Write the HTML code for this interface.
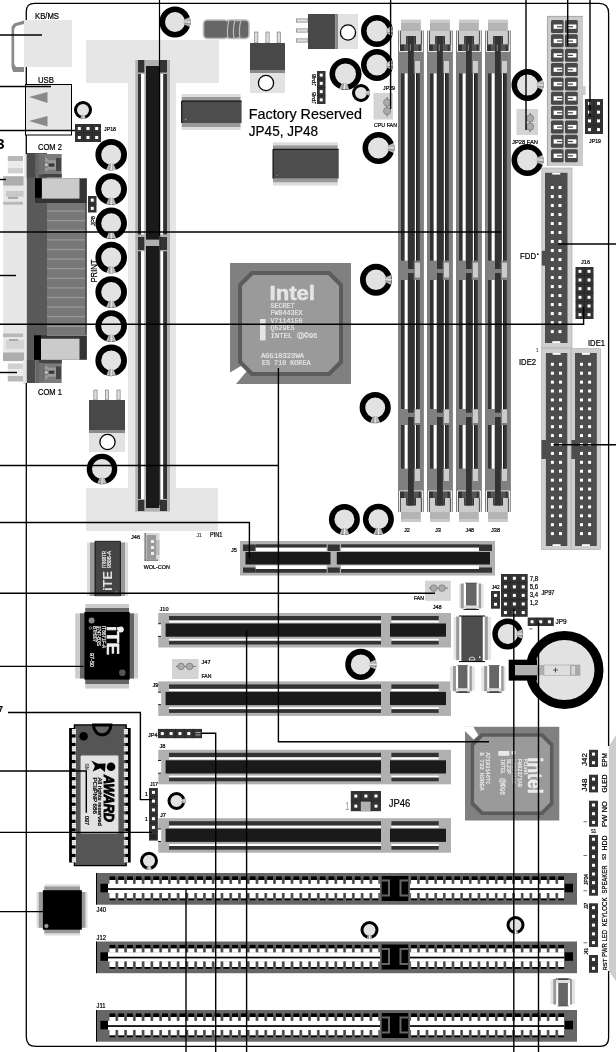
<!DOCTYPE html>
<html><head><meta charset="utf-8"><title>Mainboard layout</title>
<style>html,body{margin:0;padding:0;background:#fff}svg{display:block;filter:grayscale(1)}text{white-space:pre}</style></head>
<body><svg width="616" height="1052" viewBox="0 0 616 1052" shape-rendering="auto">
<rect width="616" height="1052" fill="#fff"/>
<rect x="86.00" y="40.00" width="133.00" height="43.00" fill="#e6e6e6" />
<rect x="128.00" y="40.00" width="48.00" height="491.00" fill="#e6e6e6" />
<rect x="86.00" y="488.00" width="132.00" height="43.00" fill="#e6e6e6" />
<rect x="135.30" y="60.00" width="34.70" height="451.60" fill="#b0b0b0" />
<rect x="138.00" y="74.00" width="3.00" height="160.40" fill="#333" />
<rect x="141.00" y="74.00" width="3.30" height="160.40" fill="#fff" />
<rect x="160.50" y="74.00" width="2.70" height="160.40" fill="#fff" />
<rect x="163.20" y="74.00" width="3.80" height="160.40" fill="#333" />
<rect x="138.00" y="251.30" width="3.00" height="247.70" fill="#333" />
<rect x="141.00" y="251.30" width="3.30" height="247.70" fill="#fff" />
<rect x="160.50" y="251.30" width="2.70" height="247.70" fill="#fff" />
<rect x="163.20" y="251.30" width="3.80" height="247.70" fill="#333" />
<rect x="138.00" y="60.00" width="6.30" height="12.50" fill="#333" />
<rect x="160.00" y="60.00" width="7.00" height="12.50" fill="#333" />
<rect x="138.00" y="237.00" width="6.30" height="13.00" fill="#333" />
<rect x="160.00" y="237.00" width="7.00" height="13.00" fill="#333" />
<rect x="138.00" y="500.00" width="6.30" height="11.00" fill="#333" />
<rect x="160.00" y="500.00" width="7.00" height="11.00" fill="#333" />
<rect x="146.00" y="66.00" width="13.30" height="173.60" fill="#1a1a1a" />
<rect x="146.00" y="246.00" width="13.30" height="262.00" fill="#1a1a1a" />
<rect x="24.00" y="20.00" width="48.00" height="47.00" fill="#e6e6e6" />
<polygon points="24,20.5 14,23.5 11.5,27 11.5,67 13,72 24,72 24,67 16,67 14.2,64 14.2,29 16,26 24,24" fill="#8a8a8a"/>
<text x="35.00" y="18.50" font-size="8.5" fill="#000" text-anchor="start" font-family="'Liberation Sans', sans-serif" textLength="24" lengthAdjust="spacingAndGlyphs" stroke="#000" stroke-width="0.22">KB/MS</text>
<rect x="26.00" y="85.00" width="45.00" height="45.50" fill="#e6e6e6" />
<rect x="25.5" y="84.5" width="46" height="50.5" fill="none" stroke="#000" stroke-width="1"/>
<polygon points="29,97 47.5,92 47.5,103" fill="#8a8a8a"/>
<polygon points="29,121 47.5,116 47.5,126.5" fill="#8a8a8a"/>
<text x="38.00" y="83.00" font-size="8.5" fill="#000" text-anchor="start" font-family="'Liberation Sans', sans-serif" textLength="16" lengthAdjust="spacingAndGlyphs" stroke="#000" stroke-width="0.22">USB</text>
<rect x="75.00" y="124.00" width="26.00" height="18.00" fill="#333" />
<rect x="77.83" y="127.00" width="3.00" height="3.00" fill="#fff" />
<rect x="77.83" y="136.00" width="3.00" height="3.00" fill="#fff" />
<rect x="86.50" y="127.00" width="3.00" height="3.00" fill="#fff" />
<rect x="86.50" y="136.00" width="3.00" height="3.00" fill="#fff" />
<rect x="95.17" y="127.00" width="3.00" height="3.00" fill="#fff" />
<rect x="95.17" y="136.00" width="3.00" height="3.00" fill="#fff" />
<path d="M83.67 124 V142" stroke="#222" stroke-width="0.6"/>
<path d="M92.33 124 V142" stroke="#222" stroke-width="0.6"/>
<path d="M75 133.00 H101" stroke="#222" stroke-width="0.6"/>
<text x="104.00" y="130.50" font-size="6" fill="#000" text-anchor="start" font-family="'Liberation Sans', sans-serif" textLength="12" lengthAdjust="spacingAndGlyphs" stroke="#000" stroke-width="0.22">JP18</text>
<text x="-3.80" y="148.50" font-size="15" fill="#000" text-anchor="start" font-family="'Liberation Sans', sans-serif" font-weight="bold">3</text>
<text x="38.00" y="150.00" font-size="8.5" fill="#000" text-anchor="start" font-family="'Liberation Sans', sans-serif" textLength="24" lengthAdjust="spacingAndGlyphs" stroke="#000" stroke-width="0.22">COM 2</text>
<text x="38.00" y="395.00" font-size="8.5" fill="#000" text-anchor="start" font-family="'Liberation Sans', sans-serif" textLength="24" lengthAdjust="spacingAndGlyphs" stroke="#000" stroke-width="0.22">COM 1</text>
<rect x="3.20" y="176.00" width="23.60" height="185.40" fill="#e7e7e7" />
<rect x="7.80" y="156.00" width="15.20" height="5.00" fill="#b8b8b8" />
<rect x="7.80" y="161.00" width="15.20" height="7.00" fill="#ececec" />
<rect x="7.80" y="168.00" width="15.20" height="5.40" fill="#d0d0d0" />
<rect x="24.30" y="154.00" width="2.70" height="24.00" fill="#e4e4e4" />
<rect x="3.20" y="176.30" width="20.30" height="9.30" fill="#adadad" />
<rect x="6.00" y="191.00" width="17.50" height="5.60" fill="#c8c8c8" />
<rect x="8.00" y="196.60" width="10.00" height="2.40" fill="#aaa" />
<rect x="3.20" y="201.80" width="19.80" height="2.90" fill="#b8b8b8" />
<rect x="3.00" y="333.50" width="20.00" height="3.50" fill="#b8b8b8" />
<rect x="6.00" y="340.00" width="18.00" height="9.00" fill="#d4d4d4" />
<rect x="9.00" y="339.00" width="9.00" height="2.00" fill="#aaa" />
<rect x="3.00" y="352.50" width="21.00" height="8.50" fill="#adadad" />
<rect x="7.80" y="363.50" width="15.20" height="5.50" fill="#d0d0d0" />
<rect x="7.80" y="369.00" width="15.20" height="7.00" fill="#ececec" />
<rect x="7.80" y="376.00" width="15.20" height="5.50" fill="#b8b8b8" />
<rect x="23.00" y="360.00" width="4.00" height="24.00" fill="#e4e4e4" />
<rect x="26.80" y="153.00" width="20.20" height="207.00" fill="#595959" />
<rect x="26.80" y="153.00" width="8.90" height="24.50" fill="#4a4a4a" />
<rect x="47.00" y="203.00" width="39.00" height="132.00" fill="#777" />
<rect x="47.00" y="210.50" width="38.50" height="1.20" fill="#999" />
<rect x="47.00" y="220.10" width="38.50" height="1.20" fill="#999" />
<rect x="47.00" y="229.70" width="38.50" height="1.20" fill="#999" />
<rect x="47.00" y="239.30" width="38.50" height="1.20" fill="#999" />
<rect x="47.00" y="248.90" width="38.50" height="1.20" fill="#999" />
<rect x="47.00" y="258.50" width="38.50" height="1.20" fill="#999" />
<rect x="47.00" y="268.10" width="38.50" height="1.20" fill="#999" />
<rect x="47.00" y="277.70" width="38.50" height="1.20" fill="#999" />
<rect x="47.00" y="287.30" width="38.50" height="1.20" fill="#999" />
<rect x="47.00" y="296.90" width="38.50" height="1.20" fill="#999" />
<rect x="47.00" y="306.50" width="38.50" height="1.20" fill="#999" />
<rect x="47.00" y="316.10" width="38.50" height="1.20" fill="#999" />
<rect x="47.00" y="325.70" width="38.50" height="1.20" fill="#999" />
<rect x="85.30" y="203.00" width="1.50" height="132.00" fill="#444" />
<rect x="35.70" y="154.00" width="26.00" height="23.50" fill="#7c7c7c" />
<rect x="35.70" y="154.00" width="3.30" height="23.50" fill="#666" />
<rect x="56.00" y="158.00" width="5.00" height="12.92" fill="#444" />
<rect x="39.00" y="173.97" width="22.70" height="3.53" fill="#444" />
<polygon points="39,154.47 43,154.47 48.7,160.34 56,160.34 56,169.51 48.7,169.51 42.5,174.21 39,174.21" fill="#9a9a9a"/>
<polygon points="39,154.47 43,154.47 45,156.35 45,172.80 42.5,174.21 39,174.21" fill="#707070"/>
<rect x="49.00" y="163.40" width="5.40" height="3.29" fill="#3a3a3a" />
<circle cx="46.3" cy="164.81" r="2.3" fill="#bbb" stroke="#444" stroke-width="0.6"/>
<rect x="26.80" y="360.00" width="8.90" height="23.00" fill="#4a4a4a" />
<rect x="35.70" y="360.00" width="26.00" height="23.00" fill="#7c7c7c" />
<rect x="35.70" y="360.00" width="3.30" height="23.00" fill="#666" />
<rect x="56.00" y="366.44" width="5.00" height="12.65" fill="#444" />
<rect x="39.00" y="360.00" width="22.70" height="3.45" fill="#444" />
<polygon points="39,382.54 43,382.54 48.7,376.79 56,376.79 56,367.82 48.7,367.82 42.5,363.22 39,363.22" fill="#9a9a9a"/>
<polygon points="39,382.54 43,382.54 45,380.70 45,364.60 42.5,363.22 39,363.22" fill="#707070"/>
<rect x="49.00" y="370.58" width="5.40" height="3.22" fill="#3a3a3a" />
<circle cx="46.3" cy="372.42" r="2.3" fill="#bbb" stroke="#444" stroke-width="0.6"/>
<rect x="35.00" y="178.30" width="51.90" height="24.70" fill="#333" />
<rect x="35.00" y="178.30" width="6.90" height="19.50" fill="#000" />
<rect x="41.90" y="178.30" width="37.60" height="20.30" fill="#cbcbcb" />
<rect x="34.00" y="335.40" width="52.90" height="24.40" fill="#333" />
<rect x="34.00" y="335.40" width="7.00" height="24.40" fill="#000" />
<rect x="41.00" y="338.70" width="38.50" height="21.10" fill="#cbcbcb" />
<rect x="88.00" y="196.00" width="8.50" height="16.50" fill="#333" />
<rect x="90.75" y="198.62" width="3.00" height="3.00" fill="#fff" />
<rect x="90.75" y="206.88" width="3.00" height="3.00" fill="#fff" />
<path d="M88 204.25 H96.5" stroke="#222" stroke-width="0.6"/>
<text x="0.00" y="0.00" font-size="6" fill="#000" text-anchor="start" font-family="'Liberation Sans', sans-serif" transform="translate(95,226) rotate(-90)" textLength="10" lengthAdjust="spacingAndGlyphs" stroke="#000" stroke-width="0.22">JP8</text>
<text x="0.00" y="0.00" font-size="8.5" fill="#000" text-anchor="start" font-family="'Liberation Sans', sans-serif" transform="translate(96.5,282.5) rotate(-90)" textLength="23" lengthAdjust="spacingAndGlyphs" stroke="#000" stroke-width="0.22">PRINT</text>
<circle cx="111.20" cy="154.70" r="12.90" fill="#e2e2e2" stroke="#000" stroke-width="5.80"/>
<polygon points="113.43,163.42 116.26,169.98 106.14,169.98 108.97,163.42" fill="#b8b8b8"/>
<path d="M111.20 163.70 L111.20 170.80" stroke="#fff" stroke-width="0.8"/>
<path d="M110.30 163.66 L108.95 170.64" stroke="#777" stroke-width="0.6"/>
<circle cx="111.20" cy="189.10" r="12.90" fill="#e2e2e2" stroke="#000" stroke-width="5.80"/>
<polygon points="113.43,197.82 116.26,204.38 106.14,204.38 108.97,197.82" fill="#b8b8b8"/>
<path d="M111.20 198.10 L111.20 205.20" stroke="#fff" stroke-width="0.8"/>
<path d="M110.30 198.06 L108.95 205.04" stroke="#777" stroke-width="0.6"/>
<circle cx="111.20" cy="223.30" r="12.90" fill="#e2e2e2" stroke="#000" stroke-width="5.80"/>
<polygon points="113.43,232.02 116.26,238.58 106.14,238.58 108.97,232.02" fill="#b8b8b8"/>
<path d="M111.20 232.30 L111.20 239.40" stroke="#fff" stroke-width="0.8"/>
<path d="M110.30 232.26 L108.95 239.24" stroke="#777" stroke-width="0.6"/>
<circle cx="111.20" cy="257.60" r="12.90" fill="#e2e2e2" stroke="#000" stroke-width="5.80"/>
<polygon points="113.43,266.32 116.26,272.88 106.14,272.88 108.97,266.32" fill="#b8b8b8"/>
<path d="M111.20 266.60 L111.20 273.70" stroke="#fff" stroke-width="0.8"/>
<path d="M110.30 266.56 L108.95 273.54" stroke="#777" stroke-width="0.6"/>
<circle cx="111.20" cy="292.00" r="12.90" fill="#e2e2e2" stroke="#000" stroke-width="5.80"/>
<polygon points="113.43,300.72 116.26,307.28 106.14,307.28 108.97,300.72" fill="#b8b8b8"/>
<path d="M111.20 301.00 L111.20 308.10" stroke="#fff" stroke-width="0.8"/>
<path d="M110.30 300.96 L108.95 307.94" stroke="#777" stroke-width="0.6"/>
<circle cx="111.20" cy="326.00" r="12.90" fill="#e2e2e2" stroke="#000" stroke-width="5.80"/>
<polygon points="113.43,334.72 116.26,341.28 106.14,341.28 108.97,334.72" fill="#b8b8b8"/>
<path d="M111.20 335.00 L111.20 342.10" stroke="#fff" stroke-width="0.8"/>
<path d="M110.30 334.96 L108.95 341.94" stroke="#777" stroke-width="0.6"/>
<circle cx="111.20" cy="360.40" r="12.90" fill="#e2e2e2" stroke="#000" stroke-width="5.80"/>
<polygon points="113.43,369.12 116.26,375.68 106.14,375.68 108.97,369.12" fill="#b8b8b8"/>
<path d="M111.20 369.40 L111.20 376.50" stroke="#fff" stroke-width="0.8"/>
<path d="M110.30 369.36 L108.95 376.34" stroke="#777" stroke-width="0.6"/>
<circle cx="175.00" cy="22.00" r="12.75" fill="#e2e2e2" stroke="#000" stroke-width="5.50"/>
<polygon points="183.72,19.77 190.00,17.03 190.00,26.97 183.72,24.23" fill="#b8b8b8"/>
<path d="M184.00 22.00 L190.80 22.00" stroke="#fff" stroke-width="0.8"/>
<path d="M183.96 22.90 L190.65 24.20" stroke="#777" stroke-width="0.6"/>
<circle cx="83.00" cy="110.00" r="7.50" fill="#e2e2e2" stroke="#000" stroke-width="3.00"/>
<polygon points="84.24,114.84 85.93,118.83 80.07,118.83 81.76,114.84" fill="#b8b8b8"/>
<path d="M83.00 115.00 L83.00 119.30" stroke="#fff" stroke-width="0.8"/>
<path d="M82.50 114.98 L81.70 119.21" stroke="#777" stroke-width="0.6"/>
<circle cx="377.00" cy="31.00" r="13.25" fill="#e2e2e2" stroke="#000" stroke-width="5.50"/>
<polygon points="386.20,28.65 392.47,25.87 392.47,36.13 386.20,33.35" fill="#b8b8b8"/>
<path d="M386.50 31.00 L393.30 31.00" stroke="#fff" stroke-width="0.8"/>
<path d="M386.45 31.95 L393.14 33.27" stroke="#777" stroke-width="0.6"/>
<circle cx="377.00" cy="65.00" r="13.25" fill="#e2e2e2" stroke="#000" stroke-width="5.50"/>
<polygon points="386.20,62.65 392.47,59.87 392.47,70.13 386.20,67.35" fill="#b8b8b8"/>
<path d="M386.50 65.00 L393.30 65.00" stroke="#fff" stroke-width="0.8"/>
<path d="M386.45 65.95 L393.14 67.27" stroke="#777" stroke-width="0.6"/>
<circle cx="345.50" cy="74.00" r="13.25" fill="#e2e2e2" stroke="#000" stroke-width="5.50"/>
<polygon points="347.04,83.37 349.26,89.86 339.04,88.97 342.36,82.96" fill="#b8b8b8"/>
<path d="M344.67 83.46 L344.08 90.24" stroke="#fff" stroke-width="0.8"/>
<path d="M343.73 83.33 L341.83 89.88" stroke="#777" stroke-width="0.6"/>
<circle cx="361.00" cy="93.00" r="7.50" fill="#e2e2e2" stroke="#000" stroke-width="3.00"/>
<polygon points="365.84,91.76 369.83,90.07 369.83,95.93 365.84,94.24" fill="#b8b8b8"/>
<path d="M366.00 93.00 L370.30 93.00" stroke="#fff" stroke-width="0.8"/>
<path d="M365.98 93.50 L370.21 94.30" stroke="#777" stroke-width="0.6"/>
<circle cx="378.50" cy="148.00" r="13.25" fill="#e2e2e2" stroke="#000" stroke-width="5.50"/>
<polygon points="387.70,145.65 393.97,142.87 393.97,153.13 387.70,150.35" fill="#b8b8b8"/>
<path d="M388.00 148.00 L394.80 148.00" stroke="#fff" stroke-width="0.8"/>
<path d="M387.95 148.95 L394.64 150.27" stroke="#777" stroke-width="0.6"/>
<circle cx="527.50" cy="85.00" r="13.25" fill="#e2e2e2" stroke="#000" stroke-width="5.50"/>
<polygon points="536.70,82.65 542.97,79.87 542.97,90.13 536.70,87.35" fill="#b8b8b8"/>
<path d="M537.00 85.00 L543.80 85.00" stroke="#fff" stroke-width="0.8"/>
<path d="M536.95 85.95 L543.64 87.27" stroke="#777" stroke-width="0.6"/>
<circle cx="527.50" cy="160.00" r="13.25" fill="#e2e2e2" stroke="#000" stroke-width="5.50"/>
<polygon points="536.70,157.65 542.97,154.87 542.97,165.13 536.70,162.35" fill="#b8b8b8"/>
<path d="M537.00 160.00 L543.80 160.00" stroke="#fff" stroke-width="0.8"/>
<path d="M536.95 160.95 L543.64 162.27" stroke="#777" stroke-width="0.6"/>
<circle cx="102.00" cy="469.00" r="12.65" fill="#e2e2e2" stroke="#000" stroke-width="5.30"/>
<polygon points="104.23,477.72 106.91,483.81 97.09,483.81 99.77,477.72" fill="#b8b8b8"/>
<path d="M102.00 478.00 L102.00 484.60" stroke="#fff" stroke-width="0.8"/>
<path d="M101.10 477.96 L99.82 484.45" stroke="#777" stroke-width="0.6"/>
<circle cx="376.00" cy="279.80" r="13.15" fill="#e2e2e2" stroke="#000" stroke-width="5.70"/>
<polygon points="385.01,277.50 391.47,274.67 391.47,284.93 385.01,282.10" fill="#b8b8b8"/>
<path d="M385.30 279.80 L392.30 279.80" stroke="#fff" stroke-width="0.8"/>
<path d="M385.25 280.73 L392.14 282.07" stroke="#777" stroke-width="0.6"/>
<circle cx="375.20" cy="407.60" r="12.80" fill="#e2e2e2" stroke="#000" stroke-width="5.60"/>
<polygon points="377.43,416.32 380.20,422.69 370.20,422.69 372.97,416.32" fill="#b8b8b8"/>
<path d="M375.20 416.60 L375.20 423.50" stroke="#fff" stroke-width="0.8"/>
<path d="M374.30 416.56 L372.98 423.34" stroke="#777" stroke-width="0.6"/>
<circle cx="344.40" cy="519.40" r="12.75" fill="#e2e2e2" stroke="#000" stroke-width="5.50"/>
<polygon points="346.63,528.12 349.37,534.40 339.43,534.40 342.17,528.12" fill="#b8b8b8"/>
<path d="M344.40 528.40 L344.40 535.20" stroke="#fff" stroke-width="0.8"/>
<path d="M343.50 528.36 L342.20 535.05" stroke="#777" stroke-width="0.6"/>
<circle cx="378.40" cy="519.20" r="12.75" fill="#e2e2e2" stroke="#000" stroke-width="5.50"/>
<polygon points="380.63,527.92 383.37,534.20 373.43,534.20 376.17,527.92" fill="#b8b8b8"/>
<path d="M378.40 528.20 L378.40 535.00" stroke="#fff" stroke-width="0.8"/>
<path d="M377.50 528.16 L376.20 534.85" stroke="#777" stroke-width="0.6"/>
<circle cx="360.80" cy="664.40" r="12.80" fill="#e2e2e2" stroke="#000" stroke-width="5.60"/>
<polygon points="369.52,662.17 375.89,659.40 375.89,669.40 369.52,666.63" fill="#b8b8b8"/>
<path d="M369.80 664.40 L376.70 664.40" stroke="#fff" stroke-width="0.8"/>
<path d="M369.76 665.30 L376.54 666.62" stroke="#777" stroke-width="0.6"/>
<circle cx="507.70" cy="634.00" r="12.70" fill="#e2e2e2" stroke="#000" stroke-width="5.40"/>
<polygon points="516.42,631.77 522.60,629.06 522.60,638.94 516.42,636.23" fill="#b8b8b8"/>
<path d="M516.70 634.00 L523.40 634.00" stroke="#fff" stroke-width="0.8"/>
<path d="M516.66 634.90 L523.25 636.19" stroke="#777" stroke-width="0.6"/>
<circle cx="149.00" cy="860.80" r="7.50" fill="#e2e2e2" stroke="#000" stroke-width="3.00"/>
<polygon points="150.24,865.64 151.93,869.63 146.07,869.63 147.76,865.64" fill="#b8b8b8"/>
<path d="M149.00 865.80 L149.00 870.10" stroke="#fff" stroke-width="0.8"/>
<path d="M148.50 865.78 L147.70 870.01" stroke="#777" stroke-width="0.6"/>
<circle cx="176.50" cy="801.00" r="7.50" fill="#e2e2e2" stroke="#000" stroke-width="3.00"/>
<polygon points="181.34,799.76 185.33,798.07 185.33,803.93 181.34,802.24" fill="#b8b8b8"/>
<path d="M181.50 801.00 L185.80 801.00" stroke="#fff" stroke-width="0.8"/>
<path d="M181.48 801.50 L185.71 802.30" stroke="#777" stroke-width="0.6"/>
<circle cx="369.50" cy="930.00" r="7.50" fill="#e2e2e2" stroke="#000" stroke-width="3.00"/>
<polygon points="370.74,934.84 372.43,938.83 366.57,938.83 368.26,934.84" fill="#b8b8b8"/>
<path d="M369.50 935.00 L369.50 939.30" stroke="#fff" stroke-width="0.8"/>
<path d="M369.00 934.98 L368.20 939.21" stroke="#777" stroke-width="0.6"/>
<circle cx="515.50" cy="925.00" r="7.50" fill="#e2e2e2" stroke="#000" stroke-width="3.00"/>
<polygon points="516.74,929.84 518.43,933.83 512.57,933.83 514.26,929.84" fill="#b8b8b8"/>
<path d="M515.50 930.00 L515.50 934.30" stroke="#fff" stroke-width="0.8"/>
<path d="M515.00 929.98 L514.20 934.21" stroke="#777" stroke-width="0.6"/>
<rect x="254.70" y="32.00" width="3.20" height="11.00" fill="#ddd" stroke="#555" stroke-width="0.5"/>
<rect x="265.90" y="32.00" width="3.20" height="11.00" fill="#ddd" stroke="#555" stroke-width="0.5"/>
<rect x="277.10" y="32.00" width="3.20" height="11.00" fill="#ddd" stroke="#555" stroke-width="0.5"/>
<rect x="250.00" y="43.00" width="35.00" height="27.00" fill="#484848" />
<rect x="250.00" y="70.00" width="35.00" height="3.00" fill="#8a8a8a" />
<rect x="250.00" y="73.00" width="35.00" height="20.00" fill="#e2e2e2" />
<circle cx="266" cy="83" r="7.6" fill="#fff" stroke="#000" stroke-width="1.3"/>
<rect x="93.88" y="390.00" width="3.20" height="10.00" fill="#ddd" stroke="#555" stroke-width="0.5"/>
<rect x="105.40" y="390.00" width="3.20" height="10.00" fill="#ddd" stroke="#555" stroke-width="0.5"/>
<rect x="116.92" y="390.00" width="3.20" height="10.00" fill="#ddd" stroke="#555" stroke-width="0.5"/>
<rect x="89.00" y="400.00" width="36.00" height="30.00" fill="#484848" />
<rect x="89.00" y="430.00" width="36.00" height="3.00" fill="#8a8a8a" />
<rect x="89.00" y="433.00" width="36.00" height="19.00" fill="#e2e2e2" />
<circle cx="107.5" cy="442" r="7.6" fill="#fff" stroke="#000" stroke-width="1.3"/>
<rect x="296.50" y="18.90" width="11.50" height="3.20" fill="#ddd" stroke="#555" stroke-width="0.5"/>
<rect x="296.50" y="28.90" width="11.50" height="3.20" fill="#ddd" stroke="#555" stroke-width="0.5"/>
<rect x="296.50" y="38.90" width="11.50" height="3.20" fill="#ddd" stroke="#555" stroke-width="0.5"/>
<rect x="308.00" y="14.00" width="27.50" height="35.00" fill="#484848" />
<rect x="335.50" y="14.00" width="2.50" height="35.00" fill="#8a8a8a" />
<rect x="338.00" y="14.00" width="20.00" height="35.00" fill="#e2e2e2" />
<circle cx="348" cy="32.5" r="7.6" fill="#fff" stroke="#000" stroke-width="1.3"/>
<rect x="203.5" y="20" width="24.5" height="18.5" rx="4" fill="#6a6a6a" stroke="#bbb" stroke-width="1.6"/>
<rect x="226" y="20" width="17" height="18.5" rx="4" fill="#6a6a6a" stroke="#bbb" stroke-width="1.6"/>
<rect x="237" y="20" width="12" height="18.5" rx="4" fill="#6a6a6a" stroke="#bbb" stroke-width="1.6"/>
<rect x="205" y="21.5" width="42.5" height="15.5" rx="3.5" fill="#666"/>
<path d="M229 20 Q226.5 29 228 38.5" stroke="#bbb" stroke-width="1.2" fill="none"/>
<path d="M235 20 Q232.5 29 234 38.5" stroke="#bbb" stroke-width="1.2" fill="none"/>
<path d="M241 20 Q238.5 29 240 38.5" stroke="#bbb" stroke-width="1.2" fill="none"/>
<rect x="181.70" y="94.00" width="58.90" height="3.00" fill="#ddd" />
<rect x="181.70" y="97.00" width="58.90" height="4.00" fill="#999" />
<rect x="181.70" y="123.00" width="58.90" height="4.00" fill="#999" />
<rect x="181.70" y="127.00" width="58.90" height="3.00" fill="#ddd" />
<rect x="181.70" y="101.00" width="59.90" height="22.00" fill="#4d4d4d" />
<path d="M181.7 123 V101 H241.6" stroke="#000" stroke-width="1" fill="none"/>
<circle cx="185.7" cy="119.5" r="1.2" fill="#999" stroke="#222" stroke-width="0.5"/>
<rect x="273.00" y="142.30" width="64.70" height="3.00" fill="#ddd" />
<rect x="273.00" y="145.30" width="64.70" height="4.00" fill="#999" />
<rect x="273.00" y="178.60" width="64.70" height="4.00" fill="#999" />
<rect x="273.00" y="182.60" width="64.70" height="3.00" fill="#ddd" />
<rect x="273.00" y="149.30" width="65.70" height="29.30" fill="#4d4d4d" />
<path d="M273 178.6 V149.3 H338.7" stroke="#000" stroke-width="1" fill="none"/>
<circle cx="277" cy="175.1" r="1.2" fill="#999" stroke="#222" stroke-width="0.5"/>
<text x="248.80" y="118.50" font-size="14.5" fill="#000" text-anchor="start" font-family="'Liberation Sans', sans-serif" stroke="#000" stroke-width="0.2" textLength="113.2" lengthAdjust="spacingAndGlyphs">Factory Reserved</text>
<text x="248.80" y="136.20" font-size="14.5" fill="#000" text-anchor="start" font-family="'Liberation Sans', sans-serif" stroke="#000" stroke-width="0.2" textLength="69.3" lengthAdjust="spacingAndGlyphs">JP45, JP48</text>
<rect x="317.00" y="71.00" width="8.50" height="33.00" fill="#333" />
<rect x="319.75" y="73.62" width="3.00" height="3.00" fill="#fff" />
<rect x="319.75" y="81.88" width="3.00" height="3.00" fill="#fff" />
<rect x="319.75" y="90.12" width="3.00" height="3.00" fill="#fff" />
<rect x="319.75" y="98.38" width="3.00" height="3.00" fill="#fff" />
<path d="M317 79.25 H325.5" stroke="#222" stroke-width="0.6"/>
<path d="M317 87.50 H325.5" stroke="#222" stroke-width="0.6"/>
<path d="M317 95.75 H325.5" stroke="#222" stroke-width="0.6"/>
<text x="0.00" y="0.00" font-size="5.5" fill="#000" text-anchor="start" font-family="'Liberation Sans', sans-serif" transform="translate(315.5,104) rotate(-90)" textLength="12" lengthAdjust="spacingAndGlyphs" stroke="#000" stroke-width="0.22">JP45</text>
<text x="0.00" y="0.00" font-size="5.5" fill="#000" text-anchor="start" font-family="'Liberation Sans', sans-serif" transform="translate(315.5,86) rotate(-90)" textLength="12" lengthAdjust="spacingAndGlyphs" stroke="#000" stroke-width="0.22">JP48</text>
<rect x="373.50" y="93.00" width="19.50" height="26.50" fill="#d4d4d4" />
<path d="M387.1 97 V116.5" stroke="#666" stroke-width="1"/>
<circle cx="387.1" cy="102.54" r="3.6" fill="#aaa" stroke="#777" stroke-width="0.7"/>
<circle cx="387.1" cy="111.02" r="3.6" fill="#aaa" stroke="#777" stroke-width="0.7"/>
<text x="383.00" y="90.00" font-size="6" fill="#000" text-anchor="start" font-family="'Liberation Sans', sans-serif" textLength="12" lengthAdjust="spacingAndGlyphs" stroke="#000" stroke-width="0.22">JP29</text>
<text x="374.00" y="126.50" font-size="6" fill="#000" text-anchor="start" font-family="'Liberation Sans', sans-serif" textLength="23" lengthAdjust="spacingAndGlyphs" stroke="#000" stroke-width="0.22">CPU FAN</text>
<rect x="516.50" y="109.00" width="21.50" height="26.00" fill="#d4d4d4" />
<path d="M530.1 113 V132" stroke="#666" stroke-width="1"/>
<circle cx="530.1" cy="118.36" r="3.6" fill="#aaa" stroke="#777" stroke-width="0.7"/>
<circle cx="530.1" cy="126.68" r="3.6" fill="#aaa" stroke="#777" stroke-width="0.7"/>
<text x="512.00" y="143.50" font-size="6" fill="#000" text-anchor="start" font-family="'Liberation Sans', sans-serif" textLength="26" lengthAdjust="spacingAndGlyphs" stroke="#000" stroke-width="0.22">JP28 FAN</text>
<rect x="401.00" y="19.80" width="19.80" height="11.20" fill="#b4b4b4" />
<rect x="401.00" y="19.80" width="19.80" height="3.20" fill="#cacaca" />
<rect x="401.00" y="511.00" width="19.80" height="11.00" fill="#b4b4b4" />
<rect x="401.00" y="519.00" width="19.80" height="3.00" fill="#cacaca" />
<rect x="398.00" y="30.50" width="25.90" height="481.50" fill="#808080" />
<rect x="401.00" y="30.50" width="19.80" height="14.00" fill="#ccc" />
<rect x="401.00" y="498.00" width="19.80" height="14.00" fill="#ccc" />
<path d="M399.5 30.5 V51.4 H422.6 V30.5" stroke="#fff" stroke-width="0.9" fill="none"/>
<path d="M399.5 512 V491 H422.6 V512" stroke="#fff" stroke-width="0.9" fill="none"/>
<path d="M400.4 31 V44.5 M421.6 31 V44.5 M400.4 498 V511.5 M421.6 498 V511.5" stroke="#444" stroke-width="0.7" fill="none"/>
<rect x="400.00" y="44.50" width="4.20" height="6.50" fill="#333" />
<rect x="404.20" y="44.50" width="4.30" height="6.50" fill="#555" />
<rect x="412.20" y="44.50" width="6.20" height="6.50" fill="#555" />
<rect x="418.40" y="44.50" width="2.40" height="6.50" fill="#333" />
<rect x="400.00" y="491.50" width="4.20" height="6.50" fill="#333" />
<rect x="404.20" y="491.50" width="4.30" height="6.50" fill="#555" />
<rect x="412.20" y="491.50" width="6.20" height="6.50" fill="#555" />
<rect x="418.40" y="491.50" width="2.40" height="6.50" fill="#333" />
<rect x="406.10" y="36.10" width="9.90" height="8.40" fill="#333" />
<rect x="406.10" y="498.00" width="9.90" height="7.50" fill="#333" />
<path d="M407.6 37 V44.5 M414.4 37 V44.5 M407.6 498 V504.5 M414.4 498 V504.5" stroke="#777" stroke-width="0.5"/>
<rect x="408.00" y="36.10" width="5.80" height="232.90" fill="#333" />
<rect x="408.00" y="273.00" width="5.80" height="139.70" fill="#333" />
<rect x="408.00" y="417.00" width="5.80" height="88.50" fill="#333" />
<path d="M410.3 44.5 V51" stroke="#ddd" stroke-width="0.5"/>
<rect x="401.00" y="73.40" width="3.70" height="187.20" fill="#333" />
<rect x="404.70" y="73.40" width="3.10" height="187.20" fill="#fff" />
<rect x="407.80" y="73.40" width="7.10" height="187.20" fill="#333" />
<rect x="414.90" y="73.40" width="1.20" height="187.20" fill="#fff" />
<rect x="416.10" y="73.40" width="0.80" height="187.20" fill="#000" />
<rect x="416.90" y="73.40" width="2.90" height="187.20" fill="#333" />
<rect x="401.00" y="280.00" width="3.70" height="129.00" fill="#333" />
<rect x="404.70" y="280.00" width="3.10" height="129.00" fill="#fff" />
<rect x="407.80" y="280.00" width="7.10" height="129.00" fill="#333" />
<rect x="414.90" y="280.00" width="1.20" height="129.00" fill="#fff" />
<rect x="416.10" y="280.00" width="0.80" height="129.00" fill="#000" />
<rect x="416.90" y="280.00" width="2.90" height="129.00" fill="#333" />
<rect x="401.00" y="425.00" width="3.70" height="43.60" fill="#333" />
<rect x="404.70" y="425.00" width="3.10" height="43.60" fill="#fff" />
<rect x="407.80" y="425.00" width="7.10" height="43.60" fill="#333" />
<rect x="414.90" y="425.00" width="1.20" height="43.60" fill="#fff" />
<rect x="416.10" y="425.00" width="0.80" height="43.60" fill="#000" />
<rect x="416.90" y="425.00" width="2.90" height="43.60" fill="#333" />
<rect x="415.00" y="61.00" width="5.00" height="11.90" fill="#ccc" />
<rect x="415.00" y="262.70" width="5.00" height="14.80" fill="#ccc" />
<rect x="415.00" y="409.50" width="5.00" height="13.50" fill="#ccc" />
<rect x="415.00" y="469.00" width="5.00" height="12.00" fill="#ccc" />
<rect x="430.00" y="19.80" width="19.80" height="11.20" fill="#b4b4b4" />
<rect x="430.00" y="19.80" width="19.80" height="3.20" fill="#cacaca" />
<rect x="430.00" y="511.00" width="19.80" height="11.00" fill="#b4b4b4" />
<rect x="430.00" y="519.00" width="19.80" height="3.00" fill="#cacaca" />
<rect x="427.00" y="30.50" width="25.90" height="481.50" fill="#808080" />
<rect x="430.00" y="30.50" width="19.80" height="14.00" fill="#ccc" />
<rect x="430.00" y="498.00" width="19.80" height="14.00" fill="#ccc" />
<path d="M428.5 30.5 V51.4 H451.6 V30.5" stroke="#fff" stroke-width="0.9" fill="none"/>
<path d="M428.5 512 V491 H451.6 V512" stroke="#fff" stroke-width="0.9" fill="none"/>
<path d="M429.4 31 V44.5 M450.6 31 V44.5 M429.4 498 V511.5 M450.6 498 V511.5" stroke="#444" stroke-width="0.7" fill="none"/>
<rect x="429.00" y="44.50" width="4.20" height="6.50" fill="#333" />
<rect x="433.20" y="44.50" width="4.30" height="6.50" fill="#555" />
<rect x="441.20" y="44.50" width="6.20" height="6.50" fill="#555" />
<rect x="447.40" y="44.50" width="2.40" height="6.50" fill="#333" />
<rect x="429.00" y="491.50" width="4.20" height="6.50" fill="#333" />
<rect x="433.20" y="491.50" width="4.30" height="6.50" fill="#555" />
<rect x="441.20" y="491.50" width="6.20" height="6.50" fill="#555" />
<rect x="447.40" y="491.50" width="2.40" height="6.50" fill="#333" />
<rect x="435.10" y="36.10" width="9.90" height="8.40" fill="#333" />
<rect x="435.10" y="498.00" width="9.90" height="7.50" fill="#333" />
<path d="M436.6 37 V44.5 M443.4 37 V44.5 M436.6 498 V504.5 M443.4 498 V504.5" stroke="#777" stroke-width="0.5"/>
<rect x="437.00" y="36.10" width="5.80" height="232.90" fill="#333" />
<rect x="437.00" y="273.00" width="5.80" height="139.70" fill="#333" />
<rect x="437.00" y="417.00" width="5.80" height="88.50" fill="#333" />
<path d="M439.3 44.5 V51" stroke="#ddd" stroke-width="0.5"/>
<rect x="430.00" y="73.40" width="3.70" height="187.20" fill="#333" />
<rect x="433.70" y="73.40" width="3.10" height="187.20" fill="#fff" />
<rect x="436.80" y="73.40" width="7.10" height="187.20" fill="#333" />
<rect x="443.90" y="73.40" width="1.20" height="187.20" fill="#fff" />
<rect x="445.10" y="73.40" width="0.80" height="187.20" fill="#000" />
<rect x="445.90" y="73.40" width="2.90" height="187.20" fill="#333" />
<rect x="430.00" y="280.00" width="3.70" height="129.00" fill="#333" />
<rect x="433.70" y="280.00" width="3.10" height="129.00" fill="#fff" />
<rect x="436.80" y="280.00" width="7.10" height="129.00" fill="#333" />
<rect x="443.90" y="280.00" width="1.20" height="129.00" fill="#fff" />
<rect x="445.10" y="280.00" width="0.80" height="129.00" fill="#000" />
<rect x="445.90" y="280.00" width="2.90" height="129.00" fill="#333" />
<rect x="430.00" y="425.00" width="3.70" height="43.60" fill="#333" />
<rect x="433.70" y="425.00" width="3.10" height="43.60" fill="#fff" />
<rect x="436.80" y="425.00" width="7.10" height="43.60" fill="#333" />
<rect x="443.90" y="425.00" width="1.20" height="43.60" fill="#fff" />
<rect x="445.10" y="425.00" width="0.80" height="43.60" fill="#000" />
<rect x="445.90" y="425.00" width="2.90" height="43.60" fill="#333" />
<rect x="444.00" y="61.00" width="5.00" height="11.90" fill="#ccc" />
<rect x="444.00" y="262.70" width="5.00" height="14.80" fill="#ccc" />
<rect x="444.00" y="409.50" width="5.00" height="13.50" fill="#ccc" />
<rect x="444.00" y="469.00" width="5.00" height="12.00" fill="#ccc" />
<rect x="459.00" y="19.80" width="19.80" height="11.20" fill="#b4b4b4" />
<rect x="459.00" y="19.80" width="19.80" height="3.20" fill="#cacaca" />
<rect x="459.00" y="511.00" width="19.80" height="11.00" fill="#b4b4b4" />
<rect x="459.00" y="519.00" width="19.80" height="3.00" fill="#cacaca" />
<rect x="456.00" y="30.50" width="25.90" height="481.50" fill="#808080" />
<rect x="459.00" y="30.50" width="19.80" height="14.00" fill="#ccc" />
<rect x="459.00" y="498.00" width="19.80" height="14.00" fill="#ccc" />
<path d="M457.5 30.5 V51.4 H480.6 V30.5" stroke="#fff" stroke-width="0.9" fill="none"/>
<path d="M457.5 512 V491 H480.6 V512" stroke="#fff" stroke-width="0.9" fill="none"/>
<path d="M458.4 31 V44.5 M479.6 31 V44.5 M458.4 498 V511.5 M479.6 498 V511.5" stroke="#444" stroke-width="0.7" fill="none"/>
<rect x="458.00" y="44.50" width="4.20" height="6.50" fill="#333" />
<rect x="462.20" y="44.50" width="4.30" height="6.50" fill="#555" />
<rect x="470.20" y="44.50" width="6.20" height="6.50" fill="#555" />
<rect x="476.40" y="44.50" width="2.40" height="6.50" fill="#333" />
<rect x="458.00" y="491.50" width="4.20" height="6.50" fill="#333" />
<rect x="462.20" y="491.50" width="4.30" height="6.50" fill="#555" />
<rect x="470.20" y="491.50" width="6.20" height="6.50" fill="#555" />
<rect x="476.40" y="491.50" width="2.40" height="6.50" fill="#333" />
<rect x="464.10" y="36.10" width="9.90" height="8.40" fill="#333" />
<rect x="464.10" y="498.00" width="9.90" height="7.50" fill="#333" />
<path d="M465.6 37 V44.5 M472.4 37 V44.5 M465.6 498 V504.5 M472.4 498 V504.5" stroke="#777" stroke-width="0.5"/>
<rect x="466.00" y="36.10" width="5.80" height="232.90" fill="#333" />
<rect x="466.00" y="273.00" width="5.80" height="139.70" fill="#333" />
<rect x="466.00" y="417.00" width="5.80" height="88.50" fill="#333" />
<path d="M468.3 44.5 V51" stroke="#ddd" stroke-width="0.5"/>
<rect x="459.00" y="73.40" width="3.70" height="187.20" fill="#333" />
<rect x="462.70" y="73.40" width="3.10" height="187.20" fill="#fff" />
<rect x="465.80" y="73.40" width="7.10" height="187.20" fill="#333" />
<rect x="472.90" y="73.40" width="1.20" height="187.20" fill="#fff" />
<rect x="474.10" y="73.40" width="0.80" height="187.20" fill="#000" />
<rect x="474.90" y="73.40" width="2.90" height="187.20" fill="#333" />
<rect x="459.00" y="280.00" width="3.70" height="129.00" fill="#333" />
<rect x="462.70" y="280.00" width="3.10" height="129.00" fill="#fff" />
<rect x="465.80" y="280.00" width="7.10" height="129.00" fill="#333" />
<rect x="472.90" y="280.00" width="1.20" height="129.00" fill="#fff" />
<rect x="474.10" y="280.00" width="0.80" height="129.00" fill="#000" />
<rect x="474.90" y="280.00" width="2.90" height="129.00" fill="#333" />
<rect x="459.00" y="425.00" width="3.70" height="43.60" fill="#333" />
<rect x="462.70" y="425.00" width="3.10" height="43.60" fill="#fff" />
<rect x="465.80" y="425.00" width="7.10" height="43.60" fill="#333" />
<rect x="472.90" y="425.00" width="1.20" height="43.60" fill="#fff" />
<rect x="474.10" y="425.00" width="0.80" height="43.60" fill="#000" />
<rect x="474.90" y="425.00" width="2.90" height="43.60" fill="#333" />
<rect x="473.00" y="61.00" width="5.00" height="11.90" fill="#ccc" />
<rect x="473.00" y="262.70" width="5.00" height="14.80" fill="#ccc" />
<rect x="473.00" y="409.50" width="5.00" height="13.50" fill="#ccc" />
<rect x="473.00" y="469.00" width="5.00" height="12.00" fill="#ccc" />
<rect x="488.00" y="19.80" width="19.80" height="11.20" fill="#b4b4b4" />
<rect x="488.00" y="19.80" width="19.80" height="3.20" fill="#cacaca" />
<rect x="488.00" y="511.00" width="19.80" height="11.00" fill="#b4b4b4" />
<rect x="488.00" y="519.00" width="19.80" height="3.00" fill="#cacaca" />
<rect x="485.00" y="30.50" width="25.90" height="481.50" fill="#808080" />
<rect x="488.00" y="30.50" width="19.80" height="14.00" fill="#ccc" />
<rect x="488.00" y="498.00" width="19.80" height="14.00" fill="#ccc" />
<path d="M486.5 30.5 V51.4 H509.6 V30.5" stroke="#fff" stroke-width="0.9" fill="none"/>
<path d="M486.5 512 V491 H509.6 V512" stroke="#fff" stroke-width="0.9" fill="none"/>
<path d="M487.4 31 V44.5 M508.6 31 V44.5 M487.4 498 V511.5 M508.6 498 V511.5" stroke="#444" stroke-width="0.7" fill="none"/>
<rect x="487.00" y="44.50" width="4.20" height="6.50" fill="#333" />
<rect x="491.20" y="44.50" width="4.30" height="6.50" fill="#555" />
<rect x="499.20" y="44.50" width="6.20" height="6.50" fill="#555" />
<rect x="505.40" y="44.50" width="2.40" height="6.50" fill="#333" />
<rect x="487.00" y="491.50" width="4.20" height="6.50" fill="#333" />
<rect x="491.20" y="491.50" width="4.30" height="6.50" fill="#555" />
<rect x="499.20" y="491.50" width="6.20" height="6.50" fill="#555" />
<rect x="505.40" y="491.50" width="2.40" height="6.50" fill="#333" />
<rect x="493.10" y="36.10" width="9.90" height="8.40" fill="#333" />
<rect x="493.10" y="498.00" width="9.90" height="7.50" fill="#333" />
<path d="M494.6 37 V44.5 M501.4 37 V44.5 M494.6 498 V504.5 M501.4 498 V504.5" stroke="#777" stroke-width="0.5"/>
<rect x="495.00" y="36.10" width="5.80" height="232.90" fill="#333" />
<rect x="495.00" y="273.00" width="5.80" height="139.70" fill="#333" />
<rect x="495.00" y="417.00" width="5.80" height="88.50" fill="#333" />
<path d="M497.3 44.5 V51" stroke="#ddd" stroke-width="0.5"/>
<rect x="488.00" y="73.40" width="3.70" height="187.20" fill="#333" />
<rect x="491.70" y="73.40" width="3.10" height="187.20" fill="#fff" />
<rect x="494.80" y="73.40" width="7.10" height="187.20" fill="#333" />
<rect x="501.90" y="73.40" width="1.20" height="187.20" fill="#fff" />
<rect x="503.10" y="73.40" width="0.80" height="187.20" fill="#000" />
<rect x="503.90" y="73.40" width="2.90" height="187.20" fill="#333" />
<rect x="488.00" y="280.00" width="3.70" height="129.00" fill="#333" />
<rect x="491.70" y="280.00" width="3.10" height="129.00" fill="#fff" />
<rect x="494.80" y="280.00" width="7.10" height="129.00" fill="#333" />
<rect x="501.90" y="280.00" width="1.20" height="129.00" fill="#fff" />
<rect x="503.10" y="280.00" width="0.80" height="129.00" fill="#000" />
<rect x="503.90" y="280.00" width="2.90" height="129.00" fill="#333" />
<rect x="488.00" y="425.00" width="3.70" height="43.60" fill="#333" />
<rect x="491.70" y="425.00" width="3.10" height="43.60" fill="#fff" />
<rect x="494.80" y="425.00" width="7.10" height="43.60" fill="#333" />
<rect x="501.90" y="425.00" width="1.20" height="43.60" fill="#fff" />
<rect x="503.10" y="425.00" width="0.80" height="43.60" fill="#000" />
<rect x="503.90" y="425.00" width="2.90" height="43.60" fill="#333" />
<rect x="502.00" y="61.00" width="5.00" height="11.90" fill="#ccc" />
<rect x="502.00" y="262.70" width="5.00" height="14.80" fill="#ccc" />
<rect x="502.00" y="409.50" width="5.00" height="13.50" fill="#ccc" />
<rect x="502.00" y="469.00" width="5.00" height="12.00" fill="#ccc" />
<text x="404.00" y="532.00" font-size="6" fill="#000" text-anchor="start" font-family="'Liberation Sans', sans-serif" textLength="6" lengthAdjust="spacingAndGlyphs" stroke="#000" stroke-width="0.22">J2</text>
<text x="435.00" y="532.00" font-size="6" fill="#000" text-anchor="start" font-family="'Liberation Sans', sans-serif" textLength="6" lengthAdjust="spacingAndGlyphs" stroke="#000" stroke-width="0.22">J3</text>
<text x="465.50" y="532.00" font-size="6" fill="#000" text-anchor="start" font-family="'Liberation Sans', sans-serif" textLength="8.5" lengthAdjust="spacingAndGlyphs" stroke="#000" stroke-width="0.22">J48</text>
<text x="491.00" y="532.00" font-size="6" fill="#000" text-anchor="start" font-family="'Liberation Sans', sans-serif" textLength="9" lengthAdjust="spacingAndGlyphs" stroke="#000" stroke-width="0.22">J38</text>
<rect x="547.00" y="16.00" width="36.00" height="150.00" fill="#cbcbcb" />
<rect x="583.00" y="86.00" width="2.50" height="9.00" fill="#cbcbcb" />
<path d="M547.4 166 V16.4 H583" fill="none" stroke="#a0a0a0" stroke-width="0.8"/>
<rect x="551" y="20.00" width="12.600000000000023" height="13" rx="1.5" fill="#484848"/>
<rect x="553.60" y="24.50" width="8.60" height="4.30" fill="#fff" />
<rect x="557.00" y="26.10" width="5.20" height="1.20" fill="#484848" />
<rect x="565" y="20.00" width="12.799999999999955" height="13" rx="1.5" fill="#484848"/>
<rect x="567.80" y="24.50" width="8.60" height="4.30" fill="#fff" />
<rect x="567.80" y="26.10" width="5.20" height="1.20" fill="#484848" />
<rect x="551" y="34.35" width="12.600000000000023" height="13" rx="1.5" fill="#484848"/>
<rect x="553.60" y="38.85" width="8.60" height="4.30" fill="#fff" />
<rect x="557.00" y="40.45" width="5.20" height="1.20" fill="#484848" />
<rect x="565" y="34.35" width="12.799999999999955" height="13" rx="1.5" fill="#484848"/>
<rect x="567.80" y="38.85" width="8.60" height="4.30" fill="#fff" />
<rect x="567.80" y="40.45" width="5.20" height="1.20" fill="#484848" />
<rect x="551" y="48.70" width="12.600000000000023" height="13" rx="1.5" fill="#484848"/>
<rect x="553.60" y="53.20" width="8.60" height="4.30" fill="#fff" />
<rect x="557.00" y="54.80" width="5.20" height="1.20" fill="#484848" />
<rect x="565" y="48.70" width="12.799999999999955" height="13" rx="1.5" fill="#484848"/>
<rect x="567.80" y="53.20" width="8.60" height="4.30" fill="#fff" />
<rect x="567.80" y="54.80" width="5.20" height="1.20" fill="#484848" />
<rect x="551" y="63.05" width="12.600000000000023" height="13" rx="1.5" fill="#484848"/>
<rect x="553.60" y="67.55" width="8.60" height="4.30" fill="#fff" />
<rect x="557.00" y="69.15" width="5.20" height="1.20" fill="#484848" />
<rect x="565" y="63.05" width="12.799999999999955" height="13" rx="1.5" fill="#484848"/>
<rect x="567.80" y="67.55" width="8.60" height="4.30" fill="#fff" />
<rect x="567.80" y="69.15" width="5.20" height="1.20" fill="#484848" />
<rect x="551" y="77.40" width="12.600000000000023" height="13" rx="1.5" fill="#484848"/>
<rect x="553.60" y="81.90" width="8.60" height="4.30" fill="#fff" />
<rect x="557.00" y="83.50" width="5.20" height="1.20" fill="#484848" />
<rect x="565" y="77.40" width="12.799999999999955" height="13" rx="1.5" fill="#484848"/>
<rect x="567.80" y="81.90" width="8.60" height="4.30" fill="#fff" />
<rect x="567.80" y="83.50" width="5.20" height="1.20" fill="#484848" />
<rect x="551" y="91.75" width="12.600000000000023" height="13" rx="1.5" fill="#484848"/>
<rect x="553.60" y="96.25" width="8.60" height="4.30" fill="#fff" />
<rect x="557.00" y="97.85" width="5.20" height="1.20" fill="#484848" />
<rect x="565" y="91.75" width="12.799999999999955" height="13" rx="1.5" fill="#484848"/>
<rect x="567.80" y="96.25" width="8.60" height="4.30" fill="#fff" />
<rect x="567.80" y="97.85" width="5.20" height="1.20" fill="#484848" />
<rect x="551" y="106.10" width="12.600000000000023" height="13" rx="1.5" fill="#484848"/>
<rect x="553.60" y="110.60" width="8.60" height="4.30" fill="#fff" />
<rect x="557.00" y="112.20" width="5.20" height="1.20" fill="#484848" />
<rect x="565" y="106.10" width="12.799999999999955" height="13" rx="1.5" fill="#484848"/>
<rect x="567.80" y="110.60" width="8.60" height="4.30" fill="#fff" />
<rect x="567.80" y="112.20" width="5.20" height="1.20" fill="#484848" />
<rect x="551" y="120.45" width="12.600000000000023" height="13" rx="1.5" fill="#484848"/>
<rect x="553.60" y="124.95" width="8.60" height="4.30" fill="#fff" />
<rect x="557.00" y="126.55" width="5.20" height="1.20" fill="#484848" />
<rect x="565" y="120.45" width="12.799999999999955" height="13" rx="1.5" fill="#484848"/>
<rect x="567.80" y="124.95" width="8.60" height="4.30" fill="#fff" />
<rect x="567.80" y="126.55" width="5.20" height="1.20" fill="#484848" />
<rect x="551" y="134.80" width="12.600000000000023" height="13" rx="1.5" fill="#484848"/>
<rect x="553.60" y="139.30" width="8.60" height="4.30" fill="#fff" />
<rect x="557.00" y="140.90" width="5.20" height="1.20" fill="#484848" />
<rect x="565" y="134.80" width="12.799999999999955" height="13" rx="1.5" fill="#484848"/>
<rect x="567.80" y="139.30" width="8.60" height="4.30" fill="#fff" />
<rect x="567.80" y="140.90" width="5.20" height="1.20" fill="#484848" />
<rect x="551" y="149.15" width="12.600000000000023" height="13" rx="1.5" fill="#484848"/>
<rect x="553.60" y="153.65" width="8.60" height="4.30" fill="#fff" />
<rect x="557.00" y="155.25" width="5.20" height="1.20" fill="#484848" />
<rect x="565" y="149.15" width="12.799999999999955" height="13" rx="1.5" fill="#484848"/>
<rect x="567.80" y="153.65" width="8.60" height="4.30" fill="#fff" />
<rect x="567.80" y="155.25" width="5.20" height="1.20" fill="#484848" />
<rect x="585.00" y="99.00" width="18.00" height="35.00" fill="#333" />
<rect x="588.00" y="101.88" width="3.00" height="3.00" fill="#fff" />
<rect x="588.00" y="110.62" width="3.00" height="3.00" fill="#fff" />
<rect x="588.00" y="119.38" width="3.00" height="3.00" fill="#fff" />
<rect x="588.00" y="128.12" width="3.00" height="3.00" fill="#fff" />
<rect x="597.00" y="101.88" width="3.00" height="3.00" fill="#fff" />
<rect x="597.00" y="110.62" width="3.00" height="3.00" fill="#fff" />
<rect x="597.00" y="119.38" width="3.00" height="3.00" fill="#fff" />
<rect x="597.00" y="128.12" width="3.00" height="3.00" fill="#fff" />
<path d="M594.00 99 V134" stroke="#222" stroke-width="0.6"/>
<path d="M585 107.75 H603" stroke="#222" stroke-width="0.6"/>
<path d="M585 116.50 H603" stroke="#222" stroke-width="0.6"/>
<path d="M585 125.25 H603" stroke="#222" stroke-width="0.6"/>
<text x="589.00" y="143.00" font-size="6" fill="#000" text-anchor="start" font-family="'Liberation Sans', sans-serif" textLength="12" lengthAdjust="spacingAndGlyphs" stroke="#000" stroke-width="0.22">JP19</text>
<rect x="541.80" y="168.00" width="30.20" height="179.70" fill="#cfcfcf" />
<rect x="541.8" y="168" width="30.200000000000045" height="179.7" fill="none" stroke="#b0b0b0" stroke-width="0.7"/>
<rect x="545.00" y="172.80" width="22.50" height="170.20" fill="#4d4d4d" />
<rect x="541.80" y="250.80" width="3.70" height="14.80" fill="#4d4d4d" />
<rect x="552.25" y="172.80" width="8.00" height="1.80" fill="#fff" />
<rect x="552.25" y="341.20" width="8.00" height="1.80" fill="#fff" />
<rect x="550.80" y="186.00" width="3.00" height="3.00" fill="#fff" />
<rect x="558.50" y="186.00" width="3.00" height="3.00" fill="#fff" />
<rect x="550.80" y="195.01" width="3.00" height="3.00" fill="#fff" />
<rect x="558.50" y="195.01" width="3.00" height="3.00" fill="#fff" />
<rect x="550.80" y="204.01" width="3.00" height="3.00" fill="#fff" />
<rect x="558.50" y="204.01" width="3.00" height="3.00" fill="#fff" />
<rect x="550.80" y="213.02" width="3.00" height="3.00" fill="#fff" />
<rect x="558.50" y="213.02" width="3.00" height="3.00" fill="#fff" />
<rect x="550.80" y="222.03" width="3.00" height="3.00" fill="#fff" />
<rect x="558.50" y="222.03" width="3.00" height="3.00" fill="#fff" />
<rect x="550.80" y="231.03" width="3.00" height="3.00" fill="#fff" />
<rect x="558.50" y="231.03" width="3.00" height="3.00" fill="#fff" />
<rect x="550.80" y="240.04" width="3.00" height="3.00" fill="#fff" />
<rect x="558.50" y="240.04" width="3.00" height="3.00" fill="#fff" />
<rect x="550.80" y="249.04" width="3.00" height="3.00" fill="#fff" />
<rect x="558.50" y="249.04" width="3.00" height="3.00" fill="#fff" />
<rect x="550.80" y="258.05" width="3.00" height="3.00" fill="#fff" />
<rect x="558.50" y="258.05" width="3.00" height="3.00" fill="#fff" />
<rect x="550.80" y="267.06" width="3.00" height="3.00" fill="#fff" />
<rect x="558.50" y="267.06" width="3.00" height="3.00" fill="#fff" />
<rect x="550.80" y="276.06" width="3.00" height="3.00" fill="#fff" />
<rect x="558.50" y="276.06" width="3.00" height="3.00" fill="#fff" />
<rect x="550.80" y="285.07" width="3.00" height="3.00" fill="#fff" />
<rect x="558.50" y="285.07" width="3.00" height="3.00" fill="#fff" />
<rect x="550.80" y="294.08" width="3.00" height="3.00" fill="#fff" />
<rect x="558.50" y="294.08" width="3.00" height="3.00" fill="#fff" />
<rect x="550.80" y="303.08" width="3.00" height="3.00" fill="#fff" />
<rect x="558.50" y="303.08" width="3.00" height="3.00" fill="#fff" />
<rect x="550.80" y="312.09" width="3.00" height="3.00" fill="#fff" />
<rect x="558.50" y="312.09" width="3.00" height="3.00" fill="#fff" />
<rect x="550.80" y="321.09" width="3.00" height="3.00" fill="#fff" />
<rect x="558.50" y="321.09" width="3.00" height="3.00" fill="#fff" />
<rect x="550.80" y="330.10" width="3.00" height="3.00" fill="#fff" />
<rect x="558.50" y="330.10" width="3.00" height="3.00" fill="#fff" />
<rect x="541.50" y="348.60" width="29.50" height="200.90" fill="#cfcfcf" />
<rect x="541.5" y="348.6" width="29.5" height="200.89999999999998" fill="none" stroke="#b0b0b0" stroke-width="0.7"/>
<rect x="545.90" y="353.00" width="21.40" height="193.00" fill="#4d4d4d" />
<rect x="541.50" y="440.00" width="4.90" height="19.00" fill="#4d4d4d" />
<rect x="552.60" y="353.00" width="8.00" height="1.80" fill="#fff" />
<rect x="552.60" y="544.20" width="8.00" height="1.80" fill="#fff" />
<rect x="550.90" y="362.80" width="3.00" height="3.00" fill="#fff" />
<rect x="559.00" y="362.80" width="3.00" height="3.00" fill="#fff" />
<rect x="550.90" y="371.71" width="3.00" height="3.00" fill="#fff" />
<rect x="559.00" y="371.71" width="3.00" height="3.00" fill="#fff" />
<rect x="550.90" y="380.62" width="3.00" height="3.00" fill="#fff" />
<rect x="559.00" y="380.62" width="3.00" height="3.00" fill="#fff" />
<rect x="550.90" y="389.53" width="3.00" height="3.00" fill="#fff" />
<rect x="559.00" y="389.53" width="3.00" height="3.00" fill="#fff" />
<rect x="550.90" y="398.44" width="3.00" height="3.00" fill="#fff" />
<rect x="559.00" y="398.44" width="3.00" height="3.00" fill="#fff" />
<rect x="550.90" y="407.35" width="3.00" height="3.00" fill="#fff" />
<rect x="559.00" y="407.35" width="3.00" height="3.00" fill="#fff" />
<rect x="550.90" y="416.26" width="3.00" height="3.00" fill="#fff" />
<rect x="559.00" y="416.26" width="3.00" height="3.00" fill="#fff" />
<rect x="550.90" y="425.17" width="3.00" height="3.00" fill="#fff" />
<rect x="559.00" y="425.17" width="3.00" height="3.00" fill="#fff" />
<rect x="550.90" y="434.08" width="3.00" height="3.00" fill="#fff" />
<rect x="559.00" y="434.08" width="3.00" height="3.00" fill="#fff" />
<rect x="550.90" y="442.99" width="3.00" height="3.00" fill="#fff" />
<rect x="559.00" y="442.99" width="3.00" height="3.00" fill="#fff" />
<rect x="550.90" y="451.91" width="3.00" height="3.00" fill="#fff" />
<rect x="559.00" y="451.91" width="3.00" height="3.00" fill="#fff" />
<rect x="550.90" y="460.82" width="3.00" height="3.00" fill="#fff" />
<rect x="559.00" y="460.82" width="3.00" height="3.00" fill="#fff" />
<rect x="550.90" y="469.73" width="3.00" height="3.00" fill="#fff" />
<rect x="559.00" y="469.73" width="3.00" height="3.00" fill="#fff" />
<rect x="550.90" y="478.64" width="3.00" height="3.00" fill="#fff" />
<rect x="559.00" y="478.64" width="3.00" height="3.00" fill="#fff" />
<rect x="550.90" y="487.55" width="3.00" height="3.00" fill="#fff" />
<rect x="559.00" y="487.55" width="3.00" height="3.00" fill="#fff" />
<rect x="550.90" y="496.46" width="3.00" height="3.00" fill="#fff" />
<rect x="559.00" y="496.46" width="3.00" height="3.00" fill="#fff" />
<rect x="550.90" y="505.37" width="3.00" height="3.00" fill="#fff" />
<rect x="559.00" y="505.37" width="3.00" height="3.00" fill="#fff" />
<rect x="550.90" y="514.28" width="3.00" height="3.00" fill="#fff" />
<rect x="559.00" y="514.28" width="3.00" height="3.00" fill="#fff" />
<rect x="550.90" y="523.19" width="3.00" height="3.00" fill="#fff" />
<rect x="559.00" y="523.19" width="3.00" height="3.00" fill="#fff" />
<rect x="550.90" y="532.10" width="3.00" height="3.00" fill="#fff" />
<rect x="559.00" y="532.10" width="3.00" height="3.00" fill="#fff" />
<rect x="571.40" y="348.60" width="29.10" height="200.90" fill="#cfcfcf" />
<rect x="571.4" y="348.6" width="29.100000000000023" height="200.89999999999998" fill="none" stroke="#b0b0b0" stroke-width="0.7"/>
<rect x="575.00" y="353.00" width="21.80" height="193.00" fill="#4d4d4d" />
<rect x="571.40" y="440.00" width="4.10" height="19.00" fill="#4d4d4d" />
<rect x="581.90" y="353.00" width="8.00" height="1.80" fill="#fff" />
<rect x="581.90" y="544.20" width="8.00" height="1.80" fill="#fff" />
<rect x="580.00" y="362.80" width="3.00" height="3.00" fill="#fff" />
<rect x="588.10" y="362.80" width="3.00" height="3.00" fill="#fff" />
<rect x="580.00" y="371.71" width="3.00" height="3.00" fill="#fff" />
<rect x="588.10" y="371.71" width="3.00" height="3.00" fill="#fff" />
<rect x="580.00" y="380.62" width="3.00" height="3.00" fill="#fff" />
<rect x="588.10" y="380.62" width="3.00" height="3.00" fill="#fff" />
<rect x="580.00" y="389.53" width="3.00" height="3.00" fill="#fff" />
<rect x="588.10" y="389.53" width="3.00" height="3.00" fill="#fff" />
<rect x="580.00" y="398.44" width="3.00" height="3.00" fill="#fff" />
<rect x="588.10" y="398.44" width="3.00" height="3.00" fill="#fff" />
<rect x="580.00" y="407.35" width="3.00" height="3.00" fill="#fff" />
<rect x="588.10" y="407.35" width="3.00" height="3.00" fill="#fff" />
<rect x="580.00" y="416.26" width="3.00" height="3.00" fill="#fff" />
<rect x="588.10" y="416.26" width="3.00" height="3.00" fill="#fff" />
<rect x="580.00" y="425.17" width="3.00" height="3.00" fill="#fff" />
<rect x="588.10" y="425.17" width="3.00" height="3.00" fill="#fff" />
<rect x="580.00" y="434.08" width="3.00" height="3.00" fill="#fff" />
<rect x="588.10" y="434.08" width="3.00" height="3.00" fill="#fff" />
<rect x="580.00" y="442.99" width="3.00" height="3.00" fill="#fff" />
<rect x="588.10" y="442.99" width="3.00" height="3.00" fill="#fff" />
<rect x="580.00" y="451.91" width="3.00" height="3.00" fill="#fff" />
<rect x="588.10" y="451.91" width="3.00" height="3.00" fill="#fff" />
<rect x="580.00" y="460.82" width="3.00" height="3.00" fill="#fff" />
<rect x="588.10" y="460.82" width="3.00" height="3.00" fill="#fff" />
<rect x="580.00" y="469.73" width="3.00" height="3.00" fill="#fff" />
<rect x="588.10" y="469.73" width="3.00" height="3.00" fill="#fff" />
<rect x="580.00" y="478.64" width="3.00" height="3.00" fill="#fff" />
<rect x="588.10" y="478.64" width="3.00" height="3.00" fill="#fff" />
<rect x="580.00" y="487.55" width="3.00" height="3.00" fill="#fff" />
<rect x="588.10" y="487.55" width="3.00" height="3.00" fill="#fff" />
<rect x="580.00" y="496.46" width="3.00" height="3.00" fill="#fff" />
<rect x="588.10" y="496.46" width="3.00" height="3.00" fill="#fff" />
<rect x="580.00" y="505.37" width="3.00" height="3.00" fill="#fff" />
<rect x="588.10" y="505.37" width="3.00" height="3.00" fill="#fff" />
<rect x="580.00" y="514.28" width="3.00" height="3.00" fill="#fff" />
<rect x="588.10" y="514.28" width="3.00" height="3.00" fill="#fff" />
<rect x="580.00" y="523.19" width="3.00" height="3.00" fill="#fff" />
<rect x="588.10" y="523.19" width="3.00" height="3.00" fill="#fff" />
<rect x="580.00" y="532.10" width="3.00" height="3.00" fill="#fff" />
<rect x="588.10" y="532.10" width="3.00" height="3.00" fill="#fff" />
<text x="520.00" y="258.70" font-size="9" fill="#000" text-anchor="start" font-family="'Liberation Sans', sans-serif" textLength="16" lengthAdjust="spacingAndGlyphs" stroke="#000" stroke-width="0.22">FDD</text>
<rect x="537.00" y="253.50" width="1.50" height="1.50" fill="#000" />
<text x="588.00" y="346.40" font-size="9" fill="#000" text-anchor="start" font-family="'Liberation Sans', sans-serif" textLength="17" lengthAdjust="spacingAndGlyphs" stroke="#000" stroke-width="0.22">IDE1</text>
<text x="519.00" y="365.40" font-size="9" fill="#000" text-anchor="start" font-family="'Liberation Sans', sans-serif" textLength="17" lengthAdjust="spacingAndGlyphs" stroke="#000" stroke-width="0.22">IDE2</text>
<text x="536.00" y="352.00" font-size="4.5" fill="#666" text-anchor="start" font-family="'Liberation Sans', sans-serif"  stroke="#666" stroke-width="0.22">1</text>
<rect x="575.50" y="267.00" width="18.00" height="52.00" fill="#333" />
<rect x="578.50" y="269.83" width="3.00" height="3.00" fill="#fff" />
<rect x="578.50" y="278.50" width="3.00" height="3.00" fill="#fff" />
<rect x="578.50" y="287.17" width="3.00" height="3.00" fill="#fff" />
<rect x="578.50" y="295.83" width="3.00" height="3.00" fill="#fff" />
<rect x="578.50" y="304.50" width="3.00" height="3.00" fill="#fff" />
<rect x="578.50" y="313.17" width="3.00" height="3.00" fill="#fff" />
<rect x="587.50" y="269.83" width="3.00" height="3.00" fill="#fff" />
<rect x="587.50" y="278.50" width="3.00" height="3.00" fill="#fff" />
<rect x="587.50" y="287.17" width="3.00" height="3.00" fill="#fff" />
<rect x="587.50" y="295.83" width="3.00" height="3.00" fill="#fff" />
<rect x="587.50" y="304.50" width="3.00" height="3.00" fill="#fff" />
<rect x="587.50" y="313.17" width="3.00" height="3.00" fill="#fff" />
<path d="M584.50 267 V319" stroke="#222" stroke-width="0.6"/>
<path d="M575.5 275.67 H593.5" stroke="#222" stroke-width="0.6"/>
<path d="M575.5 284.33 H593.5" stroke="#222" stroke-width="0.6"/>
<path d="M575.5 293.00 H593.5" stroke="#222" stroke-width="0.6"/>
<path d="M575.5 301.67 H593.5" stroke="#222" stroke-width="0.6"/>
<path d="M575.5 310.33 H593.5" stroke="#222" stroke-width="0.6"/>
<text x="581.00" y="264.00" font-size="6" fill="#000" text-anchor="start" font-family="'Liberation Sans', sans-serif" textLength="9" lengthAdjust="spacingAndGlyphs" stroke="#000" stroke-width="0.22">J16</text>
<rect x="230.00" y="263.00" width="121.00" height="121.00" fill="#808080" />
<polygon points="251,271 330,271 343,284 343,363 330,376 251,376 238,363 238,284" fill="#5c5c5c"/>
<polygon points="253,275 328,275 339,286 339,361 328,372 253,372 242,361 242,286" fill="#9a9a9a"/>
<polygon points="230,372.5 241,366 246.5,371.5 236,384 230,384" fill="#fff"/>
<text x="269.50" y="300.00" font-size="21" fill="#e4e4e4" text-anchor="start" font-family="'Liberation Sans', sans-serif" font-weight="bold" stroke="#e4e4e4" stroke-width="0.6" textLength="45.5" lengthAdjust="spacingAndGlyphs">Intel</text>
<text x="270.50" y="307.70" font-size="7" fill="#e4e4e4" text-anchor="start" font-family="'Liberation Mono', sans-serif" textLength="24" lengthAdjust="spacingAndGlyphs" stroke="#e4e4e4" stroke-width="0.22">SECRET</text>
<text x="270.50" y="315.25" font-size="7" fill="#e4e4e4" text-anchor="start" font-family="'Liberation Mono', sans-serif" textLength="32" lengthAdjust="spacingAndGlyphs" stroke="#e4e4e4" stroke-width="0.22">FW8443EX</text>
<text x="270.50" y="322.80" font-size="7" fill="#e4e4e4" text-anchor="start" font-family="'Liberation Mono', sans-serif" textLength="32" lengthAdjust="spacingAndGlyphs" stroke="#e4e4e4" stroke-width="0.22">V7114150</text>
<text x="270.50" y="330.35" font-size="7" fill="#e4e4e4" text-anchor="start" font-family="'Liberation Mono', sans-serif" textLength="24" lengthAdjust="spacingAndGlyphs" stroke="#e4e4e4" stroke-width="0.22">Q529ES</text>
<text x="270.50" y="337.90" font-size="7" fill="#e4e4e4" text-anchor="start" font-family="'Liberation Mono', sans-serif" textLength="47" lengthAdjust="spacingAndGlyphs" stroke="#e4e4e4" stroke-width="0.22">INTEL &#9412;&#169;96</text>
<rect x="260.00" y="319.00" width="5.60" height="21.40" fill="#e4e4e4" />
<text x="261.00" y="358.00" font-size="7" fill="#e4e4e4" text-anchor="start" font-family="'Liberation Mono', sans-serif" textLength="43" lengthAdjust="spacingAndGlyphs" stroke="#e4e4e4" stroke-width="0.22">AG510323WA</text>
<text x="262.00" y="365.00" font-size="7" fill="#e4e4e4" text-anchor="start" font-family="'Liberation Mono', sans-serif" textLength="48.5" lengthAdjust="spacingAndGlyphs" stroke="#e4e4e4" stroke-width="0.22">ES 710 KOREA</text>
<circle cx="256" cy="356" r="1.2" fill="#ddd" stroke="#555" stroke-width="0.5"/>
<rect x="240.00" y="541.00" width="255.00" height="34.50" fill="#b0b0b0" />
<rect x="243.00" y="544.50" width="12.70" height="6.50" fill="#333" />
<rect x="243.00" y="567.50" width="12.70" height="5.20" fill="#333" />
<rect x="327.70" y="544.50" width="12.10" height="6.50" fill="#333" />
<rect x="327.70" y="567.50" width="12.10" height="5.20" fill="#333" />
<rect x="479.00" y="544.50" width="13.00" height="6.50" fill="#333" />
<rect x="479.00" y="567.50" width="13.00" height="5.20" fill="#333" />
<rect x="255.70" y="544.30" width="70.90" height="3.40" fill="#333" />
<rect x="255.70" y="547.70" width="70.90" height="3.30" fill="#fff" />
<rect x="255.70" y="565.50" width="70.90" height="3.50" fill="#fff" />
<rect x="255.70" y="569.00" width="70.90" height="3.70" fill="#333" />
<rect x="341.00" y="544.30" width="138.00" height="3.40" fill="#333" />
<rect x="341.00" y="547.70" width="138.00" height="3.30" fill="#fff" />
<rect x="341.00" y="565.50" width="138.00" height="3.50" fill="#fff" />
<rect x="341.00" y="569.00" width="138.00" height="3.70" fill="#333" />
<rect x="245.50" y="552.00" width="85.00" height="12.50" fill="#1a1a1a" />
<rect x="336.80" y="552.00" width="153.20" height="12.50" fill="#1a1a1a" />
<text x="231.00" y="551.50" font-size="6" fill="#000" text-anchor="start" font-family="'Liberation Sans', sans-serif" textLength="6" lengthAdjust="spacingAndGlyphs" stroke="#000" stroke-width="0.22">J5</text>
<rect x="158.30" y="613.00" width="292.70" height="34.50" fill="#b0b0b0" />
<rect x="158.00" y="623.30" width="3.20" height="13.50" fill="#fff" />
<rect x="158.00" y="623.30" width="3.00" height="0.90" fill="#000" />
<rect x="158.00" y="635.90" width="3.00" height="0.90" fill="#000" />
<rect x="169.00" y="616.00" width="212.00" height="4.50" fill="#333" />
<rect x="169.00" y="620.50" width="212.00" height="2.10" fill="#fff" />
<rect x="165.60" y="623.50" width="215.40" height="13.20" fill="#1a1a1a" />
<rect x="169.00" y="638.80" width="212.00" height="2.00" fill="#fff" />
<rect x="169.00" y="640.80" width="212.00" height="3.70" fill="#333" />
<rect x="391.40" y="616.00" width="47.30" height="4.50" fill="#333" />
<rect x="391.40" y="620.50" width="47.30" height="2.10" fill="#fff" />
<rect x="390.00" y="623.50" width="56.00" height="13.20" fill="#1a1a1a" />
<rect x="391.40" y="638.80" width="47.30" height="2.00" fill="#fff" />
<rect x="391.40" y="640.80" width="47.30" height="3.70" fill="#333" />
<rect x="158.30" y="681.40" width="292.70" height="34.50" fill="#b0b0b0" />
<rect x="158.00" y="691.70" width="3.20" height="13.50" fill="#fff" />
<rect x="158.00" y="691.70" width="3.00" height="0.90" fill="#000" />
<rect x="158.00" y="704.30" width="3.00" height="0.90" fill="#000" />
<rect x="169.00" y="684.40" width="212.00" height="4.50" fill="#333" />
<rect x="169.00" y="688.90" width="212.00" height="2.10" fill="#fff" />
<rect x="165.60" y="691.90" width="215.40" height="13.20" fill="#1a1a1a" />
<rect x="169.00" y="707.20" width="212.00" height="2.00" fill="#fff" />
<rect x="169.00" y="709.20" width="212.00" height="3.70" fill="#333" />
<rect x="391.40" y="684.40" width="47.30" height="4.50" fill="#333" />
<rect x="391.40" y="688.90" width="47.30" height="2.10" fill="#fff" />
<rect x="390.00" y="691.90" width="56.00" height="13.20" fill="#1a1a1a" />
<rect x="391.40" y="707.20" width="47.30" height="2.00" fill="#fff" />
<rect x="391.40" y="709.20" width="47.30" height="3.70" fill="#333" />
<rect x="158.30" y="749.80" width="292.70" height="34.50" fill="#b0b0b0" />
<rect x="158.00" y="760.10" width="3.20" height="13.50" fill="#fff" />
<rect x="158.00" y="760.10" width="3.00" height="0.90" fill="#000" />
<rect x="158.00" y="772.70" width="3.00" height="0.90" fill="#000" />
<rect x="169.00" y="752.80" width="212.00" height="4.50" fill="#333" />
<rect x="169.00" y="757.30" width="212.00" height="2.10" fill="#fff" />
<rect x="165.60" y="760.30" width="215.40" height="13.20" fill="#1a1a1a" />
<rect x="169.00" y="775.60" width="212.00" height="2.00" fill="#fff" />
<rect x="169.00" y="777.60" width="212.00" height="3.70" fill="#333" />
<rect x="391.40" y="752.80" width="47.30" height="4.50" fill="#333" />
<rect x="391.40" y="757.30" width="47.30" height="2.10" fill="#fff" />
<rect x="390.00" y="760.30" width="56.00" height="13.20" fill="#1a1a1a" />
<rect x="391.40" y="775.60" width="47.30" height="2.00" fill="#fff" />
<rect x="391.40" y="777.60" width="47.30" height="3.70" fill="#333" />
<rect x="158.30" y="818.20" width="292.70" height="34.50" fill="#b0b0b0" />
<rect x="158.00" y="828.50" width="3.20" height="13.50" fill="#fff" />
<rect x="158.00" y="828.50" width="3.00" height="0.90" fill="#000" />
<rect x="158.00" y="841.10" width="3.00" height="0.90" fill="#000" />
<rect x="169.00" y="821.20" width="212.00" height="4.50" fill="#333" />
<rect x="169.00" y="825.70" width="212.00" height="2.10" fill="#fff" />
<rect x="165.60" y="828.70" width="215.40" height="13.20" fill="#1a1a1a" />
<rect x="169.00" y="844.00" width="212.00" height="2.00" fill="#fff" />
<rect x="169.00" y="846.00" width="212.00" height="3.70" fill="#333" />
<rect x="391.40" y="821.20" width="47.30" height="4.50" fill="#333" />
<rect x="391.40" y="825.70" width="47.30" height="2.10" fill="#fff" />
<rect x="390.00" y="828.70" width="56.00" height="13.20" fill="#1a1a1a" />
<rect x="391.40" y="844.00" width="47.30" height="2.00" fill="#fff" />
<rect x="391.40" y="846.00" width="47.30" height="3.70" fill="#333" />
<text x="159.50" y="610.80" font-size="6" fill="#000" text-anchor="start" font-family="'Liberation Sans', sans-serif" textLength="9" lengthAdjust="spacingAndGlyphs" stroke="#000" stroke-width="0.22">J10</text>
<text x="152.50" y="687.40" font-size="6" fill="#000" text-anchor="start" font-family="'Liberation Sans', sans-serif" textLength="6" lengthAdjust="spacingAndGlyphs" stroke="#000" stroke-width="0.22">J9</text>
<text x="159.50" y="748.40" font-size="6" fill="#000" text-anchor="start" font-family="'Liberation Sans', sans-serif" textLength="6" lengthAdjust="spacingAndGlyphs" stroke="#000" stroke-width="0.22">J8</text>
<text x="160.00" y="816.60" font-size="6" fill="#000" text-anchor="start" font-family="'Liberation Sans', sans-serif" textLength="6" lengthAdjust="spacingAndGlyphs" stroke="#000" stroke-width="0.22">J7</text>
<rect x="96.50" y="873.00" width="480.50" height="31.70" fill="#666" />
<path d="M96.5 873.0 V904.7" stroke="#000" stroke-width="1"/>
<rect x="100.40" y="883.80" width="7.60" height="8.50" fill="#000" />
<rect x="564.00" y="883.80" width="9.00" height="8.50" fill="#000" />
<rect x="108.00" y="883.80" width="272.00" height="9.20" fill="#fff" />
<rect x="108.00" y="888.20" width="272.00" height="1.70" fill="#000" />
<rect x="109.50" y="876.40" width="5.90" height="3.60" fill="#000" />
<rect x="109.50" y="880.00" width="5.90" height="4.00" fill="#fff" />
<rect x="109.50" y="892.80" width="5.90" height="5.70" fill="#fff" />
<rect x="109.50" y="898.50" width="5.90" height="1.80" fill="#000" />
<rect x="116.10" y="878.00" width="1.40" height="5.80" fill="#444" />
<rect x="116.10" y="893.00" width="1.40" height="5.80" fill="#444" />
<rect x="118.26" y="876.40" width="5.90" height="3.60" fill="#000" />
<rect x="118.26" y="880.00" width="5.90" height="4.00" fill="#fff" />
<rect x="118.26" y="892.80" width="5.90" height="5.70" fill="#fff" />
<rect x="118.26" y="898.50" width="5.90" height="1.80" fill="#000" />
<rect x="124.86" y="878.00" width="1.40" height="5.80" fill="#444" />
<rect x="124.86" y="893.00" width="1.40" height="5.80" fill="#444" />
<rect x="127.02" y="876.40" width="5.90" height="3.60" fill="#000" />
<rect x="127.02" y="880.00" width="5.90" height="4.00" fill="#fff" />
<rect x="127.02" y="892.80" width="5.90" height="5.70" fill="#fff" />
<rect x="127.02" y="898.50" width="5.90" height="1.80" fill="#000" />
<rect x="133.62" y="878.00" width="1.40" height="5.80" fill="#444" />
<rect x="133.62" y="893.00" width="1.40" height="5.80" fill="#444" />
<rect x="135.78" y="876.40" width="5.90" height="3.60" fill="#000" />
<rect x="135.78" y="880.00" width="5.90" height="4.00" fill="#fff" />
<rect x="135.78" y="892.80" width="5.90" height="5.70" fill="#fff" />
<rect x="135.78" y="898.50" width="5.90" height="1.80" fill="#000" />
<rect x="142.38" y="878.00" width="1.40" height="5.80" fill="#444" />
<rect x="142.38" y="893.00" width="1.40" height="5.80" fill="#444" />
<rect x="144.54" y="876.40" width="5.90" height="3.60" fill="#000" />
<rect x="144.54" y="880.00" width="5.90" height="4.00" fill="#fff" />
<rect x="144.54" y="892.80" width="5.90" height="5.70" fill="#fff" />
<rect x="144.54" y="898.50" width="5.90" height="1.80" fill="#000" />
<rect x="151.14" y="878.00" width="1.40" height="5.80" fill="#444" />
<rect x="151.14" y="893.00" width="1.40" height="5.80" fill="#444" />
<rect x="153.30" y="876.40" width="5.90" height="3.60" fill="#000" />
<rect x="153.30" y="880.00" width="5.90" height="4.00" fill="#fff" />
<rect x="153.30" y="892.80" width="5.90" height="5.70" fill="#fff" />
<rect x="153.30" y="898.50" width="5.90" height="1.80" fill="#000" />
<rect x="159.90" y="878.00" width="1.40" height="5.80" fill="#444" />
<rect x="159.90" y="893.00" width="1.40" height="5.80" fill="#444" />
<rect x="162.06" y="876.40" width="5.90" height="3.60" fill="#000" />
<rect x="162.06" y="880.00" width="5.90" height="4.00" fill="#fff" />
<rect x="162.06" y="892.80" width="5.90" height="5.70" fill="#fff" />
<rect x="162.06" y="898.50" width="5.90" height="1.80" fill="#000" />
<rect x="168.66" y="878.00" width="1.40" height="5.80" fill="#444" />
<rect x="168.66" y="893.00" width="1.40" height="5.80" fill="#444" />
<rect x="170.82" y="876.40" width="5.90" height="3.60" fill="#000" />
<rect x="170.82" y="880.00" width="5.90" height="4.00" fill="#fff" />
<rect x="170.82" y="892.80" width="5.90" height="5.70" fill="#fff" />
<rect x="170.82" y="898.50" width="5.90" height="1.80" fill="#000" />
<rect x="177.42" y="878.00" width="1.40" height="5.80" fill="#444" />
<rect x="177.42" y="893.00" width="1.40" height="5.80" fill="#444" />
<rect x="179.58" y="876.40" width="5.90" height="3.60" fill="#000" />
<rect x="179.58" y="880.00" width="5.90" height="4.00" fill="#fff" />
<rect x="179.58" y="892.80" width="5.90" height="5.70" fill="#fff" />
<rect x="179.58" y="898.50" width="5.90" height="1.80" fill="#000" />
<rect x="186.18" y="878.00" width="1.40" height="5.80" fill="#444" />
<rect x="186.18" y="893.00" width="1.40" height="5.80" fill="#444" />
<rect x="188.34" y="876.40" width="5.90" height="3.60" fill="#000" />
<rect x="188.34" y="880.00" width="5.90" height="4.00" fill="#fff" />
<rect x="188.34" y="892.80" width="5.90" height="5.70" fill="#fff" />
<rect x="188.34" y="898.50" width="5.90" height="1.80" fill="#000" />
<rect x="194.94" y="878.00" width="1.40" height="5.80" fill="#444" />
<rect x="194.94" y="893.00" width="1.40" height="5.80" fill="#444" />
<rect x="197.10" y="876.40" width="5.90" height="3.60" fill="#000" />
<rect x="197.10" y="880.00" width="5.90" height="4.00" fill="#fff" />
<rect x="197.10" y="892.80" width="5.90" height="5.70" fill="#fff" />
<rect x="197.10" y="898.50" width="5.90" height="1.80" fill="#000" />
<rect x="203.70" y="878.00" width="1.40" height="5.80" fill="#444" />
<rect x="203.70" y="893.00" width="1.40" height="5.80" fill="#444" />
<rect x="205.86" y="876.40" width="5.90" height="3.60" fill="#000" />
<rect x="205.86" y="880.00" width="5.90" height="4.00" fill="#fff" />
<rect x="205.86" y="892.80" width="5.90" height="5.70" fill="#fff" />
<rect x="205.86" y="898.50" width="5.90" height="1.80" fill="#000" />
<rect x="212.46" y="878.00" width="1.40" height="5.80" fill="#444" />
<rect x="212.46" y="893.00" width="1.40" height="5.80" fill="#444" />
<rect x="214.62" y="876.40" width="5.90" height="3.60" fill="#000" />
<rect x="214.62" y="880.00" width="5.90" height="4.00" fill="#fff" />
<rect x="214.62" y="892.80" width="5.90" height="5.70" fill="#fff" />
<rect x="214.62" y="898.50" width="5.90" height="1.80" fill="#000" />
<rect x="221.22" y="878.00" width="1.40" height="5.80" fill="#444" />
<rect x="221.22" y="893.00" width="1.40" height="5.80" fill="#444" />
<rect x="223.38" y="876.40" width="5.90" height="3.60" fill="#000" />
<rect x="223.38" y="880.00" width="5.90" height="4.00" fill="#fff" />
<rect x="223.38" y="892.80" width="5.90" height="5.70" fill="#fff" />
<rect x="223.38" y="898.50" width="5.90" height="1.80" fill="#000" />
<rect x="229.98" y="878.00" width="1.40" height="5.80" fill="#444" />
<rect x="229.98" y="893.00" width="1.40" height="5.80" fill="#444" />
<rect x="232.14" y="876.40" width="5.90" height="3.60" fill="#000" />
<rect x="232.14" y="880.00" width="5.90" height="4.00" fill="#fff" />
<rect x="232.14" y="892.80" width="5.90" height="5.70" fill="#fff" />
<rect x="232.14" y="898.50" width="5.90" height="1.80" fill="#000" />
<rect x="238.74" y="878.00" width="1.40" height="5.80" fill="#444" />
<rect x="238.74" y="893.00" width="1.40" height="5.80" fill="#444" />
<rect x="240.90" y="876.40" width="5.90" height="3.60" fill="#000" />
<rect x="240.90" y="880.00" width="5.90" height="4.00" fill="#fff" />
<rect x="240.90" y="892.80" width="5.90" height="5.70" fill="#fff" />
<rect x="240.90" y="898.50" width="5.90" height="1.80" fill="#000" />
<rect x="247.50" y="878.00" width="1.40" height="5.80" fill="#444" />
<rect x="247.50" y="893.00" width="1.40" height="5.80" fill="#444" />
<rect x="249.66" y="876.40" width="5.90" height="3.60" fill="#000" />
<rect x="249.66" y="880.00" width="5.90" height="4.00" fill="#fff" />
<rect x="249.66" y="892.80" width="5.90" height="5.70" fill="#fff" />
<rect x="249.66" y="898.50" width="5.90" height="1.80" fill="#000" />
<rect x="256.26" y="878.00" width="1.40" height="5.80" fill="#444" />
<rect x="256.26" y="893.00" width="1.40" height="5.80" fill="#444" />
<rect x="258.42" y="876.40" width="5.90" height="3.60" fill="#000" />
<rect x="258.42" y="880.00" width="5.90" height="4.00" fill="#fff" />
<rect x="258.42" y="892.80" width="5.90" height="5.70" fill="#fff" />
<rect x="258.42" y="898.50" width="5.90" height="1.80" fill="#000" />
<rect x="265.02" y="878.00" width="1.40" height="5.80" fill="#444" />
<rect x="265.02" y="893.00" width="1.40" height="5.80" fill="#444" />
<rect x="267.18" y="876.40" width="5.90" height="3.60" fill="#000" />
<rect x="267.18" y="880.00" width="5.90" height="4.00" fill="#fff" />
<rect x="267.18" y="892.80" width="5.90" height="5.70" fill="#fff" />
<rect x="267.18" y="898.50" width="5.90" height="1.80" fill="#000" />
<rect x="273.78" y="878.00" width="1.40" height="5.80" fill="#444" />
<rect x="273.78" y="893.00" width="1.40" height="5.80" fill="#444" />
<rect x="275.94" y="876.40" width="5.90" height="3.60" fill="#000" />
<rect x="275.94" y="880.00" width="5.90" height="4.00" fill="#fff" />
<rect x="275.94" y="892.80" width="5.90" height="5.70" fill="#fff" />
<rect x="275.94" y="898.50" width="5.90" height="1.80" fill="#000" />
<rect x="282.54" y="878.00" width="1.40" height="5.80" fill="#444" />
<rect x="282.54" y="893.00" width="1.40" height="5.80" fill="#444" />
<rect x="284.70" y="876.40" width="5.90" height="3.60" fill="#000" />
<rect x="284.70" y="880.00" width="5.90" height="4.00" fill="#fff" />
<rect x="284.70" y="892.80" width="5.90" height="5.70" fill="#fff" />
<rect x="284.70" y="898.50" width="5.90" height="1.80" fill="#000" />
<rect x="291.30" y="878.00" width="1.40" height="5.80" fill="#444" />
<rect x="291.30" y="893.00" width="1.40" height="5.80" fill="#444" />
<rect x="293.46" y="876.40" width="5.90" height="3.60" fill="#000" />
<rect x="293.46" y="880.00" width="5.90" height="4.00" fill="#fff" />
<rect x="293.46" y="892.80" width="5.90" height="5.70" fill="#fff" />
<rect x="293.46" y="898.50" width="5.90" height="1.80" fill="#000" />
<rect x="300.06" y="878.00" width="1.40" height="5.80" fill="#444" />
<rect x="300.06" y="893.00" width="1.40" height="5.80" fill="#444" />
<rect x="302.22" y="876.40" width="5.90" height="3.60" fill="#000" />
<rect x="302.22" y="880.00" width="5.90" height="4.00" fill="#fff" />
<rect x="302.22" y="892.80" width="5.90" height="5.70" fill="#fff" />
<rect x="302.22" y="898.50" width="5.90" height="1.80" fill="#000" />
<rect x="308.82" y="878.00" width="1.40" height="5.80" fill="#444" />
<rect x="308.82" y="893.00" width="1.40" height="5.80" fill="#444" />
<rect x="310.98" y="876.40" width="5.90" height="3.60" fill="#000" />
<rect x="310.98" y="880.00" width="5.90" height="4.00" fill="#fff" />
<rect x="310.98" y="892.80" width="5.90" height="5.70" fill="#fff" />
<rect x="310.98" y="898.50" width="5.90" height="1.80" fill="#000" />
<rect x="317.58" y="878.00" width="1.40" height="5.80" fill="#444" />
<rect x="317.58" y="893.00" width="1.40" height="5.80" fill="#444" />
<rect x="319.74" y="876.40" width="5.90" height="3.60" fill="#000" />
<rect x="319.74" y="880.00" width="5.90" height="4.00" fill="#fff" />
<rect x="319.74" y="892.80" width="5.90" height="5.70" fill="#fff" />
<rect x="319.74" y="898.50" width="5.90" height="1.80" fill="#000" />
<rect x="326.34" y="878.00" width="1.40" height="5.80" fill="#444" />
<rect x="326.34" y="893.00" width="1.40" height="5.80" fill="#444" />
<rect x="328.50" y="876.40" width="5.90" height="3.60" fill="#000" />
<rect x="328.50" y="880.00" width="5.90" height="4.00" fill="#fff" />
<rect x="328.50" y="892.80" width="5.90" height="5.70" fill="#fff" />
<rect x="328.50" y="898.50" width="5.90" height="1.80" fill="#000" />
<rect x="335.10" y="878.00" width="1.40" height="5.80" fill="#444" />
<rect x="335.10" y="893.00" width="1.40" height="5.80" fill="#444" />
<rect x="337.26" y="876.40" width="5.90" height="3.60" fill="#000" />
<rect x="337.26" y="880.00" width="5.90" height="4.00" fill="#fff" />
<rect x="337.26" y="892.80" width="5.90" height="5.70" fill="#fff" />
<rect x="337.26" y="898.50" width="5.90" height="1.80" fill="#000" />
<rect x="343.86" y="878.00" width="1.40" height="5.80" fill="#444" />
<rect x="343.86" y="893.00" width="1.40" height="5.80" fill="#444" />
<rect x="346.02" y="876.40" width="5.90" height="3.60" fill="#000" />
<rect x="346.02" y="880.00" width="5.90" height="4.00" fill="#fff" />
<rect x="346.02" y="892.80" width="5.90" height="5.70" fill="#fff" />
<rect x="346.02" y="898.50" width="5.90" height="1.80" fill="#000" />
<rect x="352.62" y="878.00" width="1.40" height="5.80" fill="#444" />
<rect x="352.62" y="893.00" width="1.40" height="5.80" fill="#444" />
<rect x="354.78" y="876.40" width="5.90" height="3.60" fill="#000" />
<rect x="354.78" y="880.00" width="5.90" height="4.00" fill="#fff" />
<rect x="354.78" y="892.80" width="5.90" height="5.70" fill="#fff" />
<rect x="354.78" y="898.50" width="5.90" height="1.80" fill="#000" />
<rect x="361.38" y="878.00" width="1.40" height="5.80" fill="#444" />
<rect x="361.38" y="893.00" width="1.40" height="5.80" fill="#444" />
<rect x="363.54" y="876.40" width="5.90" height="3.60" fill="#000" />
<rect x="363.54" y="880.00" width="5.90" height="4.00" fill="#fff" />
<rect x="363.54" y="892.80" width="5.90" height="5.70" fill="#fff" />
<rect x="363.54" y="898.50" width="5.90" height="1.80" fill="#000" />
<rect x="370.14" y="878.00" width="1.40" height="5.80" fill="#444" />
<rect x="370.14" y="893.00" width="1.40" height="5.80" fill="#444" />
<rect x="372.30" y="876.40" width="5.90" height="3.60" fill="#000" />
<rect x="372.30" y="880.00" width="5.90" height="4.00" fill="#fff" />
<rect x="372.30" y="892.80" width="5.90" height="5.70" fill="#fff" />
<rect x="372.30" y="898.50" width="5.90" height="1.80" fill="#000" />
<rect x="410.00" y="883.80" width="154.30" height="9.20" fill="#fff" />
<rect x="410.00" y="888.20" width="154.30" height="1.70" fill="#000" />
<rect x="411.10" y="876.40" width="5.90" height="3.60" fill="#000" />
<rect x="411.10" y="880.00" width="5.90" height="4.00" fill="#fff" />
<rect x="411.10" y="892.80" width="5.90" height="5.70" fill="#fff" />
<rect x="411.10" y="898.50" width="5.90" height="1.80" fill="#000" />
<rect x="417.70" y="878.00" width="1.40" height="5.80" fill="#444" />
<rect x="417.70" y="893.00" width="1.40" height="5.80" fill="#444" />
<rect x="419.75" y="876.40" width="5.90" height="3.60" fill="#000" />
<rect x="419.75" y="880.00" width="5.90" height="4.00" fill="#fff" />
<rect x="419.75" y="892.80" width="5.90" height="5.70" fill="#fff" />
<rect x="419.75" y="898.50" width="5.90" height="1.80" fill="#000" />
<rect x="426.35" y="878.00" width="1.40" height="5.80" fill="#444" />
<rect x="426.35" y="893.00" width="1.40" height="5.80" fill="#444" />
<rect x="428.40" y="876.40" width="5.90" height="3.60" fill="#000" />
<rect x="428.40" y="880.00" width="5.90" height="4.00" fill="#fff" />
<rect x="428.40" y="892.80" width="5.90" height="5.70" fill="#fff" />
<rect x="428.40" y="898.50" width="5.90" height="1.80" fill="#000" />
<rect x="435.00" y="878.00" width="1.40" height="5.80" fill="#444" />
<rect x="435.00" y="893.00" width="1.40" height="5.80" fill="#444" />
<rect x="437.05" y="876.40" width="5.90" height="3.60" fill="#000" />
<rect x="437.05" y="880.00" width="5.90" height="4.00" fill="#fff" />
<rect x="437.05" y="892.80" width="5.90" height="5.70" fill="#fff" />
<rect x="437.05" y="898.50" width="5.90" height="1.80" fill="#000" />
<rect x="443.65" y="878.00" width="1.40" height="5.80" fill="#444" />
<rect x="443.65" y="893.00" width="1.40" height="5.80" fill="#444" />
<rect x="445.70" y="876.40" width="5.90" height="3.60" fill="#000" />
<rect x="445.70" y="880.00" width="5.90" height="4.00" fill="#fff" />
<rect x="445.70" y="892.80" width="5.90" height="5.70" fill="#fff" />
<rect x="445.70" y="898.50" width="5.90" height="1.80" fill="#000" />
<rect x="452.30" y="878.00" width="1.40" height="5.80" fill="#444" />
<rect x="452.30" y="893.00" width="1.40" height="5.80" fill="#444" />
<rect x="454.35" y="876.40" width="5.90" height="3.60" fill="#000" />
<rect x="454.35" y="880.00" width="5.90" height="4.00" fill="#fff" />
<rect x="454.35" y="892.80" width="5.90" height="5.70" fill="#fff" />
<rect x="454.35" y="898.50" width="5.90" height="1.80" fill="#000" />
<rect x="460.95" y="878.00" width="1.40" height="5.80" fill="#444" />
<rect x="460.95" y="893.00" width="1.40" height="5.80" fill="#444" />
<rect x="463.00" y="876.40" width="5.90" height="3.60" fill="#000" />
<rect x="463.00" y="880.00" width="5.90" height="4.00" fill="#fff" />
<rect x="463.00" y="892.80" width="5.90" height="5.70" fill="#fff" />
<rect x="463.00" y="898.50" width="5.90" height="1.80" fill="#000" />
<rect x="469.60" y="878.00" width="1.40" height="5.80" fill="#444" />
<rect x="469.60" y="893.00" width="1.40" height="5.80" fill="#444" />
<rect x="471.65" y="876.40" width="5.90" height="3.60" fill="#000" />
<rect x="471.65" y="880.00" width="5.90" height="4.00" fill="#fff" />
<rect x="471.65" y="892.80" width="5.90" height="5.70" fill="#fff" />
<rect x="471.65" y="898.50" width="5.90" height="1.80" fill="#000" />
<rect x="478.25" y="878.00" width="1.40" height="5.80" fill="#444" />
<rect x="478.25" y="893.00" width="1.40" height="5.80" fill="#444" />
<rect x="480.30" y="876.40" width="5.90" height="3.60" fill="#000" />
<rect x="480.30" y="880.00" width="5.90" height="4.00" fill="#fff" />
<rect x="480.30" y="892.80" width="5.90" height="5.70" fill="#fff" />
<rect x="480.30" y="898.50" width="5.90" height="1.80" fill="#000" />
<rect x="486.90" y="878.00" width="1.40" height="5.80" fill="#444" />
<rect x="486.90" y="893.00" width="1.40" height="5.80" fill="#444" />
<rect x="488.95" y="876.40" width="5.90" height="3.60" fill="#000" />
<rect x="488.95" y="880.00" width="5.90" height="4.00" fill="#fff" />
<rect x="488.95" y="892.80" width="5.90" height="5.70" fill="#fff" />
<rect x="488.95" y="898.50" width="5.90" height="1.80" fill="#000" />
<rect x="495.55" y="878.00" width="1.40" height="5.80" fill="#444" />
<rect x="495.55" y="893.00" width="1.40" height="5.80" fill="#444" />
<rect x="497.60" y="876.40" width="5.90" height="3.60" fill="#000" />
<rect x="497.60" y="880.00" width="5.90" height="4.00" fill="#fff" />
<rect x="497.60" y="892.80" width="5.90" height="5.70" fill="#fff" />
<rect x="497.60" y="898.50" width="5.90" height="1.80" fill="#000" />
<rect x="504.20" y="878.00" width="1.40" height="5.80" fill="#444" />
<rect x="504.20" y="893.00" width="1.40" height="5.80" fill="#444" />
<rect x="506.25" y="876.40" width="5.90" height="3.60" fill="#000" />
<rect x="506.25" y="880.00" width="5.90" height="4.00" fill="#fff" />
<rect x="506.25" y="892.80" width="5.90" height="5.70" fill="#fff" />
<rect x="506.25" y="898.50" width="5.90" height="1.80" fill="#000" />
<rect x="512.85" y="878.00" width="1.40" height="5.80" fill="#444" />
<rect x="512.85" y="893.00" width="1.40" height="5.80" fill="#444" />
<rect x="514.90" y="876.40" width="5.90" height="3.60" fill="#000" />
<rect x="514.90" y="880.00" width="5.90" height="4.00" fill="#fff" />
<rect x="514.90" y="892.80" width="5.90" height="5.70" fill="#fff" />
<rect x="514.90" y="898.50" width="5.90" height="1.80" fill="#000" />
<rect x="521.50" y="878.00" width="1.40" height="5.80" fill="#444" />
<rect x="521.50" y="893.00" width="1.40" height="5.80" fill="#444" />
<rect x="523.55" y="876.40" width="5.90" height="3.60" fill="#000" />
<rect x="523.55" y="880.00" width="5.90" height="4.00" fill="#fff" />
<rect x="523.55" y="892.80" width="5.90" height="5.70" fill="#fff" />
<rect x="523.55" y="898.50" width="5.90" height="1.80" fill="#000" />
<rect x="530.15" y="878.00" width="1.40" height="5.80" fill="#444" />
<rect x="530.15" y="893.00" width="1.40" height="5.80" fill="#444" />
<rect x="532.20" y="876.40" width="5.90" height="3.60" fill="#000" />
<rect x="532.20" y="880.00" width="5.90" height="4.00" fill="#fff" />
<rect x="532.20" y="892.80" width="5.90" height="5.70" fill="#fff" />
<rect x="532.20" y="898.50" width="5.90" height="1.80" fill="#000" />
<rect x="538.80" y="878.00" width="1.40" height="5.80" fill="#444" />
<rect x="538.80" y="893.00" width="1.40" height="5.80" fill="#444" />
<rect x="540.85" y="876.40" width="5.90" height="3.60" fill="#000" />
<rect x="540.85" y="880.00" width="5.90" height="4.00" fill="#fff" />
<rect x="540.85" y="892.80" width="5.90" height="5.70" fill="#fff" />
<rect x="540.85" y="898.50" width="5.90" height="1.80" fill="#000" />
<rect x="547.45" y="878.00" width="1.40" height="5.80" fill="#444" />
<rect x="547.45" y="893.00" width="1.40" height="5.80" fill="#444" />
<rect x="549.50" y="876.40" width="5.90" height="3.60" fill="#000" />
<rect x="549.50" y="880.00" width="5.90" height="4.00" fill="#fff" />
<rect x="549.50" y="892.80" width="5.90" height="5.70" fill="#fff" />
<rect x="549.50" y="898.50" width="5.90" height="1.80" fill="#000" />
<rect x="556.10" y="878.00" width="1.40" height="5.80" fill="#444" />
<rect x="556.10" y="893.00" width="1.40" height="5.80" fill="#444" />
<rect x="558.15" y="876.40" width="5.90" height="3.60" fill="#000" />
<rect x="558.15" y="880.00" width="5.90" height="4.00" fill="#fff" />
<rect x="558.15" y="892.80" width="5.90" height="5.70" fill="#fff" />
<rect x="558.15" y="898.50" width="5.90" height="1.80" fill="#000" />
<rect x="381.70" y="876.00" width="26.60" height="25.00" fill="#000" />
<path d="M382 880.5 H389 V895.5 H382" stroke="#666" stroke-width="2" fill="none"/>
<path d="M408 880.5 H400.5 V895.5 H408" stroke="#666" stroke-width="2" fill="none"/>
<rect x="96.50" y="941.50" width="480.50" height="31.70" fill="#666" />
<path d="M96.5 941.5 V973.2" stroke="#000" stroke-width="1"/>
<rect x="100.40" y="952.30" width="7.60" height="8.50" fill="#000" />
<rect x="564.00" y="952.30" width="9.00" height="8.50" fill="#000" />
<rect x="108.00" y="952.30" width="272.00" height="9.20" fill="#fff" />
<rect x="108.00" y="956.70" width="272.00" height="1.70" fill="#000" />
<rect x="109.50" y="944.90" width="5.90" height="3.60" fill="#000" />
<rect x="109.50" y="948.50" width="5.90" height="4.00" fill="#fff" />
<rect x="109.50" y="961.30" width="5.90" height="5.70" fill="#fff" />
<rect x="109.50" y="967.00" width="5.90" height="1.80" fill="#000" />
<rect x="116.10" y="946.50" width="1.40" height="5.80" fill="#444" />
<rect x="116.10" y="961.50" width="1.40" height="5.80" fill="#444" />
<rect x="118.26" y="944.90" width="5.90" height="3.60" fill="#000" />
<rect x="118.26" y="948.50" width="5.90" height="4.00" fill="#fff" />
<rect x="118.26" y="961.30" width="5.90" height="5.70" fill="#fff" />
<rect x="118.26" y="967.00" width="5.90" height="1.80" fill="#000" />
<rect x="124.86" y="946.50" width="1.40" height="5.80" fill="#444" />
<rect x="124.86" y="961.50" width="1.40" height="5.80" fill="#444" />
<rect x="127.02" y="944.90" width="5.90" height="3.60" fill="#000" />
<rect x="127.02" y="948.50" width="5.90" height="4.00" fill="#fff" />
<rect x="127.02" y="961.30" width="5.90" height="5.70" fill="#fff" />
<rect x="127.02" y="967.00" width="5.90" height="1.80" fill="#000" />
<rect x="133.62" y="946.50" width="1.40" height="5.80" fill="#444" />
<rect x="133.62" y="961.50" width="1.40" height="5.80" fill="#444" />
<rect x="135.78" y="944.90" width="5.90" height="3.60" fill="#000" />
<rect x="135.78" y="948.50" width="5.90" height="4.00" fill="#fff" />
<rect x="135.78" y="961.30" width="5.90" height="5.70" fill="#fff" />
<rect x="135.78" y="967.00" width="5.90" height="1.80" fill="#000" />
<rect x="142.38" y="946.50" width="1.40" height="5.80" fill="#444" />
<rect x="142.38" y="961.50" width="1.40" height="5.80" fill="#444" />
<rect x="144.54" y="944.90" width="5.90" height="3.60" fill="#000" />
<rect x="144.54" y="948.50" width="5.90" height="4.00" fill="#fff" />
<rect x="144.54" y="961.30" width="5.90" height="5.70" fill="#fff" />
<rect x="144.54" y="967.00" width="5.90" height="1.80" fill="#000" />
<rect x="151.14" y="946.50" width="1.40" height="5.80" fill="#444" />
<rect x="151.14" y="961.50" width="1.40" height="5.80" fill="#444" />
<rect x="153.30" y="944.90" width="5.90" height="3.60" fill="#000" />
<rect x="153.30" y="948.50" width="5.90" height="4.00" fill="#fff" />
<rect x="153.30" y="961.30" width="5.90" height="5.70" fill="#fff" />
<rect x="153.30" y="967.00" width="5.90" height="1.80" fill="#000" />
<rect x="159.90" y="946.50" width="1.40" height="5.80" fill="#444" />
<rect x="159.90" y="961.50" width="1.40" height="5.80" fill="#444" />
<rect x="162.06" y="944.90" width="5.90" height="3.60" fill="#000" />
<rect x="162.06" y="948.50" width="5.90" height="4.00" fill="#fff" />
<rect x="162.06" y="961.30" width="5.90" height="5.70" fill="#fff" />
<rect x="162.06" y="967.00" width="5.90" height="1.80" fill="#000" />
<rect x="168.66" y="946.50" width="1.40" height="5.80" fill="#444" />
<rect x="168.66" y="961.50" width="1.40" height="5.80" fill="#444" />
<rect x="170.82" y="944.90" width="5.90" height="3.60" fill="#000" />
<rect x="170.82" y="948.50" width="5.90" height="4.00" fill="#fff" />
<rect x="170.82" y="961.30" width="5.90" height="5.70" fill="#fff" />
<rect x="170.82" y="967.00" width="5.90" height="1.80" fill="#000" />
<rect x="177.42" y="946.50" width="1.40" height="5.80" fill="#444" />
<rect x="177.42" y="961.50" width="1.40" height="5.80" fill="#444" />
<rect x="179.58" y="944.90" width="5.90" height="3.60" fill="#000" />
<rect x="179.58" y="948.50" width="5.90" height="4.00" fill="#fff" />
<rect x="179.58" y="961.30" width="5.90" height="5.70" fill="#fff" />
<rect x="179.58" y="967.00" width="5.90" height="1.80" fill="#000" />
<rect x="186.18" y="946.50" width="1.40" height="5.80" fill="#444" />
<rect x="186.18" y="961.50" width="1.40" height="5.80" fill="#444" />
<rect x="188.34" y="944.90" width="5.90" height="3.60" fill="#000" />
<rect x="188.34" y="948.50" width="5.90" height="4.00" fill="#fff" />
<rect x="188.34" y="961.30" width="5.90" height="5.70" fill="#fff" />
<rect x="188.34" y="967.00" width="5.90" height="1.80" fill="#000" />
<rect x="194.94" y="946.50" width="1.40" height="5.80" fill="#444" />
<rect x="194.94" y="961.50" width="1.40" height="5.80" fill="#444" />
<rect x="197.10" y="944.90" width="5.90" height="3.60" fill="#000" />
<rect x="197.10" y="948.50" width="5.90" height="4.00" fill="#fff" />
<rect x="197.10" y="961.30" width="5.90" height="5.70" fill="#fff" />
<rect x="197.10" y="967.00" width="5.90" height="1.80" fill="#000" />
<rect x="203.70" y="946.50" width="1.40" height="5.80" fill="#444" />
<rect x="203.70" y="961.50" width="1.40" height="5.80" fill="#444" />
<rect x="205.86" y="944.90" width="5.90" height="3.60" fill="#000" />
<rect x="205.86" y="948.50" width="5.90" height="4.00" fill="#fff" />
<rect x="205.86" y="961.30" width="5.90" height="5.70" fill="#fff" />
<rect x="205.86" y="967.00" width="5.90" height="1.80" fill="#000" />
<rect x="212.46" y="946.50" width="1.40" height="5.80" fill="#444" />
<rect x="212.46" y="961.50" width="1.40" height="5.80" fill="#444" />
<rect x="214.62" y="944.90" width="5.90" height="3.60" fill="#000" />
<rect x="214.62" y="948.50" width="5.90" height="4.00" fill="#fff" />
<rect x="214.62" y="961.30" width="5.90" height="5.70" fill="#fff" />
<rect x="214.62" y="967.00" width="5.90" height="1.80" fill="#000" />
<rect x="221.22" y="946.50" width="1.40" height="5.80" fill="#444" />
<rect x="221.22" y="961.50" width="1.40" height="5.80" fill="#444" />
<rect x="223.38" y="944.90" width="5.90" height="3.60" fill="#000" />
<rect x="223.38" y="948.50" width="5.90" height="4.00" fill="#fff" />
<rect x="223.38" y="961.30" width="5.90" height="5.70" fill="#fff" />
<rect x="223.38" y="967.00" width="5.90" height="1.80" fill="#000" />
<rect x="229.98" y="946.50" width="1.40" height="5.80" fill="#444" />
<rect x="229.98" y="961.50" width="1.40" height="5.80" fill="#444" />
<rect x="232.14" y="944.90" width="5.90" height="3.60" fill="#000" />
<rect x="232.14" y="948.50" width="5.90" height="4.00" fill="#fff" />
<rect x="232.14" y="961.30" width="5.90" height="5.70" fill="#fff" />
<rect x="232.14" y="967.00" width="5.90" height="1.80" fill="#000" />
<rect x="238.74" y="946.50" width="1.40" height="5.80" fill="#444" />
<rect x="238.74" y="961.50" width="1.40" height="5.80" fill="#444" />
<rect x="240.90" y="944.90" width="5.90" height="3.60" fill="#000" />
<rect x="240.90" y="948.50" width="5.90" height="4.00" fill="#fff" />
<rect x="240.90" y="961.30" width="5.90" height="5.70" fill="#fff" />
<rect x="240.90" y="967.00" width="5.90" height="1.80" fill="#000" />
<rect x="247.50" y="946.50" width="1.40" height="5.80" fill="#444" />
<rect x="247.50" y="961.50" width="1.40" height="5.80" fill="#444" />
<rect x="249.66" y="944.90" width="5.90" height="3.60" fill="#000" />
<rect x="249.66" y="948.50" width="5.90" height="4.00" fill="#fff" />
<rect x="249.66" y="961.30" width="5.90" height="5.70" fill="#fff" />
<rect x="249.66" y="967.00" width="5.90" height="1.80" fill="#000" />
<rect x="256.26" y="946.50" width="1.40" height="5.80" fill="#444" />
<rect x="256.26" y="961.50" width="1.40" height="5.80" fill="#444" />
<rect x="258.42" y="944.90" width="5.90" height="3.60" fill="#000" />
<rect x="258.42" y="948.50" width="5.90" height="4.00" fill="#fff" />
<rect x="258.42" y="961.30" width="5.90" height="5.70" fill="#fff" />
<rect x="258.42" y="967.00" width="5.90" height="1.80" fill="#000" />
<rect x="265.02" y="946.50" width="1.40" height="5.80" fill="#444" />
<rect x="265.02" y="961.50" width="1.40" height="5.80" fill="#444" />
<rect x="267.18" y="944.90" width="5.90" height="3.60" fill="#000" />
<rect x="267.18" y="948.50" width="5.90" height="4.00" fill="#fff" />
<rect x="267.18" y="961.30" width="5.90" height="5.70" fill="#fff" />
<rect x="267.18" y="967.00" width="5.90" height="1.80" fill="#000" />
<rect x="273.78" y="946.50" width="1.40" height="5.80" fill="#444" />
<rect x="273.78" y="961.50" width="1.40" height="5.80" fill="#444" />
<rect x="275.94" y="944.90" width="5.90" height="3.60" fill="#000" />
<rect x="275.94" y="948.50" width="5.90" height="4.00" fill="#fff" />
<rect x="275.94" y="961.30" width="5.90" height="5.70" fill="#fff" />
<rect x="275.94" y="967.00" width="5.90" height="1.80" fill="#000" />
<rect x="282.54" y="946.50" width="1.40" height="5.80" fill="#444" />
<rect x="282.54" y="961.50" width="1.40" height="5.80" fill="#444" />
<rect x="284.70" y="944.90" width="5.90" height="3.60" fill="#000" />
<rect x="284.70" y="948.50" width="5.90" height="4.00" fill="#fff" />
<rect x="284.70" y="961.30" width="5.90" height="5.70" fill="#fff" />
<rect x="284.70" y="967.00" width="5.90" height="1.80" fill="#000" />
<rect x="291.30" y="946.50" width="1.40" height="5.80" fill="#444" />
<rect x="291.30" y="961.50" width="1.40" height="5.80" fill="#444" />
<rect x="293.46" y="944.90" width="5.90" height="3.60" fill="#000" />
<rect x="293.46" y="948.50" width="5.90" height="4.00" fill="#fff" />
<rect x="293.46" y="961.30" width="5.90" height="5.70" fill="#fff" />
<rect x="293.46" y="967.00" width="5.90" height="1.80" fill="#000" />
<rect x="300.06" y="946.50" width="1.40" height="5.80" fill="#444" />
<rect x="300.06" y="961.50" width="1.40" height="5.80" fill="#444" />
<rect x="302.22" y="944.90" width="5.90" height="3.60" fill="#000" />
<rect x="302.22" y="948.50" width="5.90" height="4.00" fill="#fff" />
<rect x="302.22" y="961.30" width="5.90" height="5.70" fill="#fff" />
<rect x="302.22" y="967.00" width="5.90" height="1.80" fill="#000" />
<rect x="308.82" y="946.50" width="1.40" height="5.80" fill="#444" />
<rect x="308.82" y="961.50" width="1.40" height="5.80" fill="#444" />
<rect x="310.98" y="944.90" width="5.90" height="3.60" fill="#000" />
<rect x="310.98" y="948.50" width="5.90" height="4.00" fill="#fff" />
<rect x="310.98" y="961.30" width="5.90" height="5.70" fill="#fff" />
<rect x="310.98" y="967.00" width="5.90" height="1.80" fill="#000" />
<rect x="317.58" y="946.50" width="1.40" height="5.80" fill="#444" />
<rect x="317.58" y="961.50" width="1.40" height="5.80" fill="#444" />
<rect x="319.74" y="944.90" width="5.90" height="3.60" fill="#000" />
<rect x="319.74" y="948.50" width="5.90" height="4.00" fill="#fff" />
<rect x="319.74" y="961.30" width="5.90" height="5.70" fill="#fff" />
<rect x="319.74" y="967.00" width="5.90" height="1.80" fill="#000" />
<rect x="326.34" y="946.50" width="1.40" height="5.80" fill="#444" />
<rect x="326.34" y="961.50" width="1.40" height="5.80" fill="#444" />
<rect x="328.50" y="944.90" width="5.90" height="3.60" fill="#000" />
<rect x="328.50" y="948.50" width="5.90" height="4.00" fill="#fff" />
<rect x="328.50" y="961.30" width="5.90" height="5.70" fill="#fff" />
<rect x="328.50" y="967.00" width="5.90" height="1.80" fill="#000" />
<rect x="335.10" y="946.50" width="1.40" height="5.80" fill="#444" />
<rect x="335.10" y="961.50" width="1.40" height="5.80" fill="#444" />
<rect x="337.26" y="944.90" width="5.90" height="3.60" fill="#000" />
<rect x="337.26" y="948.50" width="5.90" height="4.00" fill="#fff" />
<rect x="337.26" y="961.30" width="5.90" height="5.70" fill="#fff" />
<rect x="337.26" y="967.00" width="5.90" height="1.80" fill="#000" />
<rect x="343.86" y="946.50" width="1.40" height="5.80" fill="#444" />
<rect x="343.86" y="961.50" width="1.40" height="5.80" fill="#444" />
<rect x="346.02" y="944.90" width="5.90" height="3.60" fill="#000" />
<rect x="346.02" y="948.50" width="5.90" height="4.00" fill="#fff" />
<rect x="346.02" y="961.30" width="5.90" height="5.70" fill="#fff" />
<rect x="346.02" y="967.00" width="5.90" height="1.80" fill="#000" />
<rect x="352.62" y="946.50" width="1.40" height="5.80" fill="#444" />
<rect x="352.62" y="961.50" width="1.40" height="5.80" fill="#444" />
<rect x="354.78" y="944.90" width="5.90" height="3.60" fill="#000" />
<rect x="354.78" y="948.50" width="5.90" height="4.00" fill="#fff" />
<rect x="354.78" y="961.30" width="5.90" height="5.70" fill="#fff" />
<rect x="354.78" y="967.00" width="5.90" height="1.80" fill="#000" />
<rect x="361.38" y="946.50" width="1.40" height="5.80" fill="#444" />
<rect x="361.38" y="961.50" width="1.40" height="5.80" fill="#444" />
<rect x="363.54" y="944.90" width="5.90" height="3.60" fill="#000" />
<rect x="363.54" y="948.50" width="5.90" height="4.00" fill="#fff" />
<rect x="363.54" y="961.30" width="5.90" height="5.70" fill="#fff" />
<rect x="363.54" y="967.00" width="5.90" height="1.80" fill="#000" />
<rect x="370.14" y="946.50" width="1.40" height="5.80" fill="#444" />
<rect x="370.14" y="961.50" width="1.40" height="5.80" fill="#444" />
<rect x="372.30" y="944.90" width="5.90" height="3.60" fill="#000" />
<rect x="372.30" y="948.50" width="5.90" height="4.00" fill="#fff" />
<rect x="372.30" y="961.30" width="5.90" height="5.70" fill="#fff" />
<rect x="372.30" y="967.00" width="5.90" height="1.80" fill="#000" />
<rect x="410.00" y="952.30" width="154.30" height="9.20" fill="#fff" />
<rect x="410.00" y="956.70" width="154.30" height="1.70" fill="#000" />
<rect x="411.10" y="944.90" width="5.90" height="3.60" fill="#000" />
<rect x="411.10" y="948.50" width="5.90" height="4.00" fill="#fff" />
<rect x="411.10" y="961.30" width="5.90" height="5.70" fill="#fff" />
<rect x="411.10" y="967.00" width="5.90" height="1.80" fill="#000" />
<rect x="417.70" y="946.50" width="1.40" height="5.80" fill="#444" />
<rect x="417.70" y="961.50" width="1.40" height="5.80" fill="#444" />
<rect x="419.75" y="944.90" width="5.90" height="3.60" fill="#000" />
<rect x="419.75" y="948.50" width="5.90" height="4.00" fill="#fff" />
<rect x="419.75" y="961.30" width="5.90" height="5.70" fill="#fff" />
<rect x="419.75" y="967.00" width="5.90" height="1.80" fill="#000" />
<rect x="426.35" y="946.50" width="1.40" height="5.80" fill="#444" />
<rect x="426.35" y="961.50" width="1.40" height="5.80" fill="#444" />
<rect x="428.40" y="944.90" width="5.90" height="3.60" fill="#000" />
<rect x="428.40" y="948.50" width="5.90" height="4.00" fill="#fff" />
<rect x="428.40" y="961.30" width="5.90" height="5.70" fill="#fff" />
<rect x="428.40" y="967.00" width="5.90" height="1.80" fill="#000" />
<rect x="435.00" y="946.50" width="1.40" height="5.80" fill="#444" />
<rect x="435.00" y="961.50" width="1.40" height="5.80" fill="#444" />
<rect x="437.05" y="944.90" width="5.90" height="3.60" fill="#000" />
<rect x="437.05" y="948.50" width="5.90" height="4.00" fill="#fff" />
<rect x="437.05" y="961.30" width="5.90" height="5.70" fill="#fff" />
<rect x="437.05" y="967.00" width="5.90" height="1.80" fill="#000" />
<rect x="443.65" y="946.50" width="1.40" height="5.80" fill="#444" />
<rect x="443.65" y="961.50" width="1.40" height="5.80" fill="#444" />
<rect x="445.70" y="944.90" width="5.90" height="3.60" fill="#000" />
<rect x="445.70" y="948.50" width="5.90" height="4.00" fill="#fff" />
<rect x="445.70" y="961.30" width="5.90" height="5.70" fill="#fff" />
<rect x="445.70" y="967.00" width="5.90" height="1.80" fill="#000" />
<rect x="452.30" y="946.50" width="1.40" height="5.80" fill="#444" />
<rect x="452.30" y="961.50" width="1.40" height="5.80" fill="#444" />
<rect x="454.35" y="944.90" width="5.90" height="3.60" fill="#000" />
<rect x="454.35" y="948.50" width="5.90" height="4.00" fill="#fff" />
<rect x="454.35" y="961.30" width="5.90" height="5.70" fill="#fff" />
<rect x="454.35" y="967.00" width="5.90" height="1.80" fill="#000" />
<rect x="460.95" y="946.50" width="1.40" height="5.80" fill="#444" />
<rect x="460.95" y="961.50" width="1.40" height="5.80" fill="#444" />
<rect x="463.00" y="944.90" width="5.90" height="3.60" fill="#000" />
<rect x="463.00" y="948.50" width="5.90" height="4.00" fill="#fff" />
<rect x="463.00" y="961.30" width="5.90" height="5.70" fill="#fff" />
<rect x="463.00" y="967.00" width="5.90" height="1.80" fill="#000" />
<rect x="469.60" y="946.50" width="1.40" height="5.80" fill="#444" />
<rect x="469.60" y="961.50" width="1.40" height="5.80" fill="#444" />
<rect x="471.65" y="944.90" width="5.90" height="3.60" fill="#000" />
<rect x="471.65" y="948.50" width="5.90" height="4.00" fill="#fff" />
<rect x="471.65" y="961.30" width="5.90" height="5.70" fill="#fff" />
<rect x="471.65" y="967.00" width="5.90" height="1.80" fill="#000" />
<rect x="478.25" y="946.50" width="1.40" height="5.80" fill="#444" />
<rect x="478.25" y="961.50" width="1.40" height="5.80" fill="#444" />
<rect x="480.30" y="944.90" width="5.90" height="3.60" fill="#000" />
<rect x="480.30" y="948.50" width="5.90" height="4.00" fill="#fff" />
<rect x="480.30" y="961.30" width="5.90" height="5.70" fill="#fff" />
<rect x="480.30" y="967.00" width="5.90" height="1.80" fill="#000" />
<rect x="486.90" y="946.50" width="1.40" height="5.80" fill="#444" />
<rect x="486.90" y="961.50" width="1.40" height="5.80" fill="#444" />
<rect x="488.95" y="944.90" width="5.90" height="3.60" fill="#000" />
<rect x="488.95" y="948.50" width="5.90" height="4.00" fill="#fff" />
<rect x="488.95" y="961.30" width="5.90" height="5.70" fill="#fff" />
<rect x="488.95" y="967.00" width="5.90" height="1.80" fill="#000" />
<rect x="495.55" y="946.50" width="1.40" height="5.80" fill="#444" />
<rect x="495.55" y="961.50" width="1.40" height="5.80" fill="#444" />
<rect x="497.60" y="944.90" width="5.90" height="3.60" fill="#000" />
<rect x="497.60" y="948.50" width="5.90" height="4.00" fill="#fff" />
<rect x="497.60" y="961.30" width="5.90" height="5.70" fill="#fff" />
<rect x="497.60" y="967.00" width="5.90" height="1.80" fill="#000" />
<rect x="504.20" y="946.50" width="1.40" height="5.80" fill="#444" />
<rect x="504.20" y="961.50" width="1.40" height="5.80" fill="#444" />
<rect x="506.25" y="944.90" width="5.90" height="3.60" fill="#000" />
<rect x="506.25" y="948.50" width="5.90" height="4.00" fill="#fff" />
<rect x="506.25" y="961.30" width="5.90" height="5.70" fill="#fff" />
<rect x="506.25" y="967.00" width="5.90" height="1.80" fill="#000" />
<rect x="512.85" y="946.50" width="1.40" height="5.80" fill="#444" />
<rect x="512.85" y="961.50" width="1.40" height="5.80" fill="#444" />
<rect x="514.90" y="944.90" width="5.90" height="3.60" fill="#000" />
<rect x="514.90" y="948.50" width="5.90" height="4.00" fill="#fff" />
<rect x="514.90" y="961.30" width="5.90" height="5.70" fill="#fff" />
<rect x="514.90" y="967.00" width="5.90" height="1.80" fill="#000" />
<rect x="521.50" y="946.50" width="1.40" height="5.80" fill="#444" />
<rect x="521.50" y="961.50" width="1.40" height="5.80" fill="#444" />
<rect x="523.55" y="944.90" width="5.90" height="3.60" fill="#000" />
<rect x="523.55" y="948.50" width="5.90" height="4.00" fill="#fff" />
<rect x="523.55" y="961.30" width="5.90" height="5.70" fill="#fff" />
<rect x="523.55" y="967.00" width="5.90" height="1.80" fill="#000" />
<rect x="530.15" y="946.50" width="1.40" height="5.80" fill="#444" />
<rect x="530.15" y="961.50" width="1.40" height="5.80" fill="#444" />
<rect x="532.20" y="944.90" width="5.90" height="3.60" fill="#000" />
<rect x="532.20" y="948.50" width="5.90" height="4.00" fill="#fff" />
<rect x="532.20" y="961.30" width="5.90" height="5.70" fill="#fff" />
<rect x="532.20" y="967.00" width="5.90" height="1.80" fill="#000" />
<rect x="538.80" y="946.50" width="1.40" height="5.80" fill="#444" />
<rect x="538.80" y="961.50" width="1.40" height="5.80" fill="#444" />
<rect x="540.85" y="944.90" width="5.90" height="3.60" fill="#000" />
<rect x="540.85" y="948.50" width="5.90" height="4.00" fill="#fff" />
<rect x="540.85" y="961.30" width="5.90" height="5.70" fill="#fff" />
<rect x="540.85" y="967.00" width="5.90" height="1.80" fill="#000" />
<rect x="547.45" y="946.50" width="1.40" height="5.80" fill="#444" />
<rect x="547.45" y="961.50" width="1.40" height="5.80" fill="#444" />
<rect x="549.50" y="944.90" width="5.90" height="3.60" fill="#000" />
<rect x="549.50" y="948.50" width="5.90" height="4.00" fill="#fff" />
<rect x="549.50" y="961.30" width="5.90" height="5.70" fill="#fff" />
<rect x="549.50" y="967.00" width="5.90" height="1.80" fill="#000" />
<rect x="556.10" y="946.50" width="1.40" height="5.80" fill="#444" />
<rect x="556.10" y="961.50" width="1.40" height="5.80" fill="#444" />
<rect x="558.15" y="944.90" width="5.90" height="3.60" fill="#000" />
<rect x="558.15" y="948.50" width="5.90" height="4.00" fill="#fff" />
<rect x="558.15" y="961.30" width="5.90" height="5.70" fill="#fff" />
<rect x="558.15" y="967.00" width="5.90" height="1.80" fill="#000" />
<rect x="381.70" y="944.50" width="26.60" height="25.00" fill="#000" />
<path d="M382 949.0 H389 V964.0 H382" stroke="#666" stroke-width="2" fill="none"/>
<path d="M408 949.0 H400.5 V964.0 H408" stroke="#666" stroke-width="2" fill="none"/>
<rect x="96.50" y="1010.00" width="480.50" height="31.70" fill="#666" />
<path d="M96.5 1010.0 V1041.7" stroke="#000" stroke-width="1"/>
<rect x="100.40" y="1020.80" width="7.60" height="8.50" fill="#000" />
<rect x="564.00" y="1020.80" width="9.00" height="8.50" fill="#000" />
<rect x="108.00" y="1020.80" width="272.00" height="9.20" fill="#fff" />
<rect x="108.00" y="1025.20" width="272.00" height="1.70" fill="#000" />
<rect x="109.50" y="1013.40" width="5.90" height="3.60" fill="#000" />
<rect x="109.50" y="1017.00" width="5.90" height="4.00" fill="#fff" />
<rect x="109.50" y="1029.80" width="5.90" height="5.70" fill="#fff" />
<rect x="109.50" y="1035.50" width="5.90" height="1.80" fill="#000" />
<rect x="116.10" y="1015.00" width="1.40" height="5.80" fill="#444" />
<rect x="116.10" y="1030.00" width="1.40" height="5.80" fill="#444" />
<rect x="118.26" y="1013.40" width="5.90" height="3.60" fill="#000" />
<rect x="118.26" y="1017.00" width="5.90" height="4.00" fill="#fff" />
<rect x="118.26" y="1029.80" width="5.90" height="5.70" fill="#fff" />
<rect x="118.26" y="1035.50" width="5.90" height="1.80" fill="#000" />
<rect x="124.86" y="1015.00" width="1.40" height="5.80" fill="#444" />
<rect x="124.86" y="1030.00" width="1.40" height="5.80" fill="#444" />
<rect x="127.02" y="1013.40" width="5.90" height="3.60" fill="#000" />
<rect x="127.02" y="1017.00" width="5.90" height="4.00" fill="#fff" />
<rect x="127.02" y="1029.80" width="5.90" height="5.70" fill="#fff" />
<rect x="127.02" y="1035.50" width="5.90" height="1.80" fill="#000" />
<rect x="133.62" y="1015.00" width="1.40" height="5.80" fill="#444" />
<rect x="133.62" y="1030.00" width="1.40" height="5.80" fill="#444" />
<rect x="135.78" y="1013.40" width="5.90" height="3.60" fill="#000" />
<rect x="135.78" y="1017.00" width="5.90" height="4.00" fill="#fff" />
<rect x="135.78" y="1029.80" width="5.90" height="5.70" fill="#fff" />
<rect x="135.78" y="1035.50" width="5.90" height="1.80" fill="#000" />
<rect x="142.38" y="1015.00" width="1.40" height="5.80" fill="#444" />
<rect x="142.38" y="1030.00" width="1.40" height="5.80" fill="#444" />
<rect x="144.54" y="1013.40" width="5.90" height="3.60" fill="#000" />
<rect x="144.54" y="1017.00" width="5.90" height="4.00" fill="#fff" />
<rect x="144.54" y="1029.80" width="5.90" height="5.70" fill="#fff" />
<rect x="144.54" y="1035.50" width="5.90" height="1.80" fill="#000" />
<rect x="151.14" y="1015.00" width="1.40" height="5.80" fill="#444" />
<rect x="151.14" y="1030.00" width="1.40" height="5.80" fill="#444" />
<rect x="153.30" y="1013.40" width="5.90" height="3.60" fill="#000" />
<rect x="153.30" y="1017.00" width="5.90" height="4.00" fill="#fff" />
<rect x="153.30" y="1029.80" width="5.90" height="5.70" fill="#fff" />
<rect x="153.30" y="1035.50" width="5.90" height="1.80" fill="#000" />
<rect x="159.90" y="1015.00" width="1.40" height="5.80" fill="#444" />
<rect x="159.90" y="1030.00" width="1.40" height="5.80" fill="#444" />
<rect x="162.06" y="1013.40" width="5.90" height="3.60" fill="#000" />
<rect x="162.06" y="1017.00" width="5.90" height="4.00" fill="#fff" />
<rect x="162.06" y="1029.80" width="5.90" height="5.70" fill="#fff" />
<rect x="162.06" y="1035.50" width="5.90" height="1.80" fill="#000" />
<rect x="168.66" y="1015.00" width="1.40" height="5.80" fill="#444" />
<rect x="168.66" y="1030.00" width="1.40" height="5.80" fill="#444" />
<rect x="170.82" y="1013.40" width="5.90" height="3.60" fill="#000" />
<rect x="170.82" y="1017.00" width="5.90" height="4.00" fill="#fff" />
<rect x="170.82" y="1029.80" width="5.90" height="5.70" fill="#fff" />
<rect x="170.82" y="1035.50" width="5.90" height="1.80" fill="#000" />
<rect x="177.42" y="1015.00" width="1.40" height="5.80" fill="#444" />
<rect x="177.42" y="1030.00" width="1.40" height="5.80" fill="#444" />
<rect x="179.58" y="1013.40" width="5.90" height="3.60" fill="#000" />
<rect x="179.58" y="1017.00" width="5.90" height="4.00" fill="#fff" />
<rect x="179.58" y="1029.80" width="5.90" height="5.70" fill="#fff" />
<rect x="179.58" y="1035.50" width="5.90" height="1.80" fill="#000" />
<rect x="186.18" y="1015.00" width="1.40" height="5.80" fill="#444" />
<rect x="186.18" y="1030.00" width="1.40" height="5.80" fill="#444" />
<rect x="188.34" y="1013.40" width="5.90" height="3.60" fill="#000" />
<rect x="188.34" y="1017.00" width="5.90" height="4.00" fill="#fff" />
<rect x="188.34" y="1029.80" width="5.90" height="5.70" fill="#fff" />
<rect x="188.34" y="1035.50" width="5.90" height="1.80" fill="#000" />
<rect x="194.94" y="1015.00" width="1.40" height="5.80" fill="#444" />
<rect x="194.94" y="1030.00" width="1.40" height="5.80" fill="#444" />
<rect x="197.10" y="1013.40" width="5.90" height="3.60" fill="#000" />
<rect x="197.10" y="1017.00" width="5.90" height="4.00" fill="#fff" />
<rect x="197.10" y="1029.80" width="5.90" height="5.70" fill="#fff" />
<rect x="197.10" y="1035.50" width="5.90" height="1.80" fill="#000" />
<rect x="203.70" y="1015.00" width="1.40" height="5.80" fill="#444" />
<rect x="203.70" y="1030.00" width="1.40" height="5.80" fill="#444" />
<rect x="205.86" y="1013.40" width="5.90" height="3.60" fill="#000" />
<rect x="205.86" y="1017.00" width="5.90" height="4.00" fill="#fff" />
<rect x="205.86" y="1029.80" width="5.90" height="5.70" fill="#fff" />
<rect x="205.86" y="1035.50" width="5.90" height="1.80" fill="#000" />
<rect x="212.46" y="1015.00" width="1.40" height="5.80" fill="#444" />
<rect x="212.46" y="1030.00" width="1.40" height="5.80" fill="#444" />
<rect x="214.62" y="1013.40" width="5.90" height="3.60" fill="#000" />
<rect x="214.62" y="1017.00" width="5.90" height="4.00" fill="#fff" />
<rect x="214.62" y="1029.80" width="5.90" height="5.70" fill="#fff" />
<rect x="214.62" y="1035.50" width="5.90" height="1.80" fill="#000" />
<rect x="221.22" y="1015.00" width="1.40" height="5.80" fill="#444" />
<rect x="221.22" y="1030.00" width="1.40" height="5.80" fill="#444" />
<rect x="223.38" y="1013.40" width="5.90" height="3.60" fill="#000" />
<rect x="223.38" y="1017.00" width="5.90" height="4.00" fill="#fff" />
<rect x="223.38" y="1029.80" width="5.90" height="5.70" fill="#fff" />
<rect x="223.38" y="1035.50" width="5.90" height="1.80" fill="#000" />
<rect x="229.98" y="1015.00" width="1.40" height="5.80" fill="#444" />
<rect x="229.98" y="1030.00" width="1.40" height="5.80" fill="#444" />
<rect x="232.14" y="1013.40" width="5.90" height="3.60" fill="#000" />
<rect x="232.14" y="1017.00" width="5.90" height="4.00" fill="#fff" />
<rect x="232.14" y="1029.80" width="5.90" height="5.70" fill="#fff" />
<rect x="232.14" y="1035.50" width="5.90" height="1.80" fill="#000" />
<rect x="238.74" y="1015.00" width="1.40" height="5.80" fill="#444" />
<rect x="238.74" y="1030.00" width="1.40" height="5.80" fill="#444" />
<rect x="240.90" y="1013.40" width="5.90" height="3.60" fill="#000" />
<rect x="240.90" y="1017.00" width="5.90" height="4.00" fill="#fff" />
<rect x="240.90" y="1029.80" width="5.90" height="5.70" fill="#fff" />
<rect x="240.90" y="1035.50" width="5.90" height="1.80" fill="#000" />
<rect x="247.50" y="1015.00" width="1.40" height="5.80" fill="#444" />
<rect x="247.50" y="1030.00" width="1.40" height="5.80" fill="#444" />
<rect x="249.66" y="1013.40" width="5.90" height="3.60" fill="#000" />
<rect x="249.66" y="1017.00" width="5.90" height="4.00" fill="#fff" />
<rect x="249.66" y="1029.80" width="5.90" height="5.70" fill="#fff" />
<rect x="249.66" y="1035.50" width="5.90" height="1.80" fill="#000" />
<rect x="256.26" y="1015.00" width="1.40" height="5.80" fill="#444" />
<rect x="256.26" y="1030.00" width="1.40" height="5.80" fill="#444" />
<rect x="258.42" y="1013.40" width="5.90" height="3.60" fill="#000" />
<rect x="258.42" y="1017.00" width="5.90" height="4.00" fill="#fff" />
<rect x="258.42" y="1029.80" width="5.90" height="5.70" fill="#fff" />
<rect x="258.42" y="1035.50" width="5.90" height="1.80" fill="#000" />
<rect x="265.02" y="1015.00" width="1.40" height="5.80" fill="#444" />
<rect x="265.02" y="1030.00" width="1.40" height="5.80" fill="#444" />
<rect x="267.18" y="1013.40" width="5.90" height="3.60" fill="#000" />
<rect x="267.18" y="1017.00" width="5.90" height="4.00" fill="#fff" />
<rect x="267.18" y="1029.80" width="5.90" height="5.70" fill="#fff" />
<rect x="267.18" y="1035.50" width="5.90" height="1.80" fill="#000" />
<rect x="273.78" y="1015.00" width="1.40" height="5.80" fill="#444" />
<rect x="273.78" y="1030.00" width="1.40" height="5.80" fill="#444" />
<rect x="275.94" y="1013.40" width="5.90" height="3.60" fill="#000" />
<rect x="275.94" y="1017.00" width="5.90" height="4.00" fill="#fff" />
<rect x="275.94" y="1029.80" width="5.90" height="5.70" fill="#fff" />
<rect x="275.94" y="1035.50" width="5.90" height="1.80" fill="#000" />
<rect x="282.54" y="1015.00" width="1.40" height="5.80" fill="#444" />
<rect x="282.54" y="1030.00" width="1.40" height="5.80" fill="#444" />
<rect x="284.70" y="1013.40" width="5.90" height="3.60" fill="#000" />
<rect x="284.70" y="1017.00" width="5.90" height="4.00" fill="#fff" />
<rect x="284.70" y="1029.80" width="5.90" height="5.70" fill="#fff" />
<rect x="284.70" y="1035.50" width="5.90" height="1.80" fill="#000" />
<rect x="291.30" y="1015.00" width="1.40" height="5.80" fill="#444" />
<rect x="291.30" y="1030.00" width="1.40" height="5.80" fill="#444" />
<rect x="293.46" y="1013.40" width="5.90" height="3.60" fill="#000" />
<rect x="293.46" y="1017.00" width="5.90" height="4.00" fill="#fff" />
<rect x="293.46" y="1029.80" width="5.90" height="5.70" fill="#fff" />
<rect x="293.46" y="1035.50" width="5.90" height="1.80" fill="#000" />
<rect x="300.06" y="1015.00" width="1.40" height="5.80" fill="#444" />
<rect x="300.06" y="1030.00" width="1.40" height="5.80" fill="#444" />
<rect x="302.22" y="1013.40" width="5.90" height="3.60" fill="#000" />
<rect x="302.22" y="1017.00" width="5.90" height="4.00" fill="#fff" />
<rect x="302.22" y="1029.80" width="5.90" height="5.70" fill="#fff" />
<rect x="302.22" y="1035.50" width="5.90" height="1.80" fill="#000" />
<rect x="308.82" y="1015.00" width="1.40" height="5.80" fill="#444" />
<rect x="308.82" y="1030.00" width="1.40" height="5.80" fill="#444" />
<rect x="310.98" y="1013.40" width="5.90" height="3.60" fill="#000" />
<rect x="310.98" y="1017.00" width="5.90" height="4.00" fill="#fff" />
<rect x="310.98" y="1029.80" width="5.90" height="5.70" fill="#fff" />
<rect x="310.98" y="1035.50" width="5.90" height="1.80" fill="#000" />
<rect x="317.58" y="1015.00" width="1.40" height="5.80" fill="#444" />
<rect x="317.58" y="1030.00" width="1.40" height="5.80" fill="#444" />
<rect x="319.74" y="1013.40" width="5.90" height="3.60" fill="#000" />
<rect x="319.74" y="1017.00" width="5.90" height="4.00" fill="#fff" />
<rect x="319.74" y="1029.80" width="5.90" height="5.70" fill="#fff" />
<rect x="319.74" y="1035.50" width="5.90" height="1.80" fill="#000" />
<rect x="326.34" y="1015.00" width="1.40" height="5.80" fill="#444" />
<rect x="326.34" y="1030.00" width="1.40" height="5.80" fill="#444" />
<rect x="328.50" y="1013.40" width="5.90" height="3.60" fill="#000" />
<rect x="328.50" y="1017.00" width="5.90" height="4.00" fill="#fff" />
<rect x="328.50" y="1029.80" width="5.90" height="5.70" fill="#fff" />
<rect x="328.50" y="1035.50" width="5.90" height="1.80" fill="#000" />
<rect x="335.10" y="1015.00" width="1.40" height="5.80" fill="#444" />
<rect x="335.10" y="1030.00" width="1.40" height="5.80" fill="#444" />
<rect x="337.26" y="1013.40" width="5.90" height="3.60" fill="#000" />
<rect x="337.26" y="1017.00" width="5.90" height="4.00" fill="#fff" />
<rect x="337.26" y="1029.80" width="5.90" height="5.70" fill="#fff" />
<rect x="337.26" y="1035.50" width="5.90" height="1.80" fill="#000" />
<rect x="343.86" y="1015.00" width="1.40" height="5.80" fill="#444" />
<rect x="343.86" y="1030.00" width="1.40" height="5.80" fill="#444" />
<rect x="346.02" y="1013.40" width="5.90" height="3.60" fill="#000" />
<rect x="346.02" y="1017.00" width="5.90" height="4.00" fill="#fff" />
<rect x="346.02" y="1029.80" width="5.90" height="5.70" fill="#fff" />
<rect x="346.02" y="1035.50" width="5.90" height="1.80" fill="#000" />
<rect x="352.62" y="1015.00" width="1.40" height="5.80" fill="#444" />
<rect x="352.62" y="1030.00" width="1.40" height="5.80" fill="#444" />
<rect x="354.78" y="1013.40" width="5.90" height="3.60" fill="#000" />
<rect x="354.78" y="1017.00" width="5.90" height="4.00" fill="#fff" />
<rect x="354.78" y="1029.80" width="5.90" height="5.70" fill="#fff" />
<rect x="354.78" y="1035.50" width="5.90" height="1.80" fill="#000" />
<rect x="361.38" y="1015.00" width="1.40" height="5.80" fill="#444" />
<rect x="361.38" y="1030.00" width="1.40" height="5.80" fill="#444" />
<rect x="363.54" y="1013.40" width="5.90" height="3.60" fill="#000" />
<rect x="363.54" y="1017.00" width="5.90" height="4.00" fill="#fff" />
<rect x="363.54" y="1029.80" width="5.90" height="5.70" fill="#fff" />
<rect x="363.54" y="1035.50" width="5.90" height="1.80" fill="#000" />
<rect x="370.14" y="1015.00" width="1.40" height="5.80" fill="#444" />
<rect x="370.14" y="1030.00" width="1.40" height="5.80" fill="#444" />
<rect x="372.30" y="1013.40" width="5.90" height="3.60" fill="#000" />
<rect x="372.30" y="1017.00" width="5.90" height="4.00" fill="#fff" />
<rect x="372.30" y="1029.80" width="5.90" height="5.70" fill="#fff" />
<rect x="372.30" y="1035.50" width="5.90" height="1.80" fill="#000" />
<rect x="410.00" y="1020.80" width="154.30" height="9.20" fill="#fff" />
<rect x="410.00" y="1025.20" width="154.30" height="1.70" fill="#000" />
<rect x="411.10" y="1013.40" width="5.90" height="3.60" fill="#000" />
<rect x="411.10" y="1017.00" width="5.90" height="4.00" fill="#fff" />
<rect x="411.10" y="1029.80" width="5.90" height="5.70" fill="#fff" />
<rect x="411.10" y="1035.50" width="5.90" height="1.80" fill="#000" />
<rect x="417.70" y="1015.00" width="1.40" height="5.80" fill="#444" />
<rect x="417.70" y="1030.00" width="1.40" height="5.80" fill="#444" />
<rect x="419.75" y="1013.40" width="5.90" height="3.60" fill="#000" />
<rect x="419.75" y="1017.00" width="5.90" height="4.00" fill="#fff" />
<rect x="419.75" y="1029.80" width="5.90" height="5.70" fill="#fff" />
<rect x="419.75" y="1035.50" width="5.90" height="1.80" fill="#000" />
<rect x="426.35" y="1015.00" width="1.40" height="5.80" fill="#444" />
<rect x="426.35" y="1030.00" width="1.40" height="5.80" fill="#444" />
<rect x="428.40" y="1013.40" width="5.90" height="3.60" fill="#000" />
<rect x="428.40" y="1017.00" width="5.90" height="4.00" fill="#fff" />
<rect x="428.40" y="1029.80" width="5.90" height="5.70" fill="#fff" />
<rect x="428.40" y="1035.50" width="5.90" height="1.80" fill="#000" />
<rect x="435.00" y="1015.00" width="1.40" height="5.80" fill="#444" />
<rect x="435.00" y="1030.00" width="1.40" height="5.80" fill="#444" />
<rect x="437.05" y="1013.40" width="5.90" height="3.60" fill="#000" />
<rect x="437.05" y="1017.00" width="5.90" height="4.00" fill="#fff" />
<rect x="437.05" y="1029.80" width="5.90" height="5.70" fill="#fff" />
<rect x="437.05" y="1035.50" width="5.90" height="1.80" fill="#000" />
<rect x="443.65" y="1015.00" width="1.40" height="5.80" fill="#444" />
<rect x="443.65" y="1030.00" width="1.40" height="5.80" fill="#444" />
<rect x="445.70" y="1013.40" width="5.90" height="3.60" fill="#000" />
<rect x="445.70" y="1017.00" width="5.90" height="4.00" fill="#fff" />
<rect x="445.70" y="1029.80" width="5.90" height="5.70" fill="#fff" />
<rect x="445.70" y="1035.50" width="5.90" height="1.80" fill="#000" />
<rect x="452.30" y="1015.00" width="1.40" height="5.80" fill="#444" />
<rect x="452.30" y="1030.00" width="1.40" height="5.80" fill="#444" />
<rect x="454.35" y="1013.40" width="5.90" height="3.60" fill="#000" />
<rect x="454.35" y="1017.00" width="5.90" height="4.00" fill="#fff" />
<rect x="454.35" y="1029.80" width="5.90" height="5.70" fill="#fff" />
<rect x="454.35" y="1035.50" width="5.90" height="1.80" fill="#000" />
<rect x="460.95" y="1015.00" width="1.40" height="5.80" fill="#444" />
<rect x="460.95" y="1030.00" width="1.40" height="5.80" fill="#444" />
<rect x="463.00" y="1013.40" width="5.90" height="3.60" fill="#000" />
<rect x="463.00" y="1017.00" width="5.90" height="4.00" fill="#fff" />
<rect x="463.00" y="1029.80" width="5.90" height="5.70" fill="#fff" />
<rect x="463.00" y="1035.50" width="5.90" height="1.80" fill="#000" />
<rect x="469.60" y="1015.00" width="1.40" height="5.80" fill="#444" />
<rect x="469.60" y="1030.00" width="1.40" height="5.80" fill="#444" />
<rect x="471.65" y="1013.40" width="5.90" height="3.60" fill="#000" />
<rect x="471.65" y="1017.00" width="5.90" height="4.00" fill="#fff" />
<rect x="471.65" y="1029.80" width="5.90" height="5.70" fill="#fff" />
<rect x="471.65" y="1035.50" width="5.90" height="1.80" fill="#000" />
<rect x="478.25" y="1015.00" width="1.40" height="5.80" fill="#444" />
<rect x="478.25" y="1030.00" width="1.40" height="5.80" fill="#444" />
<rect x="480.30" y="1013.40" width="5.90" height="3.60" fill="#000" />
<rect x="480.30" y="1017.00" width="5.90" height="4.00" fill="#fff" />
<rect x="480.30" y="1029.80" width="5.90" height="5.70" fill="#fff" />
<rect x="480.30" y="1035.50" width="5.90" height="1.80" fill="#000" />
<rect x="486.90" y="1015.00" width="1.40" height="5.80" fill="#444" />
<rect x="486.90" y="1030.00" width="1.40" height="5.80" fill="#444" />
<rect x="488.95" y="1013.40" width="5.90" height="3.60" fill="#000" />
<rect x="488.95" y="1017.00" width="5.90" height="4.00" fill="#fff" />
<rect x="488.95" y="1029.80" width="5.90" height="5.70" fill="#fff" />
<rect x="488.95" y="1035.50" width="5.90" height="1.80" fill="#000" />
<rect x="495.55" y="1015.00" width="1.40" height="5.80" fill="#444" />
<rect x="495.55" y="1030.00" width="1.40" height="5.80" fill="#444" />
<rect x="497.60" y="1013.40" width="5.90" height="3.60" fill="#000" />
<rect x="497.60" y="1017.00" width="5.90" height="4.00" fill="#fff" />
<rect x="497.60" y="1029.80" width="5.90" height="5.70" fill="#fff" />
<rect x="497.60" y="1035.50" width="5.90" height="1.80" fill="#000" />
<rect x="504.20" y="1015.00" width="1.40" height="5.80" fill="#444" />
<rect x="504.20" y="1030.00" width="1.40" height="5.80" fill="#444" />
<rect x="506.25" y="1013.40" width="5.90" height="3.60" fill="#000" />
<rect x="506.25" y="1017.00" width="5.90" height="4.00" fill="#fff" />
<rect x="506.25" y="1029.80" width="5.90" height="5.70" fill="#fff" />
<rect x="506.25" y="1035.50" width="5.90" height="1.80" fill="#000" />
<rect x="512.85" y="1015.00" width="1.40" height="5.80" fill="#444" />
<rect x="512.85" y="1030.00" width="1.40" height="5.80" fill="#444" />
<rect x="514.90" y="1013.40" width="5.90" height="3.60" fill="#000" />
<rect x="514.90" y="1017.00" width="5.90" height="4.00" fill="#fff" />
<rect x="514.90" y="1029.80" width="5.90" height="5.70" fill="#fff" />
<rect x="514.90" y="1035.50" width="5.90" height="1.80" fill="#000" />
<rect x="521.50" y="1015.00" width="1.40" height="5.80" fill="#444" />
<rect x="521.50" y="1030.00" width="1.40" height="5.80" fill="#444" />
<rect x="523.55" y="1013.40" width="5.90" height="3.60" fill="#000" />
<rect x="523.55" y="1017.00" width="5.90" height="4.00" fill="#fff" />
<rect x="523.55" y="1029.80" width="5.90" height="5.70" fill="#fff" />
<rect x="523.55" y="1035.50" width="5.90" height="1.80" fill="#000" />
<rect x="530.15" y="1015.00" width="1.40" height="5.80" fill="#444" />
<rect x="530.15" y="1030.00" width="1.40" height="5.80" fill="#444" />
<rect x="532.20" y="1013.40" width="5.90" height="3.60" fill="#000" />
<rect x="532.20" y="1017.00" width="5.90" height="4.00" fill="#fff" />
<rect x="532.20" y="1029.80" width="5.90" height="5.70" fill="#fff" />
<rect x="532.20" y="1035.50" width="5.90" height="1.80" fill="#000" />
<rect x="538.80" y="1015.00" width="1.40" height="5.80" fill="#444" />
<rect x="538.80" y="1030.00" width="1.40" height="5.80" fill="#444" />
<rect x="540.85" y="1013.40" width="5.90" height="3.60" fill="#000" />
<rect x="540.85" y="1017.00" width="5.90" height="4.00" fill="#fff" />
<rect x="540.85" y="1029.80" width="5.90" height="5.70" fill="#fff" />
<rect x="540.85" y="1035.50" width="5.90" height="1.80" fill="#000" />
<rect x="547.45" y="1015.00" width="1.40" height="5.80" fill="#444" />
<rect x="547.45" y="1030.00" width="1.40" height="5.80" fill="#444" />
<rect x="549.50" y="1013.40" width="5.90" height="3.60" fill="#000" />
<rect x="549.50" y="1017.00" width="5.90" height="4.00" fill="#fff" />
<rect x="549.50" y="1029.80" width="5.90" height="5.70" fill="#fff" />
<rect x="549.50" y="1035.50" width="5.90" height="1.80" fill="#000" />
<rect x="556.10" y="1015.00" width="1.40" height="5.80" fill="#444" />
<rect x="556.10" y="1030.00" width="1.40" height="5.80" fill="#444" />
<rect x="558.15" y="1013.40" width="5.90" height="3.60" fill="#000" />
<rect x="558.15" y="1017.00" width="5.90" height="4.00" fill="#fff" />
<rect x="558.15" y="1029.80" width="5.90" height="5.70" fill="#fff" />
<rect x="558.15" y="1035.50" width="5.90" height="1.80" fill="#000" />
<rect x="381.70" y="1013.00" width="26.60" height="25.00" fill="#000" />
<path d="M382 1017.5 H389 V1032.5 H382" stroke="#666" stroke-width="2" fill="none"/>
<path d="M408 1017.5 H400.5 V1032.5 H408" stroke="#666" stroke-width="2" fill="none"/>
<text x="96.50" y="912.20" font-size="6.5" fill="#000" text-anchor="start" font-family="'Liberation Sans', sans-serif" textLength="9.5" lengthAdjust="spacingAndGlyphs" stroke="#000" stroke-width="0.22">J40</text>
<text x="96.50" y="939.50" font-size="6.5" fill="#000" text-anchor="start" font-family="'Liberation Sans', sans-serif" textLength="9.5" lengthAdjust="spacingAndGlyphs" stroke="#000" stroke-width="0.22">J12</text>
<text x="96.50" y="1007.50" font-size="6.5" fill="#000" text-anchor="start" font-family="'Liberation Sans', sans-serif" textLength="9" lengthAdjust="spacingAndGlyphs" stroke="#000" stroke-width="0.22">J11</text>
<rect x="459.20" y="584.00" width="24.30" height="24.00" fill="#e4e4e4" />
<rect x="460.80" y="583.50" width="20.20" height="25.00" fill="#999" />
<rect x="463.80" y="583.00" width="2.20" height="26.50" fill="#fff" />
<rect x="476.40" y="583.00" width="2.20" height="26.50" fill="#fff" />
<rect x="466.00" y="583.00" width="10.40" height="27.00" fill="#666" />
<rect x="464.00" y="605.50" width="14.40" height="3.00" fill="#ddd" />
<path d="M463.5 609.5 H478.9" stroke="#222" stroke-width="1"/>
<path d="M465 583 H477.4" stroke="#444" stroke-width="0.6"/>
<rect x="453.60" y="617.00" width="37.40" height="42.60" fill="#e4e4e4" />
<rect x="456.20" y="616.50" width="31.60" height="43.60" fill="#999" />
<rect x="459.30" y="616.00" width="2.20" height="45.10" fill="#fff" />
<rect x="482.60" y="616.00" width="2.20" height="45.10" fill="#fff" />
<rect x="461.50" y="616.00" width="21.10" height="45.60" fill="#4d4d4d" />
<path d="M459.0 616 H485.1" stroke="#000" stroke-width="1"/>
<path d="M459.0 661.6 H485.1" stroke="#000" stroke-width="1"/>
<path d="M469 660 A3 3 0 0 1 475 660 Z" fill="none" stroke="#fff" stroke-width="0.7"/>
<rect x="479.00" y="656.50" width="1.50" height="1.50" fill="#fff" />
<rect x="450.00" y="666.50" width="24.80" height="24.20" fill="#e4e4e4" />
<rect x="453.00" y="666.00" width="18.80" height="25.20" fill="#999" />
<rect x="456.00" y="665.50" width="2.20" height="26.70" fill="#fff" />
<rect x="467.30" y="665.50" width="2.20" height="26.70" fill="#fff" />
<rect x="458.20" y="665.50" width="9.10" height="27.20" fill="#666" />
<rect x="456.20" y="688.20" width="13.10" height="3.00" fill="#ddd" />
<path d="M455.7 692.2 H469.8" stroke="#222" stroke-width="1"/>
<path d="M457.2 665.5 H468.3" stroke="#444" stroke-width="0.6"/>
<rect x="481.30" y="666.50" width="24.30" height="24.20" fill="#e4e4e4" />
<rect x="484.20" y="666.00" width="19.40" height="25.20" fill="#999" />
<rect x="487.20" y="665.50" width="2.20" height="26.70" fill="#fff" />
<rect x="499.00" y="665.50" width="2.20" height="26.70" fill="#fff" />
<rect x="489.40" y="665.50" width="9.60" height="27.20" fill="#666" />
<rect x="487.40" y="688.20" width="13.60" height="3.00" fill="#ddd" />
<path d="M486.9 692.2 H501.5" stroke="#222" stroke-width="1"/>
<path d="M488.4 665.5 H500" stroke="#444" stroke-width="0.6"/>
<rect x="550.50" y="979.50" width="24.50" height="24.50" fill="#e4e4e4" />
<rect x="553.30" y="979.00" width="18.70" height="25.50" fill="#999" />
<rect x="556.20" y="978.50" width="2.20" height="27.00" fill="#fff" />
<rect x="567.80" y="978.50" width="2.20" height="27.00" fill="#fff" />
<rect x="558.40" y="978.50" width="9.40" height="27.50" fill="#666" />
<rect x="556.40" y="980.00" width="13.40" height="3.00" fill="#ddd" />
<path d="M555.9 979.0 H570.3" stroke="#222" stroke-width="1"/>
<path d="M557.4 1006 H568.8" stroke="#444" stroke-width="0.6"/>
<rect x="425.00" y="580.70" width="25.80" height="20.10" fill="#d4d4d4" />
<path d="M429 588.1370000000001 H447.8" stroke="#666" stroke-width="1"/>
<circle cx="433.77" cy="588.14" r="3.3" fill="#aaa" stroke="#777" stroke-width="0.7"/>
<circle cx="442.03" cy="588.14" r="3.3" fill="#aaa" stroke="#777" stroke-width="0.7"/>
<text x="414.00" y="600.30" font-size="5.5" fill="#000" text-anchor="start" font-family="'Liberation Sans', sans-serif" textLength="10" lengthAdjust="spacingAndGlyphs" stroke="#000" stroke-width="0.22">FAN</text>
<text x="432.70" y="608.50" font-size="6" fill="#000" text-anchor="start" font-family="'Liberation Sans', sans-serif" textLength="9" lengthAdjust="spacingAndGlyphs" stroke="#000" stroke-width="0.22">J48</text>
<rect x="172.00" y="659.00" width="26.60" height="20.00" fill="#d4d4d4" />
<path d="M176 666.4 H195.6" stroke="#666" stroke-width="1"/>
<circle cx="181.04" cy="666.40" r="3.3" fill="#aaa" stroke="#777" stroke-width="0.7"/>
<circle cx="189.56" cy="666.40" r="3.3" fill="#aaa" stroke="#777" stroke-width="0.7"/>
<text x="201.50" y="664.00" font-size="6" fill="#000" text-anchor="start" font-family="'Liberation Sans', sans-serif" textLength="9" lengthAdjust="spacingAndGlyphs" stroke="#000" stroke-width="0.22">J47</text>
<text x="201.50" y="677.50" font-size="6" fill="#000" text-anchor="start" font-family="'Liberation Sans', sans-serif" textLength="10" lengthAdjust="spacingAndGlyphs" stroke="#000" stroke-width="0.22">FAN</text>
<rect x="491.00" y="591.00" width="9.00" height="17.70" fill="#333" />
<rect x="494.00" y="593.92" width="3.00" height="3.00" fill="#fff" />
<rect x="494.00" y="602.78" width="3.00" height="3.00" fill="#fff" />
<path d="M491 599.85 H500" stroke="#222" stroke-width="0.6"/>
<text x="491.70" y="589.20" font-size="5.5" fill="#000" text-anchor="start" font-family="'Liberation Sans', sans-serif" textLength="8" lengthAdjust="spacingAndGlyphs" stroke="#000" stroke-width="0.22">J42</text>
<rect x="501.00" y="574.00" width="26.70" height="42.80" fill="#333" />
<rect x="503.95" y="576.78" width="3.00" height="3.00" fill="#fff" />
<rect x="503.95" y="585.34" width="3.00" height="3.00" fill="#fff" />
<rect x="503.95" y="593.90" width="3.00" height="3.00" fill="#fff" />
<rect x="503.95" y="602.46" width="3.00" height="3.00" fill="#fff" />
<rect x="503.95" y="611.02" width="3.00" height="3.00" fill="#fff" />
<rect x="512.85" y="576.78" width="3.00" height="3.00" fill="#fff" />
<rect x="512.85" y="585.34" width="3.00" height="3.00" fill="#fff" />
<rect x="512.85" y="593.90" width="3.00" height="3.00" fill="#fff" />
<rect x="512.85" y="602.46" width="3.00" height="3.00" fill="#fff" />
<rect x="512.85" y="611.02" width="3.00" height="3.00" fill="#fff" />
<rect x="521.75" y="576.78" width="3.00" height="3.00" fill="#fff" />
<rect x="521.75" y="585.34" width="3.00" height="3.00" fill="#fff" />
<rect x="521.75" y="593.90" width="3.00" height="3.00" fill="#fff" />
<rect x="521.75" y="602.46" width="3.00" height="3.00" fill="#fff" />
<rect x="521.75" y="611.02" width="3.00" height="3.00" fill="#fff" />
<path d="M509.90 574 V616.8" stroke="#222" stroke-width="0.6"/>
<path d="M518.80 574 V616.8" stroke="#222" stroke-width="0.6"/>
<path d="M501 582.56 H527.7" stroke="#222" stroke-width="0.6"/>
<path d="M501 591.12 H527.7" stroke="#222" stroke-width="0.6"/>
<path d="M501 599.68 H527.7" stroke="#222" stroke-width="0.6"/>
<path d="M501 608.24 H527.7" stroke="#222" stroke-width="0.6"/>
<text x="529.70" y="580.50" font-size="7" fill="#000" text-anchor="start" font-family="'Liberation Sans', sans-serif" textLength="8.5" lengthAdjust="spacingAndGlyphs" stroke="#000" stroke-width="0.22">7,8</text>
<text x="529.70" y="588.80" font-size="7" fill="#000" text-anchor="start" font-family="'Liberation Sans', sans-serif" textLength="8.5" lengthAdjust="spacingAndGlyphs" stroke="#000" stroke-width="0.22">5,6</text>
<text x="529.70" y="597.10" font-size="7" fill="#000" text-anchor="start" font-family="'Liberation Sans', sans-serif" textLength="8.5" lengthAdjust="spacingAndGlyphs" stroke="#000" stroke-width="0.22">3,4</text>
<text x="529.70" y="605.40" font-size="7" fill="#000" text-anchor="start" font-family="'Liberation Sans', sans-serif" textLength="8.5" lengthAdjust="spacingAndGlyphs" stroke="#000" stroke-width="0.22">1,2</text>
<text x="541.50" y="594.50" font-size="6.5" fill="#000" text-anchor="start" font-family="'Liberation Sans', sans-serif" textLength="13" lengthAdjust="spacingAndGlyphs" stroke="#000" stroke-width="0.22">JP97</text>
<rect x="527.70" y="617.50" width="26.10" height="8.50" fill="#333" />
<rect x="530.55" y="620.25" width="3.00" height="3.00" fill="#fff" />
<rect x="539.25" y="620.25" width="3.00" height="3.00" fill="#fff" />
<rect x="547.95" y="620.25" width="3.00" height="3.00" fill="#fff" />
<path d="M536.40 617.5 V626" stroke="#222" stroke-width="0.6"/>
<path d="M545.10 617.5 V626" stroke="#222" stroke-width="0.6"/>
<text x="555.50" y="623.70" font-size="7" fill="#000" text-anchor="start" font-family="'Liberation Sans', sans-serif" textLength="11" lengthAdjust="spacingAndGlyphs" stroke="#000" stroke-width="0.22">JP9</text>
<rect x="529.00" y="628.50" width="3.50" height="0.80" fill="#555" />
<circle cx="564.5" cy="670" r="34.5" fill="#e2e2e2" stroke="#000" stroke-width="9"/>
<rect x="508.70" y="659.70" width="28.30" height="20.90" fill="#000" />
<rect x="515.00" y="665.00" width="29.00" height="10.30" fill="#b0b0b0" />
<rect x="544.00" y="665.00" width="36.00" height="10.30" fill="#dedede" />
<rect x="570.00" y="665.00" width="10.00" height="10.30" fill="#aaa" />
<rect x="571.50" y="666.00" width="3.50" height="8.50" fill="#d8d8d8" />
<rect x="544" y="665" width="36" height="10.3" fill="none" stroke="#999" stroke-width="0.5"/>
<path d="M553 670 H558 M555.5 667.5 V672.5" stroke="#222" stroke-width="0.7"/>
<rect x="465.00" y="726.80" width="94.30" height="93.70" fill="#808080" />
<polygon points="481.2,733.3 542.9,733.3 553.4,743.8 553.4,804.5 542.9,815 481.2,815 470.7,804.5 470.7,743.8" fill="#5c5c5c"/>
<polygon points="483.1,736.7 541,736.7 550,745.7 550,802.6 541,811.6 483.1,811.6 474.1,802.6 474.1,745.7" fill="#9a9a9a"/>
<polygon points="465,726.8 473.3,726.8 478.4,735.3 473.6,739.6 465,731" fill="#fff"/>
<text x="0.00" y="0.00" font-size="19.5" fill="#ececec" text-anchor="start" font-family="'Liberation Sans', sans-serif" font-weight="bold" stroke="#ececec" stroke-width="0.5" transform="translate(528,757.3) rotate(90)" textLength="36.5" lengthAdjust="spacingAndGlyphs">intel</text>
<text x="0.00" y="0.00" font-size="5.2" fill="#e8e8e8" text-anchor="start" font-family="'Liberation Mono', sans-serif" transform="translate(524.0,759) rotate(90)" textLength="16" lengthAdjust="spacingAndGlyphs" stroke="#e8e8e8" stroke-width="0.22">PCIset</text>
<text x="0.00" y="0.00" font-size="5.2" fill="#e8e8e8" text-anchor="start" font-family="'Liberation Mono', sans-serif" transform="translate(518.2,759) rotate(90)" textLength="28" lengthAdjust="spacingAndGlyphs" stroke="#e8e8e8" stroke-width="0.22">FW82371AB</text>
<text x="0.00" y="0.00" font-size="5.2" fill="#c4c4c4" text-anchor="start" font-family="'Liberation Mono', sans-serif" transform="translate(512.4,759) rotate(90)" textLength="25" lengthAdjust="spacingAndGlyphs" stroke="#c4c4c4" stroke-width="0.22">L7074116</text>
<text x="0.00" y="0.00" font-size="5.2" fill="#e8e8e8" text-anchor="start" font-family="'Liberation Mono', sans-serif" transform="translate(506.6,759) rotate(90)" textLength="15" lengthAdjust="spacingAndGlyphs" stroke="#e8e8e8" stroke-width="0.22">SL23P</text>
<text x="0.00" y="0.00" font-size="5.2" fill="#e8e8e8" text-anchor="start" font-family="'Liberation Mono', sans-serif" transform="translate(500.8,759) rotate(90)" textLength="15" lengthAdjust="spacingAndGlyphs" stroke="#e8e8e8" stroke-width="0.22">INTEL</text>
<text x="0.00" y="0.00" font-size="7" fill="#e8e8e8" text-anchor="start" font-family="'Liberation Mono', sans-serif" transform="translate(499.5,778) rotate(90)" textLength="17" lengthAdjust="spacingAndGlyphs" stroke="#e8e8e8" stroke-width="0.22">&#9412;&#169;96</text>
<rect x="498.30" y="751.00" width="11.10" height="4.80" fill="#e8e8e8" />
<rect x="511.40" y="751.00" width="4.10" height="3.50" fill="#e8e8e8" />
<text x="0.00" y="0.00" font-size="5.2" fill="#e8e8e8" text-anchor="start" font-family="'Liberation Mono', sans-serif" transform="translate(485.7,752.4) rotate(90)" textLength="32" lengthAdjust="spacingAndGlyphs" stroke="#e8e8e8" stroke-width="0.22">A7183146TC</text>
<text x="0.00" y="0.00" font-size="5.2" fill="#e8e8e8" text-anchor="start" font-family="'Liberation Mono', sans-serif" transform="translate(479.8,752.4) rotate(90)" textLength="38" lengthAdjust="spacingAndGlyphs" stroke="#e8e8e8" stroke-width="0.22">B 732 KOREA</text>
<circle cx="486" cy="747.3" r="1.2" fill="#ddd" stroke="#555" stroke-width="0.5"/>
<polygon points="616,735 608.8,746 608.8,971 616,981" fill="#cdcdcd"/>
<rect x="589.00" y="749.80" width="9.00" height="17.20" fill="#333" />
<rect x="592.00" y="752.60" width="3.00" height="3.00" fill="#fff" />
<rect x="592.00" y="761.20" width="3.00" height="3.00" fill="#fff" />
<path d="M589 758.40 H598" stroke="#222" stroke-width="0.6"/>
<rect x="589.00" y="774.70" width="9.00" height="17.70" fill="#333" />
<rect x="592.00" y="777.62" width="3.00" height="3.00" fill="#fff" />
<rect x="592.00" y="786.48" width="3.00" height="3.00" fill="#fff" />
<path d="M589 783.55 H598" stroke="#222" stroke-width="0.6"/>
<rect x="589.00" y="800.70" width="9.00" height="26.00" fill="#333" />
<rect x="592.00" y="803.53" width="3.00" height="3.00" fill="#fff" />
<rect x="592.00" y="812.20" width="3.00" height="3.00" fill="#fff" />
<rect x="592.00" y="820.87" width="3.00" height="3.00" fill="#fff" />
<path d="M589 809.37 H598" stroke="#222" stroke-width="0.6"/>
<path d="M589 818.03 H598" stroke="#222" stroke-width="0.6"/>
<rect x="589.00" y="834.90" width="9.00" height="60.80" fill="#333" />
<rect x="592.00" y="837.74" width="3.00" height="3.00" fill="#fff" />
<rect x="592.00" y="846.43" width="3.00" height="3.00" fill="#fff" />
<rect x="592.00" y="855.11" width="3.00" height="3.00" fill="#fff" />
<rect x="592.00" y="863.80" width="3.00" height="3.00" fill="#fff" />
<rect x="592.00" y="872.49" width="3.00" height="3.00" fill="#fff" />
<rect x="592.00" y="881.17" width="3.00" height="3.00" fill="#fff" />
<rect x="592.00" y="889.86" width="3.00" height="3.00" fill="#fff" />
<path d="M589 843.59 H598" stroke="#222" stroke-width="0.6"/>
<path d="M589 852.27 H598" stroke="#222" stroke-width="0.6"/>
<path d="M589 860.96 H598" stroke="#222" stroke-width="0.6"/>
<path d="M589 869.64 H598" stroke="#222" stroke-width="0.6"/>
<path d="M589 878.33 H598" stroke="#222" stroke-width="0.6"/>
<path d="M589 887.01 H598" stroke="#222" stroke-width="0.6"/>
<rect x="589.00" y="903.30" width="9.00" height="43.70" fill="#333" />
<rect x="592.00" y="906.17" width="3.00" height="3.00" fill="#fff" />
<rect x="592.00" y="914.91" width="3.00" height="3.00" fill="#fff" />
<rect x="592.00" y="923.65" width="3.00" height="3.00" fill="#fff" />
<rect x="592.00" y="932.39" width="3.00" height="3.00" fill="#fff" />
<rect x="592.00" y="941.13" width="3.00" height="3.00" fill="#fff" />
<path d="M589 912.04 H598" stroke="#222" stroke-width="0.6"/>
<path d="M589 920.78 H598" stroke="#222" stroke-width="0.6"/>
<path d="M589 929.52 H598" stroke="#222" stroke-width="0.6"/>
<path d="M589 938.26 H598" stroke="#222" stroke-width="0.6"/>
<rect x="589.00" y="955.00" width="9.00" height="17.80" fill="#333" />
<rect x="592.00" y="957.95" width="3.00" height="3.00" fill="#fff" />
<rect x="592.00" y="966.85" width="3.00" height="3.00" fill="#fff" />
<path d="M589 963.90 H598" stroke="#222" stroke-width="0.6"/>
<text x="0.00" y="0.00" font-size="7.5" fill="#000" text-anchor="start" font-family="'Liberation Sans', sans-serif" transform="translate(587,766) rotate(-90)" textLength="13" lengthAdjust="spacingAndGlyphs" stroke="#000" stroke-width="0.22">J42</text>
<text x="0.00" y="0.00" font-size="7.5" fill="#000" text-anchor="start" font-family="'Liberation Sans', sans-serif" transform="translate(606.5,767) rotate(-90)" textLength="14" lengthAdjust="spacingAndGlyphs" stroke="#000" stroke-width="0.22">EPM</text>
<text x="0.00" y="0.00" font-size="7.5" fill="#000" text-anchor="start" font-family="'Liberation Sans', sans-serif" transform="translate(587,791.5) rotate(-90)" textLength="13" lengthAdjust="spacingAndGlyphs" stroke="#000" stroke-width="0.22">J48</text>
<text x="0.00" y="0.00" font-size="7.5" fill="#000" text-anchor="start" font-family="'Liberation Sans', sans-serif" transform="translate(606.5,792.5) rotate(-90)" textLength="18" lengthAdjust="spacingAndGlyphs" stroke="#000" stroke-width="0.22">GLED</text>
<text x="0.00" y="0.00" font-size="7.5" fill="#000" text-anchor="start" font-family="'Liberation Sans', sans-serif" transform="translate(606.5,827) rotate(-90)" textLength="26" lengthAdjust="spacingAndGlyphs" stroke="#000" stroke-width="0.22">PW NO</text>
<text x="0.00" y="0.00" font-size="7.5" fill="#000" text-anchor="start" font-family="'Liberation Sans', sans-serif" transform="translate(606.5,850.5) rotate(-90)" textLength="15" lengthAdjust="spacingAndGlyphs" stroke="#000" stroke-width="0.22">HDD</text>
<text x="0.00" y="0.00" font-size="5" fill="#000" text-anchor="start" font-family="'Liberation Sans', sans-serif" transform="translate(606,860) rotate(-90)" textLength="6" lengthAdjust="spacingAndGlyphs" stroke="#000" stroke-width="0.22">S3</text>
<text x="0.00" y="0.00" font-size="7" fill="#000" text-anchor="start" font-family="'Liberation Sans', sans-serif" transform="translate(606.5,893.5) rotate(-90)" textLength="28" lengthAdjust="spacingAndGlyphs" stroke="#000" stroke-width="0.22">SPEAKER</text>
<text x="0.00" y="0.00" font-size="7" fill="#000" text-anchor="start" font-family="'Liberation Sans', sans-serif" transform="translate(606.5,926.5) rotate(-90)" textLength="29" lengthAdjust="spacingAndGlyphs" stroke="#000" stroke-width="0.22">KEYLOCK</text>
<text x="0.00" y="0.00" font-size="7" fill="#000" text-anchor="start" font-family="'Liberation Sans', sans-serif" transform="translate(606.5,957) rotate(-90)" textLength="27" lengthAdjust="spacingAndGlyphs" stroke="#000" stroke-width="0.22">PWR LED</text>
<text x="0.00" y="0.00" font-size="6" fill="#000" text-anchor="start" font-family="'Liberation Sans', sans-serif" transform="translate(606.5,970.5) rotate(-90)" textLength="12" lengthAdjust="spacingAndGlyphs" stroke="#000" stroke-width="0.22">RST</text>
<text x="0.00" y="0.00" font-size="5" fill="#000" text-anchor="start" font-family="'Liberation Sans', sans-serif" transform="translate(587.5,885) rotate(-90)" textLength="11" lengthAdjust="spacingAndGlyphs" stroke="#000" stroke-width="0.22">JP24</text>
<text x="0.00" y="0.00" font-size="4.5" fill="#000" text-anchor="start" font-family="'Liberation Sans', sans-serif" transform="translate(587.5,909) rotate(-90)" textLength="6" lengthAdjust="spacingAndGlyphs" stroke="#000" stroke-width="0.22">J37</text>
<text x="0.00" y="0.00" font-size="4.5" fill="#000" text-anchor="start" font-family="'Liberation Sans', sans-serif" transform="translate(587.5,954.5) rotate(-90)" textLength="6" lengthAdjust="spacingAndGlyphs" stroke="#000" stroke-width="0.22">J43</text>
<text x="591.00" y="832.50" font-size="5" fill="#000" text-anchor="start" font-family="'Liberation Sans', sans-serif" textLength="5" lengthAdjust="spacingAndGlyphs" stroke="#000" stroke-width="0.22">S1</text>
<rect x="583.50" y="821.50" width="3.50" height="0.70" fill="#333" />
<rect x="583.50" y="855.00" width="3.50" height="0.70" fill="#333" />
<rect x="583.50" y="890.50" width="3.50" height="0.70" fill="#333" />
<rect x="583.50" y="942.50" width="3.50" height="0.70" fill="#333" />
<rect x="350.80" y="791.00" width="30.20" height="20.20" fill="#333" />
<rect x="354.33" y="794.55" width="3.00" height="3.00" fill="#fff" />
<rect x="354.33" y="804.65" width="3.00" height="3.00" fill="#fff" />
<rect x="364.40" y="794.55" width="3.00" height="3.00" fill="#fff" />
<rect x="364.40" y="804.65" width="3.00" height="3.00" fill="#fff" />
<rect x="374.47" y="794.55" width="3.00" height="3.00" fill="#fff" />
<rect x="374.47" y="804.65" width="3.00" height="3.00" fill="#fff" />
<path d="M360.87 791 V811.2" stroke="#222" stroke-width="0.6"/>
<path d="M370.93 791 V811.2" stroke="#222" stroke-width="0.6"/>
<path d="M350.8 801.10 H381" stroke="#222" stroke-width="0.6"/>
<rect x="360.80" y="801.60" width="9.80" height="9.60" fill="#b0b0b0" />
<text x="345.50" y="810.00" font-size="10" fill="#999" text-anchor="start" font-family="'Liberation Sans', sans-serif" textLength="3.5" lengthAdjust="spacingAndGlyphs" stroke="#999" stroke-width="0.22">1</text>
<text x="388.80" y="806.50" font-size="11.5" fill="#000" text-anchor="start" font-family="'Liberation Sans', sans-serif" textLength="21.6" lengthAdjust="spacingAndGlyphs" stroke="#000" stroke-width="0.22">JP46</text>
<rect x="157.90" y="728.90" width="44.10" height="9.30" fill="#333" />
<rect x="160.81" y="732.05" width="3.00" height="3.00" fill="#fff" />
<rect x="169.63" y="732.05" width="3.00" height="3.00" fill="#fff" />
<rect x="178.45" y="732.05" width="3.00" height="3.00" fill="#fff" />
<rect x="187.27" y="732.05" width="3.00" height="3.00" fill="#fff" />
<rect x="196.09" y="732.05" width="3.00" height="3.00" fill="#fff" />
<path d="M166.72 728.9 V738.2" stroke="#222" stroke-width="0.6"/>
<path d="M175.54 728.9 V738.2" stroke="#222" stroke-width="0.6"/>
<path d="M184.36 728.9 V738.2" stroke="#222" stroke-width="0.6"/>
<path d="M193.18 728.9 V738.2" stroke="#222" stroke-width="0.6"/>
<rect x="194.00" y="729.50" width="7.50" height="8.10" fill="#333" />
<rect x="195.50" y="732.00" width="5.00" height="0.80" fill="#ccc" />
<rect x="195.50" y="734.50" width="5.00" height="0.80" fill="#ccc" />
<text x="148.00" y="737.00" font-size="6" fill="#000" text-anchor="start" font-family="'Liberation Sans', sans-serif" textLength="9.5" lengthAdjust="spacingAndGlyphs" stroke="#000" stroke-width="0.22">JP4</text>
<rect x="149.00" y="788.00" width="8.90" height="52.60" fill="#333" />
<rect x="151.95" y="790.88" width="3.00" height="3.00" fill="#fff" />
<rect x="151.95" y="799.65" width="3.00" height="3.00" fill="#fff" />
<rect x="151.95" y="808.42" width="3.00" height="3.00" fill="#fff" />
<rect x="151.95" y="817.18" width="3.00" height="3.00" fill="#fff" />
<rect x="151.95" y="825.95" width="3.00" height="3.00" fill="#fff" />
<rect x="151.95" y="834.72" width="3.00" height="3.00" fill="#fff" />
<path d="M149 796.77 H157.9" stroke="#222" stroke-width="0.6"/>
<path d="M149 805.53 H157.9" stroke="#222" stroke-width="0.6"/>
<path d="M149 814.30 H157.9" stroke="#222" stroke-width="0.6"/>
<path d="M149 823.07 H157.9" stroke="#222" stroke-width="0.6"/>
<path d="M149 831.83 H157.9" stroke="#222" stroke-width="0.6"/>
<rect x="150.50" y="834.00" width="6.00" height="5.00" fill="#222" />
<text x="150.00" y="785.50" font-size="5.5" fill="#000" text-anchor="start" font-family="'Liberation Sans', sans-serif" textLength="8" lengthAdjust="spacingAndGlyphs" stroke="#000" stroke-width="0.22">J17</text>
<text x="145.00" y="796.00" font-size="5" fill="#000" text-anchor="start" font-family="'Liberation Sans', sans-serif"  stroke="#000" stroke-width="0.22">1</text>
<text x="145.00" y="821.00" font-size="5" fill="#000" text-anchor="start" font-family="'Liberation Sans', sans-serif"  stroke="#000" stroke-width="0.22">1</text>
<rect x="144.00" y="533.00" width="15.50" height="28.00" fill="#d8d8d8" />
<rect x="146.50" y="535.00" width="9.50" height="24.50" fill="#999" />
<rect x="144.50" y="533.00" width="1.50" height="28.00" fill="#888" />
<rect x="144.50" y="559.50" width="13.50" height="1.50" fill="#888" />
<rect x="156.00" y="540.00" width="3.50" height="15.00" fill="#bbb" />
<rect x="151.00" y="540.00" width="3.00" height="3.00" fill="#eee" />
<rect x="151.00" y="546.00" width="3.00" height="3.00" fill="#eee" />
<rect x="151.00" y="552.00" width="3.00" height="3.00" fill="#eee" />
<text x="131.00" y="538.80" font-size="6" fill="#000" text-anchor="start" font-family="'Liberation Sans', sans-serif" textLength="9" lengthAdjust="spacingAndGlyphs" stroke="#000" stroke-width="0.22">J46</text>
<text x="143.80" y="568.60" font-size="6" fill="#000" text-anchor="start" font-family="'Liberation Sans', sans-serif" textLength="26" lengthAdjust="spacingAndGlyphs" stroke="#000" stroke-width="0.22">WOL-CON</text>
<text x="196.60" y="537.00" font-size="6" fill="#444" text-anchor="start" font-family="'Liberation Sans', sans-serif" textLength="5" lengthAdjust="spacingAndGlyphs" stroke="#444" stroke-width="0.22">J1</text>
<text x="210.00" y="537.00" font-size="6.5" fill="#000" text-anchor="start" font-family="'Liberation Sans', sans-serif" textLength="12.5" lengthAdjust="spacingAndGlyphs" stroke="#000" stroke-width="0.22">PIN1</text>
<rect x="87.00" y="542.50" width="41.00" height="53.50" fill="#dcdcdc" />
<rect x="90.00" y="542.50" width="35.00" height="53.50" fill="#999" />
<rect x="95.00" y="541.30" width="25.40" height="54.90" fill="#444" />
<path d="M95 596 V541.3 H120.4 V596" stroke="#000" stroke-width="0.8" fill="none"/>
<text x="0.00" y="0.00" font-size="12" fill="#e0e0e0" text-anchor="start" font-family="'Liberation Sans', sans-serif" font-weight="bold" transform="translate(111.5,591) rotate(-90)" textLength="20" lengthAdjust="spacingAndGlyphs">iTE</text>
<text x="0.00" y="0.00" font-size="4.5" fill="#e0e0e0" text-anchor="start" font-family="'Liberation Sans', sans-serif" transform="translate(106,568) rotate(-90)" textLength="17" lengthAdjust="spacingAndGlyphs" stroke="#e0e0e0" stroke-width="0.22">IT8687R</text>
<text x="0.00" y="0.00" font-size="4.5" fill="#e0e0e0" text-anchor="start" font-family="'Liberation Sans', sans-serif" transform="translate(111,568) rotate(-90)" textLength="17" lengthAdjust="spacingAndGlyphs" stroke="#e0e0e0" stroke-width="0.22">9808-A</text>
<circle cx="116.5" cy="592" r="1" fill="#888"/>
<rect x="85.30" y="604.00" width="43.70" height="84.60" fill="#ccc" />
<rect x="85.30" y="608.00" width="43.70" height="76.00" fill="#666" />
<rect x="75.20" y="613.40" width="62.80" height="65.10" fill="#ccc" />
<rect x="80.00" y="613.40" width="54.00" height="65.10" fill="#666" />
<rect x="84.40" y="612.00" width="45.30" height="67.60" fill="#000" />
<text x="0.00" y="0.00" font-size="16.5" fill="#f0f0f0" text-anchor="start" font-family="'Liberation Sans', sans-serif" font-weight="bold" stroke="#f0f0f0" stroke-width="0.5" transform="translate(106.8,626) rotate(90)" textLength="29" lengthAdjust="spacingAndGlyphs">iTE</text>
<circle cx="120.8" cy="629.4" r="3" fill="#eee"/>
<circle cx="91.6" cy="620.6" r="3" fill="#888"/>
<circle cx="122.3" cy="672.8" r="3.3" fill="#555"/>
<text x="0.00" y="0.00" font-size="5" fill="#eee" text-anchor="start" font-family="'Liberation Sans', sans-serif" transform="translate(101.5,626) rotate(90)" textLength="22" lengthAdjust="spacingAndGlyphs" stroke="#eee" stroke-width="0.22">IT8671F-A</text>
<text x="0.00" y="0.00" font-size="5" fill="#eee" text-anchor="start" font-family="'Liberation Sans', sans-serif" transform="translate(97.2,626) rotate(90)" textLength="20" lengthAdjust="spacingAndGlyphs" stroke="#eee" stroke-width="0.22">9747-BXS</text>
<text x="0.00" y="0.00" font-size="5" fill="#eee" text-anchor="start" font-family="'Liberation Sans', sans-serif" transform="translate(92.9,626) rotate(90)" textLength="16" lengthAdjust="spacingAndGlyphs" stroke="#eee" stroke-width="0.22">B7H007</text>
<text x="0.00" y="0.00" font-size="5" fill="#eee" text-anchor="start" font-family="'Liberation Sans', sans-serif" transform="translate(90,653) rotate(90)" textLength="14" lengthAdjust="spacingAndGlyphs" stroke="#eee" stroke-width="0.22">97-50</text>
<circle cx="90.5" cy="628" r="1.3" fill="none" stroke="#ccc" stroke-width="0.6"/>
<rect x="69.10" y="728.00" width="61.60" height="134.50" fill="#000" />
<rect x="74.40" y="724.90" width="51.80" height="140.70" fill="#555" />
<rect x="74.4" y="724.9" width="51.8" height="140.7" fill="none" stroke="#000" stroke-width="1.3"/>
<rect x="71.90" y="729.00" width="4.10" height="5.30" fill="#eee" />
<rect x="123.90" y="729.00" width="4.10" height="5.30" fill="#eee" />
<rect x="71.90" y="730.20" width="4.10" height="0.60" fill="#bbb" />
<rect x="71.90" y="732.20" width="4.10" height="0.60" fill="#bbb" />
<rect x="123.90" y="730.20" width="4.10" height="0.60" fill="#bbb" />
<rect x="123.90" y="732.20" width="4.10" height="0.60" fill="#bbb" />
<rect x="71.90" y="737.54" width="4.10" height="5.30" fill="#eee" />
<rect x="123.90" y="737.54" width="4.10" height="5.30" fill="#eee" />
<rect x="71.90" y="738.74" width="4.10" height="0.60" fill="#bbb" />
<rect x="71.90" y="740.74" width="4.10" height="0.60" fill="#bbb" />
<rect x="123.90" y="738.74" width="4.10" height="0.60" fill="#bbb" />
<rect x="123.90" y="740.74" width="4.10" height="0.60" fill="#bbb" />
<rect x="71.90" y="746.08" width="4.10" height="5.30" fill="#eee" />
<rect x="123.90" y="746.08" width="4.10" height="5.30" fill="#eee" />
<rect x="71.90" y="747.28" width="4.10" height="0.60" fill="#bbb" />
<rect x="71.90" y="749.28" width="4.10" height="0.60" fill="#bbb" />
<rect x="123.90" y="747.28" width="4.10" height="0.60" fill="#bbb" />
<rect x="123.90" y="749.28" width="4.10" height="0.60" fill="#bbb" />
<rect x="71.90" y="754.62" width="4.10" height="5.30" fill="#eee" />
<rect x="123.90" y="754.62" width="4.10" height="5.30" fill="#eee" />
<rect x="71.90" y="755.82" width="4.10" height="0.60" fill="#bbb" />
<rect x="71.90" y="757.82" width="4.10" height="0.60" fill="#bbb" />
<rect x="123.90" y="755.82" width="4.10" height="0.60" fill="#bbb" />
<rect x="123.90" y="757.82" width="4.10" height="0.60" fill="#bbb" />
<rect x="71.90" y="763.16" width="4.10" height="5.30" fill="#eee" />
<rect x="123.90" y="763.16" width="4.10" height="5.30" fill="#eee" />
<rect x="71.90" y="764.36" width="4.10" height="0.60" fill="#bbb" />
<rect x="71.90" y="766.36" width="4.10" height="0.60" fill="#bbb" />
<rect x="123.90" y="764.36" width="4.10" height="0.60" fill="#bbb" />
<rect x="123.90" y="766.36" width="4.10" height="0.60" fill="#bbb" />
<rect x="71.90" y="771.70" width="4.10" height="5.30" fill="#eee" />
<rect x="123.90" y="771.70" width="4.10" height="5.30" fill="#eee" />
<rect x="71.90" y="772.90" width="4.10" height="0.60" fill="#bbb" />
<rect x="71.90" y="774.90" width="4.10" height="0.60" fill="#bbb" />
<rect x="123.90" y="772.90" width="4.10" height="0.60" fill="#bbb" />
<rect x="123.90" y="774.90" width="4.10" height="0.60" fill="#bbb" />
<rect x="71.90" y="780.24" width="4.10" height="5.30" fill="#eee" />
<rect x="123.90" y="780.24" width="4.10" height="5.30" fill="#eee" />
<rect x="71.90" y="781.44" width="4.10" height="0.60" fill="#bbb" />
<rect x="71.90" y="783.44" width="4.10" height="0.60" fill="#bbb" />
<rect x="123.90" y="781.44" width="4.10" height="0.60" fill="#bbb" />
<rect x="123.90" y="783.44" width="4.10" height="0.60" fill="#bbb" />
<rect x="71.90" y="788.78" width="4.10" height="5.30" fill="#eee" />
<rect x="123.90" y="788.78" width="4.10" height="5.30" fill="#eee" />
<rect x="71.90" y="789.98" width="4.10" height="0.60" fill="#bbb" />
<rect x="71.90" y="791.98" width="4.10" height="0.60" fill="#bbb" />
<rect x="123.90" y="789.98" width="4.10" height="0.60" fill="#bbb" />
<rect x="123.90" y="791.98" width="4.10" height="0.60" fill="#bbb" />
<rect x="71.90" y="797.32" width="4.10" height="5.30" fill="#eee" />
<rect x="123.90" y="797.32" width="4.10" height="5.30" fill="#eee" />
<rect x="71.90" y="798.52" width="4.10" height="0.60" fill="#bbb" />
<rect x="71.90" y="800.52" width="4.10" height="0.60" fill="#bbb" />
<rect x="123.90" y="798.52" width="4.10" height="0.60" fill="#bbb" />
<rect x="123.90" y="800.52" width="4.10" height="0.60" fill="#bbb" />
<rect x="71.90" y="805.86" width="4.10" height="5.30" fill="#eee" />
<rect x="123.90" y="805.86" width="4.10" height="5.30" fill="#eee" />
<rect x="71.90" y="807.06" width="4.10" height="0.60" fill="#bbb" />
<rect x="71.90" y="809.06" width="4.10" height="0.60" fill="#bbb" />
<rect x="123.90" y="807.06" width="4.10" height="0.60" fill="#bbb" />
<rect x="123.90" y="809.06" width="4.10" height="0.60" fill="#bbb" />
<rect x="71.90" y="814.40" width="4.10" height="5.30" fill="#eee" />
<rect x="123.90" y="814.40" width="4.10" height="5.30" fill="#eee" />
<rect x="71.90" y="815.60" width="4.10" height="0.60" fill="#bbb" />
<rect x="71.90" y="817.60" width="4.10" height="0.60" fill="#bbb" />
<rect x="123.90" y="815.60" width="4.10" height="0.60" fill="#bbb" />
<rect x="123.90" y="817.60" width="4.10" height="0.60" fill="#bbb" />
<rect x="71.90" y="822.94" width="4.10" height="5.30" fill="#eee" />
<rect x="123.90" y="822.94" width="4.10" height="5.30" fill="#eee" />
<rect x="71.90" y="824.14" width="4.10" height="0.60" fill="#bbb" />
<rect x="71.90" y="826.14" width="4.10" height="0.60" fill="#bbb" />
<rect x="123.90" y="824.14" width="4.10" height="0.60" fill="#bbb" />
<rect x="123.90" y="826.14" width="4.10" height="0.60" fill="#bbb" />
<rect x="71.90" y="831.48" width="4.10" height="5.30" fill="#eee" />
<rect x="123.90" y="831.48" width="4.10" height="5.30" fill="#eee" />
<rect x="71.90" y="832.68" width="4.10" height="0.60" fill="#bbb" />
<rect x="71.90" y="834.68" width="4.10" height="0.60" fill="#bbb" />
<rect x="123.90" y="832.68" width="4.10" height="0.60" fill="#bbb" />
<rect x="123.90" y="834.68" width="4.10" height="0.60" fill="#bbb" />
<rect x="71.90" y="840.02" width="4.10" height="5.30" fill="#eee" />
<rect x="123.90" y="840.02" width="4.10" height="5.30" fill="#eee" />
<rect x="71.90" y="841.22" width="4.10" height="0.60" fill="#bbb" />
<rect x="71.90" y="843.22" width="4.10" height="0.60" fill="#bbb" />
<rect x="123.90" y="841.22" width="4.10" height="0.60" fill="#bbb" />
<rect x="123.90" y="843.22" width="4.10" height="0.60" fill="#bbb" />
<rect x="71.90" y="848.56" width="4.10" height="5.30" fill="#eee" />
<rect x="123.90" y="848.56" width="4.10" height="5.30" fill="#eee" />
<rect x="71.90" y="849.76" width="4.10" height="0.60" fill="#bbb" />
<rect x="71.90" y="851.76" width="4.10" height="0.60" fill="#bbb" />
<rect x="123.90" y="849.76" width="4.10" height="0.60" fill="#bbb" />
<rect x="123.90" y="851.76" width="4.10" height="0.60" fill="#bbb" />
<rect x="71.90" y="857.10" width="4.10" height="5.30" fill="#eee" />
<rect x="123.90" y="857.10" width="4.10" height="5.30" fill="#eee" />
<rect x="71.90" y="858.30" width="4.10" height="0.60" fill="#bbb" />
<rect x="71.90" y="860.30" width="4.10" height="0.60" fill="#bbb" />
<rect x="123.90" y="858.30" width="4.10" height="0.60" fill="#bbb" />
<rect x="123.90" y="860.30" width="4.10" height="0.60" fill="#bbb" />
<path d="M93.5 725 A8.7 9.8 0 0 0 110.9 725 Z" fill="#666" stroke="#000" stroke-width="3"/>
<circle cx="83.6" cy="736.3" r="4.3" fill="#000"/>
<rect x="80.5" y="755.3" width="38.1" height="78.3" rx="1.5" fill="#e2e2e2" stroke="#888" stroke-width="0.7"/>
<text x="0.00" y="0.00" font-size="14" fill="#000" text-anchor="start" font-family="'Liberation Sans', sans-serif" font-weight="bold" font-style="italic" stroke="#000" stroke-width="0.9" transform="translate(104.1,775) rotate(90)" textLength="47" lengthAdjust="spacingAndGlyphs">AWARD</text>
<circle cx="111" cy="766.7" r="4.3" fill="#000"/>
<polygon points="91.2,760.6 98,763.7 105.6,763.4 104.9,772 100.3,768.2 92.7,771.6 95,766" fill="#000"/>
<text x="0.00" y="0.00" font-size="5.2" fill="#000" text-anchor="start" font-family="'Liberation Sans', sans-serif" transform="translate(98.2,777.4) rotate(90)" textLength="48.5" lengthAdjust="spacingAndGlyphs" stroke="#000" stroke-width="0.22">All rights reserved</text>
<text x="0.00" y="0.00" font-size="5.2" fill="#000" text-anchor="start" font-family="'Liberation Sans', sans-serif" transform="translate(92.8,777.4) rotate(90)" textLength="36.5" lengthAdjust="spacingAndGlyphs" stroke="#000" stroke-width="0.22">PCI/PNP 686</text>
<text x="0.00" y="0.00" font-size="4.8" fill="#555" text-anchor="start" font-family="'Liberation Sans', sans-serif" transform="translate(85.3,763.4) rotate(90)" textLength="6.5" lengthAdjust="spacingAndGlyphs" stroke="#555" stroke-width="0.22">S/N</text>
<text x="0.00" y="0.00" font-size="5" fill="#000" text-anchor="start" font-family="'Liberation Sans', sans-serif" transform="translate(85.3,816) rotate(90)" textLength="9" lengthAdjust="spacingAndGlyphs" stroke="#000" stroke-width="0.22">097</text>
<rect x="44.40" y="884.40" width="35.60" height="51.10" fill="#ddd" />
<rect x="44.40" y="886.50" width="35.60" height="46.70" fill="#999" />
<rect x="36.60" y="892.00" width="50.90" height="35.80" fill="#ddd" />
<rect x="38.80" y="892.00" width="46.50" height="35.80" fill="#999" />
<rect x="42.90" y="890.20" width="38.90" height="39.50" fill="#000" />
<circle cx="46.4" cy="926" r="1.8" fill="#999" stroke="#ccc" stroke-width="0.5"/>
<path d="M26.3 20 V11.5 Q26.3 3.3 34.5 3.3 H599 Q608.6 3.3 608.6 13 V746" fill="none" stroke="#000" stroke-width="1.3"/>
<path d="M26.30 67.00 L26.30 85.00" fill="none" stroke="#000" stroke-width="1.3"/>
<path d="M26.30 135.00 L26.30 154.00" fill="none" stroke="#000" stroke-width="1.3"/>
<path d="M26.3 383 V1037 Q26.3 1046.4 36 1046.4 H600 Q608.6 1046.4 608.6 1038 V971" fill="none" stroke="#000" stroke-width="1.3"/>
<path d="M159.50 0.00 L159.50 236.00" fill="none" stroke="#000" stroke-width="1.2"/>
<path d="M159.70 236.00 L159.70 505.00" fill="none" stroke="#000" stroke-width="0.7"/>
<path d="M0.00 35.00 L42.00 35.00" fill="none" stroke="#000" stroke-width="1.4"/>
<path d="M0.00 86.50 L51.00 86.50" fill="none" stroke="#000" stroke-width="1.4"/>
<path d="M0.00 130.50 L75.00 130.50" fill="none" stroke="#000" stroke-width="1.4"/>
<path d="M0.00 179.50 L6.00 179.50" fill="none" stroke="#000" stroke-width="1.4"/>
<path d="M0.00 232.00 L501.00 232.00" fill="none" stroke="#000" stroke-width="1.4"/>
<path d="M0.00 275.50 L16.00 275.50" fill="none" stroke="#000" stroke-width="1.4"/>
<path d="M0.00 324.30 L583.60 324.30 L583.60 307.00" fill="none" stroke="#000" stroke-width="1.4"/>
<path d="M0.00 372.50 L17.00 372.50" fill="none" stroke="#000" stroke-width="1.4"/>
<path d="M0.00 465.50 L278.40 465.50" fill="none" stroke="#000" stroke-width="1.4"/>
<path d="M278.40 368.00 L278.40 741.80 L489.00 741.80" fill="none" stroke="#000" stroke-width="1.4"/>
<path d="M0.00 522.50 L249.40 522.50 L249.40 558.00" fill="none" stroke="#000" stroke-width="1.4"/>
<path d="M0.00 593.30 L435.00 593.30" fill="none" stroke="#000" stroke-width="1.4"/>
<path d="M0.00 666.40 L83.40 666.40" fill="none" stroke="#000" stroke-width="1.4"/>
<path d="M8.00 712.50 L140.40 712.50 L140.40 799.60 L152.00 799.60" fill="none" stroke="#000" stroke-width="1.4"/>
<path d="M0.00 771.00 L86.30 771.00 L86.30 812.80" fill="none" stroke="#000" stroke-width="1.4"/>
<path d="M0.00 832.40 L152.00 832.40" fill="none" stroke="#000" stroke-width="1.4"/>
<path d="M0.00 911.60 L43.00 911.60" fill="none" stroke="#000" stroke-width="1.4"/>
<path d="M246.60 630.00 L246.60 1052.00" fill="none" stroke="#000" stroke-width="1.4"/>
<path d="M201.80 733.30 L215.70 733.30 L215.70 1052.00" fill="none" stroke="#000" stroke-width="1.4"/>
<path d="M186.00 889.00 L186.00 1052.00" fill="none" stroke="#000" stroke-width="1.4"/>
<path d="M390.60 0.00 L390.60 109.00" fill="none" stroke="#000" stroke-width="1.4"/>
<path d="M526.00 0.00 L526.00 130.00" fill="none" stroke="#000" stroke-width="1.4"/>
<path d="M567.70 0.00 L567.70 46.00" fill="none" stroke="#000" stroke-width="1.4"/>
<path d="M590.00 0.00 L590.00 116.00" fill="none" stroke="#000" stroke-width="1.4"/>
<path d="M558.00 244.00 L616.00 244.00" fill="none" stroke="#000" stroke-width="1.4"/>
<path d="M553.50 444.70 L616.00 444.70" fill="none" stroke="#000" stroke-width="1.4"/>
<path d="M513.80 609.00 L513.80 1052.00" fill="none" stroke="#000" stroke-width="1.4"/>
<path d="M538.50 622.00 L538.50 1052.00" fill="none" stroke="#000" stroke-width="1.4"/>
<text x="-1.70" y="712.30" font-size="8.5" fill="#000" text-anchor="start" font-family="'Liberation Sans', sans-serif" font-weight="bold" stroke="#000" stroke-width="0.22">7</text>
</svg></body></html>
